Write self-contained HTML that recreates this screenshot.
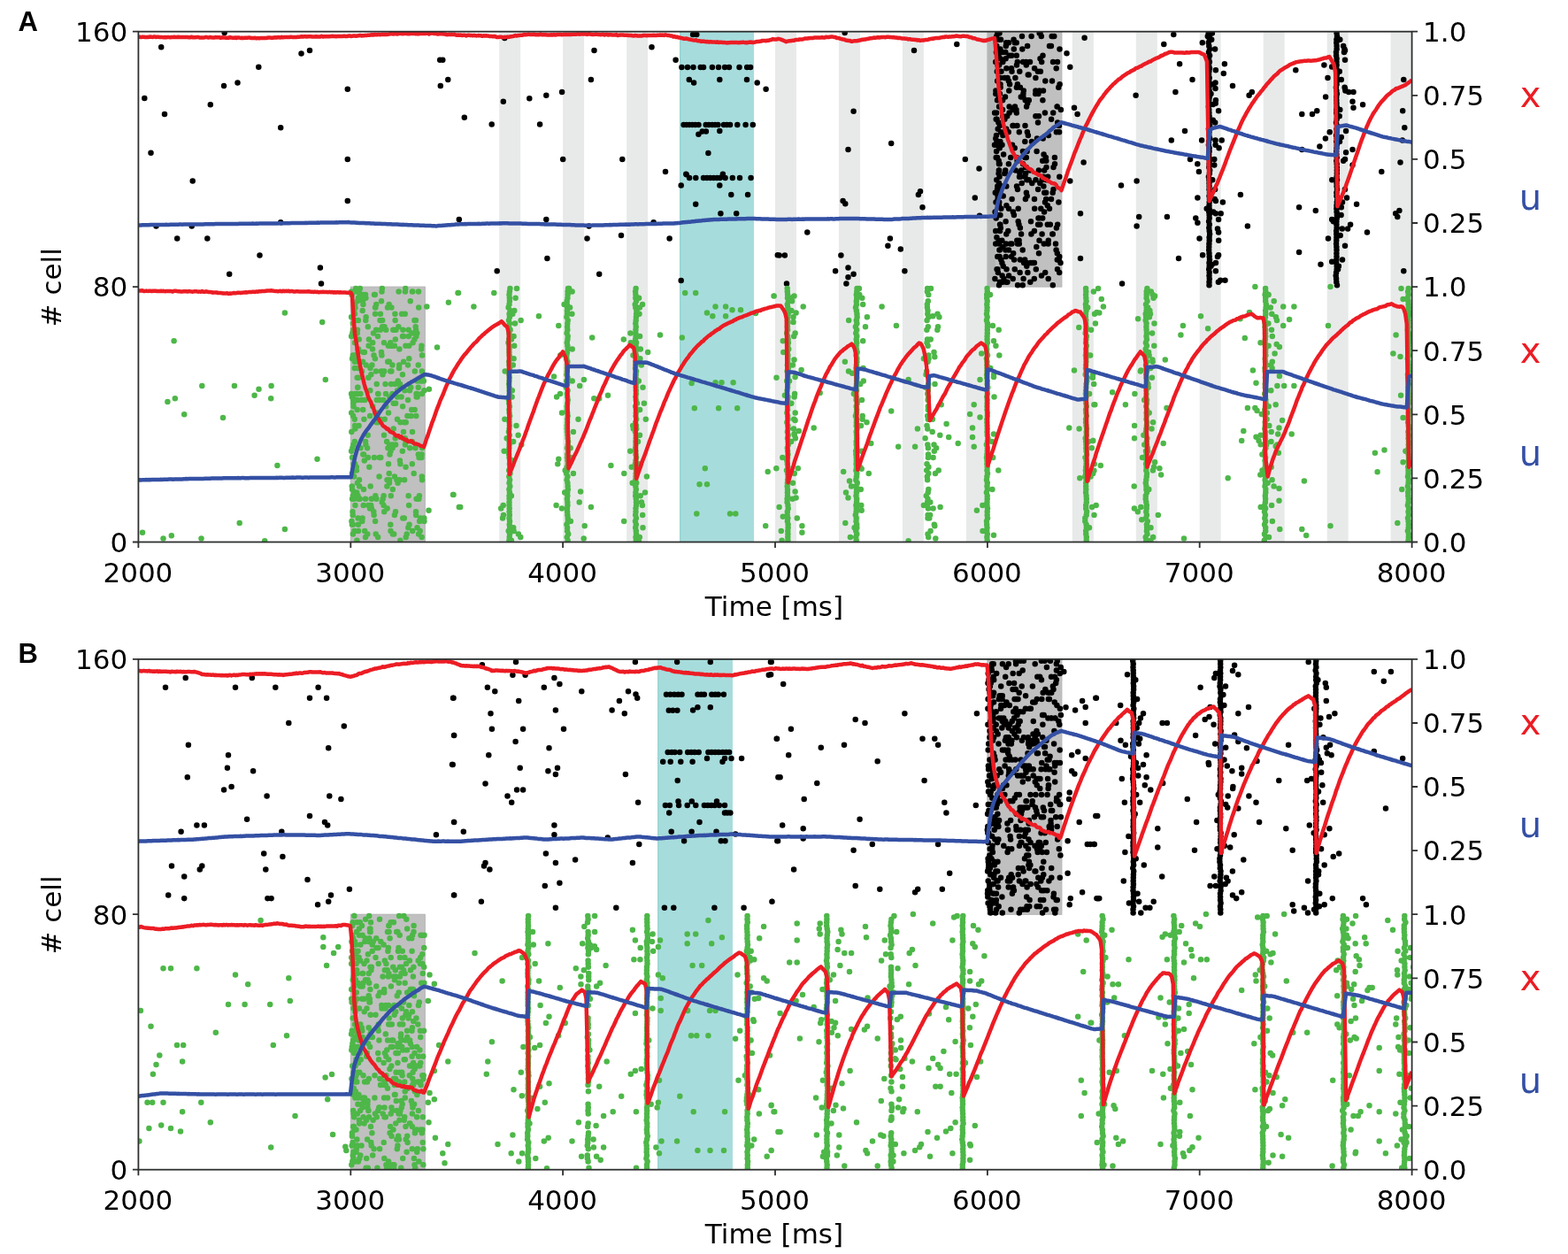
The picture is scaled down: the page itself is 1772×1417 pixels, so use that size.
<!DOCTYPE html>
<html><head><meta charset="utf-8"><title>Figure</title>
<style>html,body{margin:0;padding:0;background:#fff;}svg{display:block;}</style></head>
<body><svg width="1772" height="1417" viewBox="0 0 1772 1417"><defs><clipPath id="clipA"><rect x="156.4" y="35.7" width="1439.2" height="576.8"/></clipPath><clipPath id="clipB"><rect x="156.4" y="744.9" width="1439.2" height="576.8"/></clipPath></defs><rect x="0" y="0" width="1772" height="1417" fill="#ffffff"/><rect x="564.2" y="35.7" width="24" height="576.8" fill="#e8eaea"/><rect x="636.1" y="35.7" width="24" height="576.8" fill="#e8eaea"/><rect x="708.1" y="35.7" width="24" height="576.8" fill="#e8eaea"/><rect x="876" y="35.7" width="24" height="576.8" fill="#e8eaea"/><rect x="948" y="35.7" width="24" height="576.8" fill="#e8eaea"/><rect x="1019.9" y="35.7" width="24" height="576.8" fill="#e8eaea"/><rect x="1091.9" y="35.7" width="24" height="576.8" fill="#e8eaea"/><rect x="1211.8" y="35.7" width="24" height="576.8" fill="#e8eaea"/><rect x="1283.8" y="35.7" width="24" height="576.8" fill="#e8eaea"/><rect x="1355.7" y="35.7" width="24" height="576.8" fill="#e8eaea"/><rect x="1427.7" y="35.7" width="24" height="576.8" fill="#e8eaea"/><rect x="1499.7" y="35.7" width="24" height="576.8" fill="#e8eaea"/><rect x="1571.6" y="35.7" width="24" height="576.8" fill="#e8eaea"/><rect x="768.1" y="35.7" width="84" height="576.8" fill="#a7dcdc"/><rect x="768.1" y="35.7" width="1.2" height="576.8" fill="#94d3cf"/><rect x="1115.9" y="35.7" width="84" height="288.4" fill="#c0c0c0" stroke="#b4b4b4" stroke-width="1"/><rect x="396.3" y="324.1" width="84" height="288.4" fill="#c0c0c0" stroke="#b4b4b4" stroke-width="1"/><rect x="1116.4" y="35.7" width="8.4" height="288.4" fill="#b4b6b6"/><rect x="743.2" y="744.9" width="84.8" height="576.8" fill="#a7dcdc"/><rect x="743.2" y="744.9" width="1.2" height="576.8" fill="#94d3cf"/><rect x="1115.9" y="744.9" width="84" height="288.4" fill="#c0c0c0" stroke="#b4b4b4" stroke-width="1"/><rect x="396.3" y="1033.2" width="84" height="288.4" fill="#c0c0c0" stroke="#b4b4b4" stroke-width="1"/><g clip-path="url(#clipA)"><path d="M182.2 53.3h0M253.7 37h0M163.3 111.1h0M186 129.1h0M170.5 172.7h0M237.8 118.3h0M253.1 97.1h0M268.5 93.5h0M292.3 75.7h0M340.5 60.5h0M350 56.9h0M317.2 144.3h0M217.7 204.6h0M392.8 100.7h0M392.8 179.9h0M392.8 227.1h0M497.2 67.7h0M500.3 67.7h0M506.3 89.9h0M497.8 97.1h0M518.8 248h0M176.5 255.4h0M216.7 255.4h0M317.2 251.2h0M200.2 269.6h0M234.3 269.6h0M293.5 288.5h0M361.9 302.4h0M259.2 309.8h0M363 320.4h0M570.3 43.1h0M671.5 56.9h0M736.5 53.3h0M763.6 67.7h0M783.1 38.9h0M787.3 38.9h0M778.8 89.9h0M784.1 93.5h0M813.3 89.9h0M844 89.9h0M855.7 93.5h0M865.6 100.7h0M667.9 89.9h0M635.1 104.1h0M617.3 107.7h0M598.3 111.3h0M568.8 114.7h0M524.8 132.7h0M555.7 140.5h0M610.1 140.5h0M789.4 151.7h0M793.7 148.5h0M797.9 148.5h0M813.3 148.1h0M800.4 172.9h0M636.2 179.9h0M703.3 179.9h0M752 194.1h0M775.7 197.2h0M769.7 209.5h0M813.3 209.5h0M826.3 220.1h0M845.1 220.1h0M786.2 230.7h0M814.4 241.3h0M832.2 241.3h0M617.3 248h0M665.6 255.4h0M738.6 251.2h0M663.5 269.6h0M702 266h0M756.6 269.6h0M878.8 288.3h0M618.4 292.1h0M561.7 306.3h0M677.2 309.8h0M769.7 317h0M954.7 37h0M1033 56.9h0M1081.3 49.9h0M1225.6 42.7h0M1205.5 60.3h0M1209.3 75.7h0M964.6 125.7h0M1214 121.7h0M1217.6 128.9h0M1007.2 161.9h0M958.5 169.1h0M1090.8 179.9h0M1106.5 190.5h0M1224.6 183.5h0M1209.3 204.6h0M1040 216.3h0M1037.9 220.1h0M1101.8 223.5h0M952.6 226.9h0M955.3 230.3h0M1042.5 234.3h0M1221 241.3h0M1107 243.8h0M912.3 262.4h0M1005.9 269.6h0M1003.4 277.7h0M1017.8 281.5h0M880.6 288.5h0M886.9 288.5h0M950.4 288.5h0M1221 292.1h0M944.1 306.3h0M958.5 302.6h0M964.6 309.8h0M958.5 313.2h0M956.4 320.4h0M1022.4 306.3h0M889 320.4h0M1326.3 38.9h0M1315.3 49.9h0M1333.1 72.3h0M1347.5 89.9h0M1328.4 104.1h0M1283.6 107.7h0M1339 147.9h0M1323.8 158.5h0M1358.1 158.5h0M1345 179.9h0M1354.9 194.1h0M1267 209.5h0M1284.6 204.6h0M1353.4 223.5h0M1287.2 244.9h0M1284.6 255.4h0M1318.9 244.9h0M1353.4 251.8h0M1355.5 269.6h0M1359.1 288.3h0M1332 292.1h0M1268.1 320.4h0M1383.9 72.3h0M1373.9 79.3h0M1382.8 82.9h0M1393 97.1h0M1373.5 93.5h0M1373.5 99.9h0M1370.8 117.9h0M1377.1 125.3h0M1370.8 135.8h0M1373.5 158.5h0M1380.7 158.5h0M1372.3 179.9h0M1372.3 186.6h0M1373.9 226.9h0M1373.9 241.3h0M1379.7 241.3h0M1377.1 248h0M1376 258.6h0M1377.1 262.4h0M1377.1 288.3h0M1369.7 298.8h0M1373.9 306.3h0M1379.2 316.8h0M1384.5 316.8h0M1411.6 107.7h0M1414.8 104.1h0M1401.9 220.1h0M1409.9 255.4h0M1464.3 79.3h0M1471.3 128.9h0M1483 128.9h0M1488.3 125.3h0M1471.3 169.1h0M1491.4 165.5h0M1468.1 234.3h0M1486.8 237.9h0M1468.1 285.1h0M1492.5 298.8h0M1505.2 75.5h0M1520 56.9h0M1520 67.7h0M1515.8 89.9h0M1520 99.9h0M1524.2 104.1h0M1529.5 104.1h0M1528.5 114.7h0M1529.5 121.7h0M1540.1 118.3h0M1521.1 147.9h0M1515.8 154.9h0M1521.1 172.3h0M1528.5 169.1h0M1520 179.9h0M1528.5 186.6h0M1561.3 194.1h0M1522.1 223.5h0M1533.1 230.7h0M1515.8 234.3h0M1505.2 248h0M1516.8 258.6h0M1523.2 258.6h0M1545 262.4h0M1501 269.6h0M1514.7 266h0M1520 277.7h0M1505.2 295.7h0M1586.3 89.9h0M1585.2 125.3h0M1587.3 144.3h0M1582.5 183.5h0M1577.2 241.3h0M1581.4 237.9h0M1579.3 244.9h0M1586.3 306.3h0M1584.8 158.5h0M770.4 75.9h0M777 75.9h0M783.5 75.9h0M791.7 75.9h0M795 75.9h0M804.9 75.9h0M812 75.9h0M819.1 75.9h0M824 75.9h0M835.5 75.9h0M844.2 75.9h0M848.1 75.9h0M772.6 141h0M775.9 141h0M779.1 141h0M782.4 141h0M785.7 141h0M789.5 141h0M797.7 141h0M801 141h0M804.9 141h0M808.1 141h0M811.4 141h0M818 141h0M821.3 141h0M825.1 141h0M833.3 141h0M842.6 141h0M850.8 141h0M779.1 201.1h0M786.3 201.1h0M795 201.1h0M798.8 201.1h0M802.7 201.1h0M806.5 201.1h0M810.3 201.1h0M813.6 201.1h0M819.6 201.1h0M827.8 201.1h0M836 201.1h0M848.6 201.1h0M775.3 196.8h0M816.9 196.8h0M1141.1 95.2h0M1183.8 232.2h0M1174.7 37.5h0M1149 210.5h0M1168.9 261h0M1174.5 271.8h0M1194.6 120.4h0M1195.2 253.8h0M1174 286.2h0M1157.1 297.1h0M1190.5 188.9h0M1148.5 124h0M1179 102.4h0M1130.1 261h0M1136 109.6h0M1158.9 225h0M1144 163.7h0M1138.5 88h0M1133.7 300.7h0M1168.9 297.1h0M1188.1 134.8h0M1193.9 149.3h0M1178.4 113.2h0M1193.7 77.2h0M1165 250.2h0M1161.1 51.9h0M1144.5 142h0M1173.9 192.5h0M1148.8 127.6h0M1143.3 62.7h0M1149.5 142h0M1150.7 250.2h0M1124.4 315.1h0M1145.2 142h0M1129.1 167.3h0M1137.2 145.7h0M1146.8 48.3h0M1135.3 196.1h0M1140.3 102.4h0M1159.7 188.9h0M1143.1 289.9h0M1144.9 239.4h0M1143.5 80.8h0M1139.9 185.3h0M1161.2 116.8h0M1186.9 253.8h0M1137.5 304.3h0M1137.4 77.2h0M1180.3 217.8h0M1139.7 149.3h0M1181 228.6h0M1130.4 253.8h0M1170.4 102.4h0M1171.6 170.9h0M1137.1 48.3h0M1175.4 253.8h0M1130.1 80.8h0M1156.2 69.9h0M1170.4 131.2h0M1137.4 232.2h0M1124.7 239.4h0M1189.3 264.6h0M1197 142h0M1152.4 196.1h0M1144.7 124h0M1128.4 44.7h0M1154.7 206.9h0M1142 275.4h0M1182.5 188.9h0M1165.4 264.6h0M1151.5 253.8h0M1149 178.1h0M1145.2 286.2h0M1130.4 243h0M1160.1 297.1h0M1195 69.9h0M1126.1 44.7h0M1133.1 59.1h0M1180.1 239.4h0M1136.6 66.3h0M1148.9 98.8h0M1150 214.1h0M1162.7 203.3h0M1155.7 322.3h0M1189.8 322.3h0M1160.3 300.7h0M1160.1 120.4h0M1196.3 98.8h0M1177 311.5h0M1174.3 246.6h0M1150.1 322.3h0M1174.7 102.4h0M1197.3 199.7h0M1127.5 73.6h0M1145.8 55.5h0M1169.1 77.2h0M1149.8 69.9h0M1181.2 307.9h0M1124.1 127.6h0M1198.5 297.1h0M1182.2 225h0M1159.8 73.6h0M1136.7 289.9h0M1155.9 170.9h0M1136.2 196.1h0M1143.4 275.4h0M1194.7 120.4h0M1176.8 41.1h0M1178.2 181.7h0M1162.8 113.2h0M1137.3 264.6h0M1190 69.9h0M1177.2 69.9h0M1197.5 55.5h0M1161.8 84.4h0M1170.2 106h0M1132.6 311.5h0M1129.1 232.2h0M1190.5 214.1h0M1164.3 318.7h0M1137.3 210.5h0M1136.4 282.6h0M1189.8 264.6h0M1149.6 181.7h0M1198.9 124h0M1146.7 167.3h0M1151.8 149.3h0M1133 124h0M1180.9 127.6h0M1159.6 69.9h0M1156.8 102.4h0M1155.7 282.6h0M1181.3 91.6h0M1170.5 203.3h0M1127.3 210.5h0M1139.3 261h0M1197.6 95.2h0M1140.1 311.5h0M1126.4 134.8h0M1173 138.4h0M1149.9 95.2h0M1156.6 315.1h0M1136.8 51.9h0M1152 199.7h0M1140.6 120.4h0M1175.9 80.8h0M1159.3 188.9h0M1132.2 210.5h0M1169.2 235.8h0M1191.9 178.1h0M1196.7 293.5h0M1189 91.6h0M1161.2 113.2h0M1159.9 217.8h0M1163.8 192.5h0M1135.3 88h0M1169 225h0M1140.7 62.7h0M1145.6 44.7h0M1172.9 80.8h0M1196.4 142h0M1195.2 138.4h0M1186 51.9h0M1138.2 131.2h0M1140 282.6h0M1149 73.6h0M1175.5 37.5h0M1158.5 199.7h0M1124.8 217.8h0M1147.4 88h0M1149.3 271.8h0M1170.8 304.3h0M1182.4 203.3h0M1159.8 178.1h0M1181.9 178.1h0M1164.6 297.1h0M1180.2 192.5h0M1189.7 217.8h0M1158.3 178.1h0M1197.3 289.9h0M1158.2 293.5h0M1129.9 106h0M1184.7 315.1h0M1133.4 279h0M1144.7 315.1h0M1160.4 203.3h0M1156.1 185.3h0M1168.8 315.1h0M1179.6 174.5h0M1165.6 41.1h0M1193.9 257.4h0M1139.9 48.3h0M1129 55.5h0M1179.8 275.4h0M1143.6 225h0M1194.8 293.5h0M1175.3 206.9h0M1148.7 48.3h0M1138.4 318.7h0M1194.8 286.2h0M1136.3 59.1h0M1139.9 91.6h0M1188.7 41.1h0M1152.6 307.9h0M1154.1 264.6h0M1191.3 41.1h0M1152.8 293.5h0M1177.6 203.3h0M1172 156.5h0M1175.5 66.3h0M1162.6 84.4h0M1148.8 62.7h0M1151.6 271.8h0M1160.7 221.4h0M1126.6 134.8h0M1147.7 192.5h0M1142.2 178.1h0M1183.8 253.8h0M1152.9 257.4h0M1155 41.1h0M1176.3 235.8h0M1186 235.8h0M1140 235.8h0M1145.9 243h0M1133.7 221.4h0M1156.4 106h0M1133.4 152.9h0M1160.6 170.9h0M1161.9 152.9h0M1129 120.4h0M1160.9 149.3h0M1197.2 307.9h0M1173.5 246.6h0M1193 275.4h0M1137.1 318.7h0M1127.6 221.4h0M1151.8 275.4h0M1133.1 113.2h0M1182.3 181.7h0M1184.2 199.7h0M1137 275.4h0M1178.5 62.7h0M1127.6 225h0M1128.9 185.3h0M1178.2 246.6h0M1182.1 217.8h0M1190.2 127.6h0M1184.8 271.8h0M1152.9 98.8h0M1173.1 214.1h0M1197.1 149.3h0M1140.6 127.6h0M1124 163.7h0M1146.1 293.5h0M1129.2 228.6h0M1195 304.3h0M1135.4 134.8h0M1196.4 228.6h0M1164 69.9h0M1145.6 124h0M1174 131.2h0M1150 275.4h0M1192 185.3h0M1158.7 113.2h0M1158.3 160.1h0M1153.8 109.6h0M1156.4 109.6h0M1166 160.1h0M1158.5 142h0M1135.2 149.3h0M1179.4 210.5h0M1184.6 275.4h0M1167 297.1h0M1155.3 55.5h0M1173.4 106h0M1146.8 304.3h0M1136.2 192.5h0M1133.1 131.2h0M1161.4 307.9h0M1136.6 250.2h0M1185 152.9h0M1130 253.8h0M1153.4 199.7h0M1177.6 264.6h0M1170.4 88h0M1187.9 51.9h0M1147 120.4h0M1143 77.2h0M1188 225h0M1193.6 282.6h0M1166.3 206.9h0M1154.2 192.5h0M1152.3 80.8h0M1171.3 279h0M1150.7 235.8h0M1133.3 69.9h0M1159.1 196.1h0M1178.7 156.5h0M1173.1 253.8h0M1178.9 199.7h0M1129 322.3h0M1129.9 318.7h0M1133.1 318.7h0M1134.4 315.1h0M1127.9 307.9h0M1126.6 304.3h0M1127.4 304.3h0M1132.4 297.1h0M1131.3 293.5h0M1127.3 289.9h0M1129.6 289.9h0M1129.7 282.6h0M1129.4 282.6h0M1129.2 275.4h0M1125.2 275.4h0M1128.6 271.8h0M1132.3 271.8h0M1126.4 268.2h0M1125.2 261h0M1130.8 257.4h0M1130.4 253.8h0M1125.7 246.6h0M1127.7 243h0M1130.2 243h0M1124.6 239.4h0M1131.4 235.8h0M1128.6 232.2h0M1125.5 228.6h0M1129 221.4h0M1129.2 221.4h0M1130 217.8h0M1127 214.1h0M1128.7 214.1h0M1129.7 210.5h0M1128.9 206.9h0M1126.3 203.3h0M1129.5 199.7h0M1128.5 196.1h0M1128.8 192.5h0M1129.1 192.5h0M1129.7 185.3h0M1128.7 181.7h0M1125.7 178.1h0M1127.1 178.1h0M1134.1 174.5h0M1126.1 170.9h0M1129.7 167.3h0M1126.7 163.7h0M1132.5 163.7h0M1126.4 160.1h0M1130.4 160.1h0M1125.3 156.5h0M1126 152.9h0M1131 149.3h0M1127.7 145.7h0M1129.9 142h0M1128.4 138.4h0M1125.7 134.8h0M1126.1 127.6h0M1127 113.2h0M1128.9 109.6h0M1128.8 109.6h0M1125.3 106h0M1125.4 102.4h0M1130.6 98.8h0M1130.5 95.2h0M1130 95.2h0M1127.1 91.6h0M1129.8 88h0M1130.4 88h0M1131.5 80.8h0M1126.8 80.8h0M1129.1 73.6h0M1125.2 69.9h0M1130.4 66.3h0M1128.5 62.7h0M1125.9 59.1h0M1129.3 59.1h0M1130.4 55.5h0M1126.3 51.9h0M1131 44.7h0M1126.2 41.1h0M1127.3 37.5h0M1129.5 37.5h0M1366.5 322.3h0M1366.5 318.7h0M1376.9 318.7h0M1366.8 315.1h0M1366.5 311.5h0M1366.7 307.9h0M1366.2 304.3h0M1366.7 300.7h0M1368.5 300.7h0M1366.5 297.1h0M1374 297.1h0M1367 293.5h0M1366.7 289.9h0M1376 289.9h0M1366.5 286.2h0M1366.2 282.6h0M1366.3 279h0M1366.4 275.4h0M1366.7 271.8h0M1377.2 271.8h0M1366.6 268.2h0M1367.1 264.6h0M1366.7 261h0M1366.3 257.4h0M1366.8 253.8h0M1366.1 250.2h0M1366.7 246.6h0M1351.3 246.6h0M1366.6 243h0M1366.2 239.4h0M1371.2 239.4h0M1366.6 235.8h0M1363.7 235.8h0M1366.5 232.2h0M1366.7 228.6h0M1381.9 228.6h0M1366.9 225h0M1372.7 225h0M1366.5 221.4h0M1366.9 217.8h0M1366.5 214.1h0M1373.1 214.1h0M1366.6 210.5h0M1366.5 206.9h0M1366.4 203.3h0M1370.2 203.3h0M1365.9 199.7h0M1366.9 196.1h0M1367.2 192.5h0M1366.3 188.9h0M1366.6 185.3h0M1353.3 185.3h0M1366.8 181.7h0M1366.4 178.1h0M1366.2 174.5h0M1366.6 170.9h0M1366.6 167.3h0M1377.6 167.3h0M1365.9 163.7h0M1373.6 163.7h0M1366.1 160.1h0M1367.2 156.5h0M1366.4 152.9h0M1366.5 149.3h0M1365.9 145.7h0M1367.2 142h0M1366.7 138.4h0M1373.2 138.4h0M1366.3 134.8h0M1366.6 131.2h0M1366.4 127.6h0M1366.3 124h0M1365.9 120.4h0M1366.3 116.8h0M1373.7 116.8h0M1366.3 113.2h0M1373.9 113.2h0M1366.9 109.6h0M1366.8 106h0M1368.5 106h0M1366.7 102.4h0M1366.4 98.8h0M1366.2 95.2h0M1371.2 95.2h0M1366.3 91.6h0M1366.7 88h0M1366.1 84.4h0M1366.4 80.8h0M1367 77.2h0M1366.2 73.6h0M1366.9 69.9h0M1366.1 66.3h0M1367.1 62.7h0M1366 59.1h0M1367 55.5h0M1373.1 55.5h0M1366.3 51.9h0M1365.8 48.3h0M1358.8 48.3h0M1366.7 44.7h0M1369.2 44.7h0M1366.9 41.1h0M1364.8 41.1h0M1365.7 37.5h0M1369.9 37.5h0M1511 322.3h0M1510.3 318.7h0M1510.1 315.1h0M1509.7 311.5h0M1510.1 307.9h0M1510.7 304.3h0M1512.1 304.3h0M1510.7 300.7h0M1512.9 300.7h0M1510.2 297.1h0M1510.3 293.5h0M1517 293.5h0M1510.5 289.9h0M1510.4 286.2h0M1510.5 282.6h0M1510.4 279h0M1510.1 275.4h0M1510.3 271.8h0M1510.4 268.2h0M1510.3 264.6h0M1510.2 261h0M1510.6 257.4h0M1510.4 253.8h0M1526.1 253.8h0M1510.4 250.2h0M1506.9 250.2h0M1510.8 246.6h0M1510.9 243h0M1515.6 243h0M1510.6 239.4h0M1510.4 235.8h0M1510.5 232.2h0M1510.8 228.6h0M1517 228.6h0M1511.2 225h0M1510.5 221.4h0M1510.4 217.8h0M1511 214.1h0M1519.9 214.1h0M1510.6 210.5h0M1510.5 206.9h0M1511 203.3h0M1505.3 203.3h0M1510.6 199.7h0M1510.8 196.1h0M1510.8 192.5h0M1510.8 188.9h0M1510.7 185.3h0M1510.3 181.7h0M1518.2 181.7h0M1510.7 178.1h0M1510.4 174.5h0M1510.3 170.9h0M1510.5 167.3h0M1510.7 163.7h0M1510.3 160.1h0M1514 160.1h0M1510.6 156.5h0M1497.9 156.5h0M1510.1 152.9h0M1510.7 149.3h0M1502.7 149.3h0M1510.5 145.7h0M1510.9 142h0M1510 138.4h0M1510.7 134.8h0M1510.9 131.2h0M1513.7 131.2h0M1510.2 127.6h0M1510.3 124h0M1514.3 124h0M1510.7 120.4h0M1510.5 116.8h0M1510.4 113.2h0M1510.3 109.6h0M1498.1 109.6h0M1510.9 106h0M1510.4 102.4h0M1520.4 102.4h0M1509.9 98.8h0M1519.6 98.8h0M1510.6 95.2h0M1510.9 91.6h0M1510.5 88h0M1500.5 88h0M1510.8 84.4h0M1510.6 80.8h0M1513.8 80.8h0M1510.2 77.2h0M1510.6 73.6h0M1496.4 73.6h0M1510.5 69.9h0M1510.6 66.3h0M1510.1 62.7h0M1510 59.1h0M1519 59.1h0M1510.6 55.5h0M1519.4 55.5h0M1510.6 51.9h0M1518.2 51.9h0M1510.3 48.3h0M1510.4 44.7h0M1514.3 44.7h0M1511 41.1h0M1510.6 37.5h0" stroke="#000000" stroke-width="6.5" stroke-linecap="round" fill="none"/><path d="M321.9 353.6h0M364.2 364.1h0M196.6 385.3h0M228.3 436.1h0M264.9 436.1h0M292.5 439.7h0M306.6 436.1h0M287.6 446.7h0M306.2 450.3h0M197.8 450.3h0M189.4 453.9h0M208.2 468.3h0M252 471.9h0M367.8 429.1h0M358.5 518.7h0M313.4 526.1h0M270.7 591.1h0M321.9 598.1h0M161 601.7h0M184.5 608.6h0M193.8 605.3h0M227.5 608.6h0M299.2 611.2h0M517.5 331.1h0M506.9 341.7h0M482.3 346.6h0M494 392.5h0M484.9 439.7h0M512 558.9h0M518.8 573.1h0M484.5 576.7h0M518 331.1h0M558.3 331.1h0M535.4 346.6h0M608.9 357.2h0M631.3 368h0M669.2 381.5h0M746 378.5h0M770.8 381.5h0M774.2 331.1h0M786.2 331.1h0M808.5 346.6h0M820.1 346.6h0M799 353.6h0M805.3 357.2h0M820.1 357.2h0M827.5 350.2h0M837 350.2h0M854 354h0M874.5 334.5h0M781.6 433h0M808.5 432.3h0M815.5 432.3h0M828.6 432.3h0M784.8 461.3h0M812.1 461.3h0M833.2 461.3h0M796.8 529.3h0M790.5 547.3h0M799 547.3h0M787.3 580.5h0M825 580.5h0M831.3 580.5h0M867.7 532.9h0M877.3 529.3h0M865.2 594.2h0M631.3 518.7h0M690.4 526.1h0M687 446.7h0M677.2 450.3h0M671.3 450.3h0M512.5 558.9h0M520.2 573.1h0M667.9 573.1h0M656.1 555.5h0M660.7 594.2h0M659.7 608.4h0M626 425.5h0M655.2 435.9h0M659.9 429.1h0M874.7 334.5h0M907.7 346.6h0M899.6 353.6h0M896.5 364.1h0M897.5 334.5h0M884.8 385.3h0M897.5 406.5h0M905.6 417.9h0M898.6 426h0M886.9 446.7h0M898.6 475.1h0M902.8 486.9h0M897.5 490.5h0M919.7 483.5h0M926.7 444h0M877.4 529.3h0M901.8 529.3h0M898.6 555.5h0M899.6 562.5h0M880.6 573.1h0M884.8 583.7h0M906.4 594.2h0M906.4 601.7h0M996.6 346.6h0M975.2 385.3h0M1012.9 368h0M963.1 421.7h0M1026.6 429.1h0M1007.2 464.5h0M984.3 501.1h0M1015.2 504.7h0M1034.1 504.7h0M953.2 532.9h0M960 543.4h0M958.5 562.5h0M973.7 576.7h0M955.3 591.1h0M973.7 529.7h0M1054.2 357.2h0M1056.3 403.3h0M1063.7 457.3h0M1069.6 478.9h0M1072.2 494.1h0M1082.7 501.1h0M1100.7 457.3h0M1096.1 467.9h0M1107.5 471.5h0M1099 483.5h0M1099 494.1h0M1100.7 504.7h0M1107.5 429.1h0M1109.2 399.5h0M1121.9 368h0M1123 385.3h0M1123 426h0M1123 490.5h0M1103.9 576.7h0M1123 604.8h0M1062.6 573.1h0M1056.3 594.2h0M1057.3 608.4h0M1026.6 611.2h0M1214 418.6h0M1208.3 483.5h0M1220.3 540.3h0M1219.3 369.9h0M1239.4 352.9h0M1237.3 457.3h0M1235.2 497.9h0M1234.1 573.1h0M1244.8 338.1h0M1246.9 346.6h0M1242.3 353.6h0M1286.1 360.3h0M1305.1 334.5h0M1316.8 406.5h0M1302.4 406.5h0M1289.3 418.6h0M1257.1 443.3h0M1271.9 457.3h0M1236.4 457.3h0M1235.3 497.9h0M1243.8 526.1h0M1236.4 531.8h0M1314.7 501.1h0M1318.5 460.9h0M1310.4 529.3h0M1312.1 536.5h0M1305.1 522.3h0M1289.3 573.1h0M1290.3 587.3h0M1338 608.4h0M1336.9 368h0M1334.4 378.5h0M1357 357.2h0M1365.1 371.3h0M1401.5 360.3h0M1406.8 381.9h0M1412 352.9h0M1418.4 323.9h0M1415.9 418.6h0M1419.5 432.7h0M1409.9 460.9h0M1418.4 460.9h0M1420.5 464.1h0M1425.8 467.9h0M1405.3 486.9h0M1403.2 497.9h0M1419.5 493.7h0M1422.6 497.9h0M1424.7 502.2h0M1387.7 540.3h0M1424.3 536.5h0M1424.7 573.1h0M1450.2 346.6h0M1462.4 346.6h0M1457.1 361h0M1450.2 368h0M1442.7 388.9h0M1445.9 392.1h0M1440.6 399.5h0M1445.9 424.9h0M1443.4 436.1h0M1451.2 436.1h0M1462.4 436.1h0M1441.7 457.3h0M1449.1 475.1h0M1445.5 483.5h0M1444.2 490.5h0M1441.7 504.3h0M1444.9 511.7h0M1459.7 490.5h0M1473.9 543.4h0M1445.5 551.9h0M1445.5 565.7h0M1446.3 598.1h0M1471.3 598.1h0M1476.2 605h0M1503.5 323.9h0M1501 368h0M1503.5 594.2h0M1553.9 511.7h0M1564.5 508.5h0M1556.6 533.3h0M1577.6 378.5h0M1574.4 399.5h0M1582.5 403.1h0M1585.6 338.1h0M1583.1 446.7h0M1585.6 472.1h0M1585.6 522.3h0M1579.3 591.1h0M458.2 325.9h0M468.4 362h0M457.9 329.5h0M428.7 452.1h0M424.3 560.2h0M446.8 383.6h0M473.2 347.5h0M416.6 390.8h0M406.9 325.9h0M403.4 610.7h0M427.1 607.1h0M424 347.5h0M399.5 459.3h0M434.5 369.2h0M441.2 419.6h0M405.3 426.8h0M440.1 542.2h0M417.3 527.8h0M399.2 452.1h0M400.8 473.7h0M404.2 444.9h0M449.1 441.3h0M468.6 462.9h0M438 347.5h0M465.3 376.4h0M441.8 560.2h0M473.9 560.2h0M462.5 592.7h0M410.3 513.4h0M441.5 599.9h0M469.4 506.2h0M415.9 517h0M422.9 517h0M440 545.8h0M405.8 329.5h0M461.6 560.2h0M415.3 603.5h0M434.2 419.6h0M406.2 549.4h0M415.1 506.2h0M461 412.4h0M454.1 354.7h0M438.2 408.8h0M413 333.1h0M403.7 452.1h0M437.4 549.4h0M458.7 498.9h0M475.2 585.5h0M438.4 506.2h0M455 380h0M404.5 408.8h0M425.1 372.8h0M442.4 347.5h0M425.7 434.1h0M418.1 470.1h0M457.7 495.3h0M451.2 412.4h0M464.6 470.1h0M413 563.8h0M429.9 354.7h0M398.8 592.7h0M436.2 459.3h0M419.6 563.8h0M455.1 459.3h0M474.7 599.9h0M445.2 603.5h0M477 542.2h0M472.8 513.4h0M424.9 419.6h0M431 398h0M449.8 430.4h0M409 419.6h0M412.2 599.9h0M410.2 462.9h0M465.8 524.2h0M403.7 426.8h0M468.8 419.6h0M468.4 383.6h0M397.5 333.1h0M409.6 585.5h0M404.2 437.7h0M476.8 426.8h0M457.4 441.3h0M471.5 596.3h0M425.4 563.8h0M456.6 477.3h0M445.9 538.6h0M413.3 362h0M415.8 369.2h0M418 574.6h0M439.9 408.8h0M470 578.3h0M464.3 437.7h0M476.4 390.8h0M443.6 506.2h0M420.4 412.4h0M473.1 603.5h0M450.3 369.2h0M413 607.1h0M427.1 444.9h0M413.7 412.4h0M449 473.7h0M469.7 369.2h0M413.4 502.5h0M422.3 578.3h0M449.1 448.5h0M424.7 603.5h0M432.1 369.2h0M443.4 444.9h0M470.4 380h0M436.2 372.8h0M459.7 603.5h0M410.4 343.9h0M471.3 444.9h0M447.5 372.8h0M432.2 362h0M406.2 549.4h0M466 488.1h0M418.3 441.3h0M409.2 336.7h0M454.9 423.2h0M416.9 383.6h0M458.7 477.3h0M424.4 347.5h0M418.7 549.4h0M439 524.2h0M470.6 563.8h0M476.4 517h0M461.3 596.3h0M453.6 448.5h0M477.1 506.2h0M437.6 574.6h0M423.8 333.1h0M439.6 343.9h0M425.2 343.9h0M470.1 581.9h0M407.5 444.9h0M465.2 462.9h0M452.5 477.3h0M445.6 372.8h0M458.7 607.1h0M436 444.9h0M462.2 390.8h0M411.8 520.6h0M406.7 563.8h0M455.3 585.5h0M419.3 423.2h0M409.7 351.1h0M438.9 408.8h0M456 380h0M398.9 401.6h0M476.1 394.4h0M416.2 571h0M444.3 372.8h0M416.2 426.8h0M473 329.5h0M463.2 506.2h0M452.3 610.7h0M434 387.2h0M467.7 535h0M411.1 513.4h0M447 578.3h0M449.6 545.8h0M421.2 387.2h0M451.9 520.6h0M477.1 401.6h0M479.4 441.3h0M421 394.4h0M433.6 560.2h0M428.5 538.6h0M410 340.3h0M410 408.8h0M461.7 372.8h0M434 491.7h0M476.6 607.1h0M400.9 408.8h0M465.9 329.5h0M463 441.3h0M440 502.5h0M461 452.1h0M447.1 455.7h0M462.1 571h0M424 354.7h0M443.8 553h0M422 376.4h0M461.8 380h0M476.8 419.6h0M456.8 585.5h0M423.9 405.2h0M400.2 354.7h0M427.4 477.3h0M455.9 495.3h0M411 553h0M404.3 394.4h0M442 434.1h0M446.6 362h0M451.4 394.4h0M422.5 401.6h0M431.5 329.5h0M427.5 444.9h0M423 333.1h0M397.2 329.5h0M420 563.8h0M431.7 567.4h0M469.9 362h0M474.7 430.4h0M404.6 585.5h0M466.3 329.5h0M470.5 444.9h0M405.5 480.9h0M457.1 542.2h0M479.3 585.5h0M409.2 333.1h0M434.7 473.7h0M408.5 452.1h0M433.5 571h0M424.3 466.5h0M444.7 455.7h0M457.7 354.7h0M435.5 434.1h0M443.4 412.4h0M418.5 416h0M457.9 502.5h0M451.1 416h0M419.2 571h0M452.4 524.2h0M401.6 444.9h0M428.8 517h0M407.5 506.2h0M478.8 430.4h0M473.6 517h0M441.3 592.7h0M425.3 470.1h0M450.6 329.5h0M463.7 340.3h0M443.8 603.5h0M416.4 426.8h0M437.1 498.9h0M452.3 437.7h0M465.7 498.9h0M427 380h0M437.5 542.2h0M470.3 470.1h0M406.7 333.1h0M410.6 398h0M409.3 589.1h0M470.7 448.5h0M462.3 405.2h0M460.4 470.1h0M430.3 517h0M425.8 452.1h0M403.7 462.9h0M440.4 390.8h0M444.7 484.5h0M473.5 517h0M431 340.3h0M404.9 563.8h0M410.6 333.1h0M472.7 437.7h0M434.2 578.3h0M421.2 459.3h0M439.7 535h0M440.5 513.4h0M441.2 387.2h0M476.9 444.9h0M442.4 419.6h0M466.6 387.2h0M413.4 336.7h0M474.1 589.1h0M446.4 354.7h0M441.5 509.8h0M457.5 477.3h0M446.4 434.1h0M471.6 448.5h0M471.3 430.4h0M431.8 325.9h0M456 488.1h0M479.4 589.1h0M439 466.5h0M454.8 509.8h0M432.5 423.2h0M440.3 448.5h0M458.4 390.8h0M401.3 484.5h0M473.4 563.8h0M429.5 362h0M452 434.1h0M451 416h0M458.5 527.8h0M419.9 574.6h0M448.4 542.2h0M455.4 372.8h0M411.9 398h0M451.8 542.2h0M466.2 599.9h0M433.4 452.1h0M410.7 571h0M422.6 581.9h0M456.1 408.8h0M432.7 563.8h0M477 401.6h0M471.3 376.4h0M445.8 390.8h0M438.9 390.8h0M429.9 372.8h0M443.2 390.8h0M424.1 589.1h0M476.9 430.4h0M403.2 556.6h0M447.1 502.5h0M472.7 412.4h0M413.1 498.9h0M411.4 473.7h0M425.5 477.3h0M401.2 524.2h0M476.8 538.6h0M431.4 401.6h0M415.7 491.7h0M429.2 452.1h0M412.4 452.1h0M445.9 581.9h0M433.9 369.2h0M413.6 358.3h0M476.6 513.4h0M446.7 495.3h0M470 372.8h0M443.5 502.5h0M430.7 419.6h0M425.9 466.5h0M429.5 473.7h0M398.9 603.5h0M400.4 599.9h0M405 599.9h0M397.9 592.7h0M404.9 592.7h0M397.4 589.1h0M398.7 581.9h0M398.5 578.3h0M401.4 571h0M398.1 563.8h0M399.9 563.8h0M398.9 560.2h0M404.5 560.2h0M400.1 556.6h0M398.1 553h0M397.8 549.4h0M403.9 545.8h0M406 542.2h0M399.9 538.6h0M400.1 538.6h0M398 535h0M399.4 531.4h0M402.9 531.4h0M402 527.8h0M402.8 527.8h0M399.5 524.2h0M398.1 517h0M397.1 509.8h0M398.4 506.2h0M399.4 502.5h0M400.8 498.9h0M397.3 488.1h0M401.1 480.9h0M399 470.1h0M397.2 466.5h0M399.3 455.7h0M399.3 452.1h0M397.9 448.5h0M398.6 448.5h0M397.1 444.9h0M403.1 444.9h0M404.4 437.7h0M400.7 416h0M404.6 416h0M404.8 408.8h0M401.2 405.2h0M398.1 405.2h0M399.8 401.6h0M404.5 398h0M405.1 394.4h0M401 387.2h0M405.7 383.6h0M397.1 380h0M398.3 376.4h0M403.7 376.4h0M399 372.8h0M404 372.8h0M398.9 365.6h0M401.3 362h0M404.9 362h0M397.1 358.3h0M400.9 354.7h0M400.3 351.1h0M401.5 347.5h0M401.2 343.9h0M403.9 340.3h0M404.9 336.7h0M402.7 329.5h0M402.1 325.9h0M575.4 610.7h0M577.9 610.7h0M575.7 607.1h0M588.3 607.1h0M576 603.5h0M585.9 603.5h0M574.7 599.9h0M580.6 599.9h0M576.1 596.3h0M580.2 596.3h0M575.7 592.7h0M576 589.1h0M575.5 585.5h0M568.1 585.5h0M575.8 581.9h0M569 581.9h0M575.6 578.3h0M575.7 574.6h0M566.2 574.6h0M575.5 571h0M568.7 571h0M575.5 567.4h0M575.6 563.8h0M575.5 560.2h0M577.9 560.2h0M575.9 556.6h0M575.4 553h0M576.3 549.4h0M575.5 545.8h0M576.1 542.2h0M575.3 538.6h0M576.4 535h0M575.2 531.4h0M576.4 527.8h0M575.9 524.2h0M576.1 520.6h0M579.2 520.6h0M575.5 517h0M575.2 513.4h0M575.1 509.8h0M569.7 509.8h0M575.4 506.2h0M575.6 502.5h0M589.3 502.5h0M575.5 498.9h0M580.1 498.9h0M575 495.3h0M572.7 495.3h0M575.8 491.7h0M585.6 491.7h0M574.9 488.1h0M575.5 484.5h0M575.8 480.9h0M583.5 480.9h0M575.6 477.3h0M575.5 473.7h0M570.4 473.7h0M576.1 470.1h0M575.6 466.5h0M575.4 462.9h0M575.9 459.3h0M575.3 455.7h0M575 452.1h0M575.1 448.5h0M578.6 448.5h0M575.9 444.9h0M575.7 441.3h0M578.8 441.3h0M575.6 437.7h0M575.2 434.1h0M575.5 430.4h0M575.7 426.8h0M575.4 423.2h0M575.6 419.6h0M570.7 419.6h0M575.9 416h0M575.5 412.4h0M579.8 412.4h0M575.3 408.8h0M576.1 405.2h0M580.6 405.2h0M575.7 401.6h0M575.5 398h0M575.5 394.4h0M575.5 390.8h0M581.2 390.8h0M574.5 387.2h0M575.2 383.6h0M577.9 383.6h0M576 380h0M580.6 380h0M575.4 376.4h0M576.6 372.8h0M575.2 369.2h0M575.9 365.6h0M582 365.6h0M575 362h0M588.6 362h0M575.9 358.3h0M575.6 354.7h0M579.3 354.7h0M576.4 351.1h0M581.3 351.1h0M574.6 347.5h0M575.5 343.9h0M575.9 340.3h0M575.8 336.7h0M582.6 336.7h0M575.5 333.1h0M575.9 329.5h0M576.4 325.9h0M584 325.9h0M641.6 610.7h0M640.7 607.1h0M642.2 603.5h0M641.1 599.9h0M641.1 596.3h0M640.4 592.7h0M641.8 589.1h0M644.9 589.1h0M641.7 585.5h0M641.3 581.9h0M641.1 578.3h0M640.9 574.6h0M634.9 574.6h0M641.4 571h0M628.6 571h0M641.3 567.4h0M654.7 567.4h0M640.9 563.8h0M641.3 560.2h0M641.2 556.6h0M638.2 556.6h0M641.8 553h0M641.6 549.4h0M641.4 545.8h0M640.6 542.2h0M641.4 538.6h0M640.2 535h0M647.9 535h0M641 531.4h0M638.7 531.4h0M640.7 527.8h0M641.6 524.2h0M630.3 524.2h0M641.3 520.6h0M641 517h0M644.7 517h0M641.1 513.4h0M641.9 509.8h0M640.9 506.2h0M644.6 506.2h0M641.7 502.5h0M642 498.9h0M641.5 495.3h0M641.3 491.7h0M641 488.1h0M647.9 488.1h0M640.8 484.5h0M640.8 480.9h0M641.1 477.3h0M641.1 473.7h0M653.5 473.7h0M641.6 470.1h0M641.2 466.5h0M635 466.5h0M640.7 462.9h0M640.7 459.3h0M641.2 455.7h0M641.7 452.1h0M641.2 448.5h0M629.1 448.5h0M640.9 444.9h0M633 444.9h0M641.5 441.3h0M639.9 437.7h0M641.1 434.1h0M640.2 430.4h0M646.7 430.4h0M641.5 426.8h0M640.4 423.2h0M640.8 419.6h0M640.9 416h0M641 412.4h0M641.4 408.8h0M640.3 405.2h0M640.4 401.6h0M633.2 401.6h0M641 398h0M641.7 394.4h0M646.7 394.4h0M641.3 390.8h0M640.8 387.2h0M641.4 383.6h0M641.7 380h0M640.6 376.4h0M641.3 372.8h0M641.1 369.2h0M641.3 365.6h0M641.7 362h0M640.4 358.3h0M641 354.7h0M646.4 354.7h0M640.9 351.1h0M641.1 347.5h0M644.1 347.5h0M640.8 343.9h0M637.6 343.9h0M640.7 340.3h0M641.4 336.7h0M641.6 333.1h0M641.6 329.5h0M646.6 329.5h0M642 325.9h0M643.1 325.9h0M718.8 610.7h0M721.9 610.7h0M718.5 607.1h0M722.8 607.1h0M719 603.5h0M718.8 599.9h0M718.2 596.3h0M726.5 596.3h0M718.8 592.7h0M718 589.1h0M705.2 589.1h0M718.9 585.5h0M718.2 581.9h0M726.2 581.9h0M718.5 578.3h0M718.5 574.6h0M719 571h0M725.9 571h0M719 567.4h0M725 567.4h0M718.8 563.8h0M718.2 560.2h0M723.7 560.2h0M718.4 556.6h0M729 556.6h0M718.8 553h0M718.3 549.4h0M719.2 545.8h0M714.7 545.8h0M718.2 542.2h0M718.5 538.6h0M730.9 538.6h0M718.6 535h0M705.3 535h0M718.9 531.4h0M718.5 527.8h0M713.8 527.8h0M717.9 524.2h0M723.5 524.2h0M718.4 520.6h0M719 517h0M718.5 513.4h0M718.4 509.8h0M712.2 509.8h0M718.1 506.2h0M718.5 502.5h0M718.4 498.9h0M721 498.9h0M718.6 495.3h0M718.7 491.7h0M723 491.7h0M717.9 488.1h0M719.2 484.5h0M715.8 484.5h0M719 480.9h0M715.2 480.9h0M718.2 477.3h0M719.2 473.7h0M729.8 473.7h0M718.5 470.1h0M718.7 466.5h0M718.8 462.9h0M723.1 462.9h0M718.1 459.3h0M719.9 455.7h0M727.9 455.7h0M718.7 452.1h0M718.4 448.5h0M718.9 444.9h0M718.8 441.3h0M718.7 437.7h0M726.5 437.7h0M718.8 434.1h0M718.2 430.4h0M721.8 430.4h0M718.6 426.8h0M718.7 423.2h0M719.1 419.6h0M718 416h0M718.3 412.4h0M724.9 412.4h0M718.4 408.8h0M719 405.2h0M723.4 405.2h0M718.9 401.6h0M715.5 401.6h0M718.3 398h0M732.2 398h0M719.1 394.4h0M723.8 394.4h0M718.6 390.8h0M719.1 387.2h0M712.9 387.2h0M718.1 383.6h0M704.8 383.6h0M718.5 380h0M723.1 380h0M718.4 376.4h0M712.4 376.4h0M718.4 372.8h0M718.7 369.2h0M718.3 365.6h0M718.7 362h0M718.9 358.3h0M719.1 354.7h0M722.5 354.7h0M719.3 351.1h0M718.3 347.5h0M722.9 347.5h0M717.7 343.9h0M726.1 343.9h0M719 340.3h0M718.3 336.7h0M722.1 336.7h0M718.4 333.1h0M718.1 329.5h0M718.6 325.9h0M890.4 610.7h0M883.6 610.7h0M890.3 607.1h0M890.4 603.5h0M890.3 599.9h0M882.8 599.9h0M890.6 596.3h0M890.6 592.7h0M889.9 589.1h0M890.3 585.5h0M900.8 585.5h0M889.7 581.9h0M889.8 578.3h0M890.7 574.6h0M890.4 571h0M889.6 567.4h0M889.6 563.8h0M895.6 563.8h0M890 560.2h0M889.9 556.6h0M890 553h0M889.7 549.4h0M889.9 545.8h0M896 545.8h0M890.1 542.2h0M890.5 538.6h0M890.1 535h0M897.8 535h0M889 531.4h0M890.3 527.8h0M889.8 524.2h0M889.3 520.6h0M890 517h0M884.3 517h0M890.4 513.4h0M890.1 509.8h0M889.8 506.2h0M890.7 502.5h0M890.6 498.9h0M894.1 498.9h0M890 495.3h0M898.9 495.3h0M890.7 491.7h0M897.9 491.7h0M889.9 488.1h0M890.7 484.5h0M897 484.5h0M890.4 480.9h0M889.4 477.3h0M890.5 473.7h0M897.3 473.7h0M890.2 470.1h0M889.4 466.5h0M898.7 466.5h0M890.1 462.9h0M890.1 459.3h0M890.1 455.7h0M894.3 455.7h0M890.2 452.1h0M890.5 448.5h0M897.7 448.5h0M889.4 444.9h0M898.1 444.9h0M889.6 441.3h0M890.1 437.7h0M890.2 434.1h0M889.2 430.4h0M892 430.4h0M890.3 426.8h0M877.5 426.8h0M890.3 423.2h0M889.6 419.6h0M890.8 416h0M889.9 412.4h0M895.8 412.4h0M890.2 408.8h0M890.3 405.2h0M890.4 401.6h0M889.9 398h0M885.3 398h0M891.2 394.4h0M890.2 390.8h0M890.9 387.2h0M890.6 383.6h0M890.1 380h0M897.2 380h0M889.2 376.4h0M898.6 376.4h0M890.1 372.8h0M889.9 369.2h0M890.1 365.6h0M890 362h0M889.9 358.3h0M896.5 358.3h0M890.6 354.7h0M890.3 351.1h0M894.4 351.1h0M890.3 347.5h0M889.8 343.9h0M890.8 340.3h0M895.1 340.3h0M890 336.7h0M894.3 336.7h0M890.1 333.1h0M889.8 329.5h0M889.7 325.9h0M967.7 610.7h0M967.3 607.1h0M960.9 607.1h0M968.2 603.5h0M967.3 599.9h0M968.2 596.3h0M965.6 596.3h0M968.1 592.7h0M967.5 589.1h0M967.7 585.5h0M966.8 581.9h0M967.6 578.3h0M967.8 574.6h0M967.4 571h0M973.3 571h0M968 567.4h0M968.1 563.8h0M967.5 560.2h0M967.9 556.6h0M956 556.6h0M968 553h0M972.8 553h0M967.6 549.4h0M962.1 549.4h0M968.7 545.8h0M967.3 542.2h0M967.9 538.6h0M968.2 535h0M981.8 535h0M967.4 531.4h0M967.9 527.8h0M971.9 527.8h0M967.6 524.2h0M967.8 520.6h0M967.7 517h0M967.4 513.4h0M967.2 509.8h0M973.5 509.8h0M968.1 506.2h0M967.8 502.5h0M967.7 498.9h0M968.1 495.3h0M968 491.7h0M967.7 488.1h0M968.4 484.5h0M967.7 480.9h0M973 480.9h0M967.8 477.3h0M979.5 477.3h0M967.9 473.7h0M974.6 473.7h0M966.9 470.1h0M974.7 470.1h0M967.9 466.5h0M968.1 462.9h0M967.7 459.3h0M968.6 455.7h0M967.6 452.1h0M974 452.1h0M967.6 448.5h0M967.2 444.9h0M964.9 444.9h0M967.9 441.3h0M967.5 437.7h0M968 434.1h0M972.2 434.1h0M968.1 430.4h0M975.8 430.4h0M968.2 426.8h0M968 423.2h0M967.7 419.6h0M959 419.6h0M967.5 416h0M975.5 416h0M967.9 412.4h0M968.3 408.8h0M954.9 408.8h0M968.3 405.2h0M967.5 401.6h0M968.6 398h0M967.7 394.4h0M967.6 390.8h0M968.1 387.2h0M967.7 383.6h0M968.2 380h0M967.3 376.4h0M968.1 372.8h0M966.9 369.2h0M978 369.2h0M968.3 365.6h0M967.8 362h0M959.2 362h0M968.6 358.3h0M979.9 358.3h0M968.4 354.7h0M967.8 351.1h0M967 347.5h0M967.9 343.9h0M975.2 343.9h0M967.8 340.3h0M968.2 336.7h0M974.3 336.7h0M967.8 333.1h0M971.3 333.1h0M968.3 329.5h0M968.5 325.9h0M970.9 325.9h0M1049.2 607.1h0M1048.5 603.5h0M1051.6 599.9h0M1055.8 592.7h0M1048.5 585.5h0M1050.3 585.5h0M1048.6 581.9h0M1051.1 581.9h0M1048.9 574.6h0M1054.6 574.6h0M1047.9 571h0M1043.9 571h0M1048 567.4h0M1051.3 567.4h0M1048.5 563.8h0M1046.8 560.2h0M1048.7 556.6h0M1049.3 553h0M1048.1 542.2h0M1047.8 538.6h0M1049.3 535h0M1057 535h0M1047.2 531.4h0M1060.7 531.4h0M1049.4 527.8h0M1047.5 524.2h0M1048.9 517h0M1054.6 517h0M1049 513.4h0M1055.8 509.8h0M1048.9 506.2h0M1058.1 506.2h0M1048.3 502.5h0M1055.5 502.5h0M1045.6 495.3h0M1062.3 491.7h0M1053.7 488.1h0M1048.2 484.5h0M1036.9 484.5h0M1047.5 480.9h0M1048.8 473.7h0M1053.9 473.7h0M1048.2 470.1h0M1048.8 462.9h0M1048.8 459.3h0M1048.6 452.1h0M1049 448.5h0M1048.2 444.9h0M1048.8 441.3h0M1048.9 437.7h0M1046.1 437.7h0M1049.2 434.1h0M1056.5 434.1h0M1046.5 423.2h0M1047.2 419.6h0M1048.6 408.8h0M1049.5 405.2h0M1043.9 405.2h0M1049.3 401.6h0M1055.5 398h0M1048.6 390.8h0M1047.5 387.2h0M1048 383.6h0M1051.7 383.6h0M1047.4 372.8h0M1059.3 372.8h0M1048.8 369.2h0M1060 369.2h0M1047.6 362h0M1049.4 358.3h0M1061.4 358.3h0M1048.3 354.7h0M1059.5 354.7h0M1048.5 351.1h0M1047.9 347.5h0M1047.8 343.9h0M1048.8 340.3h0M1049.3 333.1h0M1047.9 329.5h0M1048.1 325.9h0M1052 325.9h0M1115.7 610.7h0M1115.4 607.1h0M1115.8 603.5h0M1115.2 599.9h0M1110.5 599.9h0M1115.5 596.3h0M1115.2 592.7h0M1115 589.1h0M1116 585.5h0M1115.7 581.9h0M1115.7 578.3h0M1116 574.6h0M1115.5 571h0M1110.4 571h0M1115.5 567.4h0M1115.7 563.8h0M1115.7 560.2h0M1114.9 556.6h0M1115.9 553h0M1121.4 553h0M1115.5 549.4h0M1115.8 545.8h0M1115 542.2h0M1115.4 538.6h0M1116 535h0M1115.5 531.4h0M1128.3 531.4h0M1115.7 527.8h0M1115.4 524.2h0M1115.4 520.6h0M1115 517h0M1122.2 517h0M1115.4 513.4h0M1115.7 509.8h0M1115.8 506.2h0M1114.9 502.5h0M1115.9 498.9h0M1121.1 498.9h0M1116.4 495.3h0M1115.7 491.7h0M1115.5 488.1h0M1115.7 484.5h0M1115.6 480.9h0M1115.4 477.3h0M1115.4 473.7h0M1115.8 470.1h0M1115.9 466.5h0M1115.5 462.9h0M1115.5 459.3h0M1115.6 455.7h0M1115.7 452.1h0M1115.3 448.5h0M1123.5 448.5h0M1115.9 444.9h0M1115.6 441.3h0M1116.3 437.7h0M1115.7 434.1h0M1115.8 430.4h0M1115.3 426.8h0M1115.1 423.2h0M1123.1 423.2h0M1115.4 419.6h0M1115.5 416h0M1119.3 416h0M1115.4 412.4h0M1115.4 408.8h0M1114.9 405.2h0M1116 401.6h0M1129.3 401.6h0M1115.1 398h0M1115.2 394.4h0M1115 390.8h0M1125.4 390.8h0M1115.8 387.2h0M1115.6 383.6h0M1115.6 380h0M1115.8 376.4h0M1115.8 372.8h0M1128.7 372.8h0M1115.9 369.2h0M1115.9 365.6h0M1115 362h0M1115.7 358.3h0M1115 354.7h0M1115.4 351.1h0M1115.6 347.5h0M1115.3 343.9h0M1115.7 340.3h0M1115.2 336.7h0M1115.2 333.1h0M1119 333.1h0M1115.8 329.5h0M1115.6 325.9h0M1227.7 610.7h0M1227.8 607.1h0M1227.3 603.5h0M1227.2 599.9h0M1227.8 596.3h0M1231 596.3h0M1227.6 592.7h0M1226.3 589.1h0M1226.3 585.5h0M1227.7 581.9h0M1236.5 581.9h0M1228.1 578.3h0M1227.2 574.6h0M1227.2 571h0M1238.7 571h0M1227.8 567.4h0M1227.8 563.8h0M1227.6 560.2h0M1227.1 556.6h0M1227.3 553h0M1227.2 549.4h0M1227.2 545.8h0M1227.5 542.2h0M1229 542.2h0M1226.3 538.6h0M1232.6 538.6h0M1227.1 535h0M1235.2 535h0M1226.9 531.4h0M1227.2 527.8h0M1227.6 524.2h0M1236.7 524.2h0M1227.5 520.6h0M1226.5 517h0M1228.1 513.4h0M1227.6 509.8h0M1227.3 506.2h0M1233.8 506.2h0M1227.4 502.5h0M1227.1 498.9h0M1229.9 498.9h0M1226.7 495.3h0M1227.8 491.7h0M1227.7 488.1h0M1228 484.5h0M1219.6 484.5h0M1227.5 480.9h0M1227.1 477.3h0M1227.1 473.7h0M1227.8 470.1h0M1227.3 466.5h0M1227.1 462.9h0M1227.8 459.3h0M1227.3 455.7h0M1227.1 452.1h0M1227.5 448.5h0M1226.9 444.9h0M1231.1 444.9h0M1227.1 441.3h0M1227.4 437.7h0M1227.6 434.1h0M1236.2 434.1h0M1228.2 430.4h0M1228.5 426.8h0M1234.9 426.8h0M1226.7 423.2h0M1235.1 423.2h0M1227.5 419.6h0M1227 416h0M1227.1 412.4h0M1227.4 408.8h0M1227.3 405.2h0M1226.9 401.6h0M1232.2 401.6h0M1227.3 398h0M1227.2 394.4h0M1227.8 390.8h0M1227.1 387.2h0M1227.4 383.6h0M1227.9 380h0M1226.7 376.4h0M1227.2 372.8h0M1233.1 372.8h0M1227.5 369.2h0M1227.2 365.6h0M1237.9 365.6h0M1227.3 362h0M1226.9 358.3h0M1227 354.7h0M1237 354.7h0M1227.5 351.1h0M1227.2 347.5h0M1229.2 347.5h0M1226.9 343.9h0M1227.6 340.3h0M1227.3 336.7h0M1227.1 333.1h0M1227.3 329.5h0M1235.9 329.5h0M1227.1 325.9h0M1241.1 325.9h0M1295.3 610.7h0M1300.4 610.7h0M1294.7 607.1h0M1303.1 607.1h0M1296.5 603.5h0M1295.9 599.9h0M1296.1 596.3h0M1300.5 596.3h0M1295.9 592.7h0M1296.8 589.1h0M1295.1 585.5h0M1295.9 581.9h0M1308.8 581.9h0M1295.3 578.3h0M1285.8 578.3h0M1295.7 574.6h0M1281.9 574.6h0M1295.8 571h0M1295.3 567.4h0M1294.7 563.8h0M1294.8 560.2h0M1296 556.6h0M1295.4 553h0M1298.3 553h0M1295.4 549.4h0M1281.7 549.4h0M1294.8 545.8h0M1295.3 542.2h0M1295.8 538.6h0M1296 535h0M1295.3 531.4h0M1302.9 531.4h0M1295.6 527.8h0M1304 527.8h0M1295.1 524.2h0M1295.7 520.6h0M1295.4 517h0M1291 517h0M1295.5 513.4h0M1295 509.8h0M1297.3 509.8h0M1296.8 506.2h0M1296 502.5h0M1293.3 502.5h0M1295.8 498.9h0M1296.3 495.3h0M1282 495.3h0M1295.2 491.7h0M1292.4 491.7h0M1295 488.1h0M1295.4 484.5h0M1301.5 484.5h0M1295.9 480.9h0M1282.1 480.9h0M1296.2 477.3h0M1303.1 477.3h0M1295.5 473.7h0M1295.8 470.1h0M1295.6 466.5h0M1298.7 466.5h0M1296 462.9h0M1295.3 459.3h0M1295.9 455.7h0M1296.1 452.1h0M1293.2 452.1h0M1295.2 448.5h0M1295.5 444.9h0M1282.4 444.9h0M1295.4 441.3h0M1295.2 437.7h0M1297.7 437.7h0M1296 434.1h0M1297.4 434.1h0M1295.9 430.4h0M1295.5 426.8h0M1301.9 426.8h0M1295.4 423.2h0M1296 419.6h0M1288.8 419.6h0M1295.8 416h0M1300.2 416h0M1295 412.4h0M1296 408.8h0M1302.6 408.8h0M1295.1 405.2h0M1295.3 401.6h0M1298.6 401.6h0M1295.1 398h0M1298.1 398h0M1294.7 394.4h0M1295.9 390.8h0M1304.3 390.8h0M1294.9 387.2h0M1295.9 383.6h0M1295.5 380h0M1295.9 376.4h0M1302.1 376.4h0M1295.6 372.8h0M1295.4 369.2h0M1295.6 365.6h0M1304.5 365.6h0M1294.7 362h0M1295.1 358.3h0M1298.9 358.3h0M1294.7 354.7h0M1300 354.7h0M1295.6 351.1h0M1299.4 351.1h0M1295.7 347.5h0M1297.2 347.5h0M1295 343.9h0M1296.5 340.3h0M1295.6 336.7h0M1303.5 336.7h0M1295.7 333.1h0M1302.6 333.1h0M1295.7 329.5h0M1300.8 329.5h0M1296.4 325.9h0M1428.8 610.7h0M1430.5 607.1h0M1434 607.1h0M1429 603.5h0M1430.2 599.9h0M1430.2 596.3h0M1429.1 592.7h0M1430.1 589.1h0M1437.9 589.1h0M1429.3 585.5h0M1429.9 581.9h0M1429 578.3h0M1430.1 574.6h0M1429.2 571h0M1437.1 571h0M1429.9 567.4h0M1430.1 563.8h0M1429.8 560.2h0M1430.3 556.6h0M1430.3 553h0M1429.5 549.4h0M1439.6 549.4h0M1430.1 545.8h0M1432.6 545.8h0M1429.6 542.2h0M1437.6 542.2h0M1430.1 538.6h0M1430.4 535h0M1429.7 531.4h0M1426.5 531.4h0M1429.8 527.8h0M1436.7 527.8h0M1430 524.2h0M1429.5 520.6h0M1430.1 517h0M1429.6 513.4h0M1426.4 513.4h0M1429.3 509.8h0M1430.4 506.2h0M1431.2 502.5h0M1443.4 502.5h0M1430.4 498.9h0M1436.5 498.9h0M1430 495.3h0M1429.9 491.7h0M1424.7 491.7h0M1429.9 488.1h0M1436.7 488.1h0M1429.3 484.5h0M1429.8 480.9h0M1434.3 480.9h0M1429.7 477.3h0M1430.3 473.7h0M1431.6 473.7h0M1429.9 470.1h0M1429.5 466.5h0M1431.9 466.5h0M1429.3 462.9h0M1430 459.3h0M1433.7 459.3h0M1430.6 455.7h0M1430.4 452.1h0M1430 448.5h0M1429.2 444.9h0M1430.8 441.3h0M1436.3 441.3h0M1429.8 437.7h0M1429.7 434.1h0M1430.1 430.4h0M1429.9 426.8h0M1430.1 423.2h0M1429.7 419.6h0M1429.5 416h0M1437.6 416h0M1431.1 412.4h0M1436.3 412.4h0M1430 408.8h0M1437.8 408.8h0M1429.7 405.2h0M1430.4 401.6h0M1430.1 398h0M1430.3 394.4h0M1429.9 390.8h0M1433.6 390.8h0M1429.6 387.2h0M1424.5 387.2h0M1429.9 383.6h0M1430.2 380h0M1437.8 380h0M1430 376.4h0M1430 372.8h0M1437 372.8h0M1429.6 369.2h0M1429.6 365.6h0M1433.4 365.6h0M1429.4 362h0M1443 362h0M1429.9 358.3h0M1441.9 358.3h0M1430.3 354.7h0M1437.3 354.7h0M1430.2 351.1h0M1430.6 347.5h0M1435.8 347.5h0M1430.8 343.9h0M1430.2 340.3h0M1439.7 340.3h0M1430.2 336.7h0M1429.6 333.1h0M1433.6 333.1h0M1430.3 329.5h0M1430.1 325.9h0M1591.5 610.7h0M1591.8 607.1h0M1598.8 607.1h0M1591.9 603.5h0M1598.3 603.5h0M1590.9 599.9h0M1591.7 596.3h0M1591.8 592.7h0M1591.6 589.1h0M1591 585.5h0M1592 581.9h0M1591.5 578.3h0M1592.1 574.6h0M1590.9 571h0M1591.6 567.4h0M1591.7 563.8h0M1591.3 560.2h0M1591.2 556.6h0M1591.6 553h0M1584.3 553h0M1590.9 549.4h0M1591.6 545.8h0M1591.8 542.2h0M1591 538.6h0M1591.5 535h0M1603.1 535h0M1591.5 531.4h0M1591.2 527.8h0M1592.1 524.2h0M1591.7 520.6h0M1592 517h0M1591.7 513.4h0M1591.5 509.8h0M1588.4 509.8h0M1591.7 506.2h0M1591.8 502.5h0M1591.9 498.9h0M1591.6 495.3h0M1601.8 495.3h0M1591.7 491.7h0M1597.2 491.7h0M1591.4 488.1h0M1598.4 488.1h0M1592 484.5h0M1591.7 480.9h0M1591.1 477.3h0M1591.3 473.7h0M1591.5 470.1h0M1604.8 470.1h0M1591.6 466.5h0M1591.7 462.9h0M1590.8 459.3h0M1591.6 455.7h0M1591.6 452.1h0M1591.5 448.5h0M1601.7 448.5h0M1591.5 444.9h0M1591.3 441.3h0M1591.3 437.7h0M1591.5 434.1h0M1597.6 434.1h0M1591.4 430.4h0M1591.1 426.8h0M1604.1 426.8h0M1590.9 423.2h0M1591.9 419.6h0M1591.6 416h0M1591.6 412.4h0M1591.3 408.8h0M1590.8 405.2h0M1592 401.6h0M1604.8 401.6h0M1591.3 398h0M1591.5 394.4h0M1591.5 390.8h0M1591.7 387.2h0M1591.8 383.6h0M1591.9 380h0M1592.1 376.4h0M1590.9 372.8h0M1591.4 369.2h0M1591.3 365.6h0M1591.2 362h0M1597.9 362h0M1591.5 358.3h0M1591.2 354.7h0M1594.9 354.7h0M1591.7 351.1h0M1591.7 347.5h0M1591.6 343.9h0M1603.3 343.9h0M1591.4 340.3h0M1590.7 336.7h0M1591.7 333.1h0M1591.1 329.5h0M1591.7 325.9h0M1583.5 325.9h0" stroke="#4db748" stroke-width="6.5" stroke-linecap="round" fill="none"/></g><g clip-path="url(#clipB)"><path d="M209.7 765.9h0M187 776.7h0M266 776.7h0M284.8 765.9h0M311.3 776.7h0M359.6 776.7h0M350 788.7h0M369.1 788.7h0M512 788.7h0M326.3 816.9h0M388.8 820.5h0M513 831.1h0M212.9 841.7h0M371.2 845.3h0M258 853.3h0M256.9 867.7h0M286.1 871.3h0M510.9 863.9h0M211.8 878.3h0M261.6 888.9h0M253.1 892.5h0M301.6 899.5h0M372.3 899.5h0M385.4 903.1h0M279.1 925.7h0M350 922.1h0M367 929.1h0M370.2 932.5h0M222.4 932.5h0M230.9 932.5h0M204.6 939.7h0M318.3 939.7h0M492.9 943.3h0M513 929.1h0M298.2 964.4h0M319.4 968h0M194 978.6h0M228.3 978.6h0M225.8 982.4h0M300.3 982.4h0M208.2 990.5h0M347.5 994.1h0M394.9 1004.7h0M190.2 1011.6h0M208.2 1015.2h0M302.4 1015.2h0M306.6 1015.2h0M374 1011.6h0M371.2 1018.8h0M359.1 1022.2h0M513 1011.6h0M544.9 751.3h0M583 747.9h0M717.9 747.9h0M765.1 747.9h0M802.8 747.9h0M870.9 747.9h0M579.4 762.7h0M593.6 762.7h0M626.4 765.9h0M632.4 772.9h0M614.8 776.7h0M550.9 776.7h0M559.3 781.3h0M657.3 781.3h0M710 781.3h0M718.5 784.5h0M720.2 788.7h0M512.5 788.7h0M586.2 791.9h0M699.9 791.9h0M554.5 806.3h0M627.9 802.5h0M691.6 802.5h0M705.8 806.3h0M868.8 762.7h0M555.9 823.7h0M591.1 823.7h0M637 823.7h0M513.2 831.1h0M582.6 838.1h0M620.5 845.3h0M877.7 834.7h0M552.3 853.3h0M511.7 863.9h0M587.7 867.7h0M619.4 871.3h0M630 867.7h0M627.9 874.9h0M706.9 874.9h0M879.4 878.3h0M765.7 881.9h0M548.5 885.5h0M584.1 892.5h0M591.1 892.5h0M573.5 899.5h0M578.2 906.7h0M721.1 906.7h0M756.2 918.5h0M819 918.5h0M822 918.5h0M825.4 918.5h0M790.5 929.1h0M513.2 929.1h0M523.8 939.7h0M626.4 932.5h0M626.4 943.3h0M758.7 939.7h0M781.6 939.7h0M809.5 939.7h0M686.8 946.5h0M831.1 942.6h0M773.1 950.3h0M814.8 950.3h0M819.5 950.3h0M722.3 953.9h0M878.3 950.3h0M616.9 964.4h0M627.9 975h0M650.1 971.4h0M714.9 975h0M548.5 975h0M547 978.6h0M553.4 982.4h0M615.8 1001.1h0M632.4 997.7h0M513.2 1011.6h0M543.9 1018.8h0M627.9 1025.8h0M696.3 1025.8h0M750.9 1025.8h0M761.3 1025.8h0M807.4 1025.8h0M840.6 1025.8h0M872.4 1018.8h0M749.2 860.7h0M757.7 860.7h0M769.3 860.7h0M782.6 860.7h0M799 857h0M819 857h0M826.5 857h0M838.1 857h0M816.5 860.7h0M783.1 802.5h0M788.4 799.3h0M802.8 799.3h0M871.7 747.9h0M871.1 762.3h0M885.2 772.9h0M893.9 823.7h0M878 834.7h0M891.2 853.3h0M927.8 844.8h0M954 841.7h0M966.7 813.1h0M977.5 816.9h0M1022.4 806.3h0M1103.9 806.3h0M991.7 860.3h0M1042.5 834.7h0M1056.3 834.7h0M1060.1 841.7h0M881.6 878.3h0M923.3 885.1h0M1044.6 881.9h0M908.7 903.1h0M1067.3 906.7h0M1069.4 918.5h0M1102.8 910h0M971.6 925.7h0M884.2 932.5h0M907.7 936.3h0M879.1 950.3h0M907.7 947.5h0M985.8 953.9h0M1060.1 953.9h0M964.6 960.8h0M897.1 982.4h0M1073.2 986.7h0M966.7 1001.1h0M994.3 1004.7h0M1037.2 1004.7h0M1034.1 1008.3h0M1064.8 1004.7h0M872.5 1018.8h0M1202.3 759.1h0M1223.1 791.9h0M1226.7 798.9h0M1215.1 802.5h0M1204.5 799.3h0M1238.3 788.7h0M1226.7 816.9h0M1211.2 853.3h0M1218.2 849.5h0M1226.7 856.9h0M1211.2 871.3h0M1214.4 874.5h0M1208.7 895.6h0M1208.1 903.1h0M1238.3 922.1h0M1219.7 929.1h0M1206.6 950.3h0M1228.8 953.9h0M1236.2 953.9h0M1206.6 986.7h0M1223.1 1008.3h0M1209.8 1015.2h0M1208.7 1022.2h0M1239.4 1015.2h0M1238.9 788.7h0M1274 762.3h0M1292 806.3h0M1261.3 816.9h0M1287.2 816.9h0M1313.6 816.9h0M1318.9 816.9h0M1271.9 841.7h0M1288.2 834.7h0M1295.6 853.3h0M1292 863.9h0M1286.1 867.7h0M1295.6 878.3h0M1314.2 885.1h0M1300.3 892.5h0M1270.9 906.7h0M1288.2 906.7h0M1240.2 922.1h0M1308.3 936.3h0M1232.1 953.9h0M1236.8 953.9h0M1308.3 957.5h0M1313.2 990.5h0M1242.3 1015.2h0M1287.2 1018.8h0M1303.7 1018.8h0M1294.6 1025.8h0M1299.4 1025.8h0M1356.6 776.7h0M1372.3 765.9h0M1367.6 798.9h0M1361.7 813.1h0M1366.5 809.9h0M1351.1 831.1h0M1341.8 903.1h0M1366.1 863.9h0M1352.1 929.1h0M1350 960.8h0M1372.3 990.5h0M1367.6 1001.1h0M1373.9 1001.1h0M1395.1 751.7h0M1393 758.1h0M1399.3 762.3h0M1382.4 785.1h0M1411 798.9h0M1399.3 806.3h0M1395.1 830.4h0M1399.3 837.9h0M1408.9 845.3h0M1385.2 844.8h0M1420.5 860.1h0M1403.2 867.7h0M1403.2 874.5h0M1392.4 871.3h0M1393.4 888.9h0M1387.7 899.5h0M1411.4 899.5h0M1419.5 906.7h0M1399.3 913.6h0M1423.1 929.1h0M1394.7 943.3h0M1390.2 957.5h0M1405.3 971.4h0M1393 1011.6h0M1397.2 1015.2h0M1403.2 1008.3h0M1445.3 881.9h0M1456.1 841.7h0M1453.3 936.3h0M1460.7 960.8h0M1460.7 1022.2h0M1462.2 1029.4h0M1473.9 1025.8h0M1477.2 881.9h0M1479.8 932.5h0M1478.7 747.9h0M1498.8 776.7h0M1498.8 791.9h0M1502 809.9h0M1508.4 806.3h0M1498.8 844.8h0M1503.1 841.7h0M1504.6 853.3h0M1495.2 906.7h0M1502.4 936.3h0M1496.7 943.3h0M1506.7 968h0M1513.2 964.4h0M1505.8 1015.2h0M1496.7 1022.2h0M1552.8 759.1h0M1571.9 759.1h0M1563.8 769.7h0M1552.8 849.1h0M1585.2 856.9h0M1566 913.6h0M1540.1 1015.2h0M1543.9 1022.2h0M753 784.7h0M757.5 784.7h0M762 784.7h0M766.5 784.7h0M770.5 784.7h0M788.5 784.7h0M792.5 784.7h0M795.9 784.7h0M804.3 784.7h0M808.3 784.7h0M811.7 784.7h0M817.9 784.7h0M755.8 802.7h0M760.3 802.7h0M765.4 802.7h0M754.7 850.1h0M759.2 850.1h0M762.6 850.1h0M768.2 850.1h0M777.2 850.1h0M781.2 850.1h0M785.1 850.1h0M789.7 850.1h0M800.4 850.1h0M804.3 850.1h0M808.3 850.1h0M812.2 850.1h0M816.7 850.1h0M820.7 850.1h0M824.1 850.1h0M751.9 910h0M756.9 910h0M767.1 910h0M776.7 910h0M786.3 910h0M795.9 910h0M799.8 910h0M803.8 910h0M807.7 910h0M812.8 910h0M819 910h0M766.5 905.4h0M781.8 905.4h0M810 905.4h0M1182.5 836.8h0M1119.8 804.3h0M1187.2 908.9h0M1125.6 1020.6h0M1177.9 991.8h0M1179.3 973.8h0M1138.9 995.4h0M1179.7 807.9h0M1169.7 793.5h0M1147.5 858.4h0M1173.7 952.1h0M1172.6 955.7h0M1177 1006.2h0M1139.5 840.4h0M1182.1 1027.8h0M1148.7 919.7h0M1190.9 1009.8h0M1123.4 988.2h0M1134.1 887.2h0M1194.1 901.7h0M1188.1 937.7h0M1178.7 782.7h0M1158.8 937.7h0M1131.9 811.5h0M1169.8 883.6h0M1151.9 898.1h0M1167.5 829.6h0M1119.5 916.1h0M1192.3 1031.4h0M1170 912.5h0M1122.5 1009.8h0M1150.7 988.2h0M1142.7 988.2h0M1183.6 898.1h0M1169.7 750.3h0M1125.1 1031.4h0M1178.1 807.9h0M1135.3 797.1h0M1171.9 851.2h0M1164.9 836.8h0M1191.6 872.8h0M1130.3 905.3h0M1149.3 822.4h0M1180.1 844h0M1147.7 779.1h0M1157.8 944.9h0M1119.1 1024.2h0M1194.7 862h0M1140.4 771.9h0M1184.4 811.5h0M1148.9 898.1h0M1198.8 753.9h0M1118.2 999h0M1127.2 995.4h0M1185.1 887.2h0M1157.9 912.5h0M1177.7 963h0M1152.7 912.5h0M1119.4 757.5h0M1159.1 869.2h0M1149 833.2h0M1179.2 1017h0M1164.5 898.1h0M1118 876.4h0M1139.1 937.7h0M1198.9 807.9h0M1116 1009.8h0M1119.6 797.1h0M1198.4 966.6h0M1148.3 869.2h0M1132.4 1013.4h0M1182.9 963h0M1162.9 865.6h0M1129.3 869.2h0M1188 934.1h0M1148.3 934.1h0M1167.7 876.4h0M1138.6 963h0M1144.7 761.1h0M1153.2 1027.8h0M1155.7 757.5h0M1132.8 786.3h0M1186.1 937.7h0M1136.9 833.2h0M1172.9 829.6h0M1122.3 815.1h0M1143.8 815.1h0M1159.3 995.4h0M1116.1 919.7h0M1176.5 941.3h0M1181.1 851.2h0M1119.2 800.7h0M1156.2 804.3h0M1146.1 771.9h0M1160.6 1002.6h0M1126 1009.8h0M1168.7 836.8h0M1163.6 800.7h0M1122.6 764.7h0M1118.4 833.2h0M1180.7 941.3h0M1142.5 1027.8h0M1167.4 840.4h0M1151.7 761.1h0M1155.6 981h0M1171.8 789.9h0M1193.2 771.9h0M1166.9 775.5h0M1186.4 869.2h0M1116.3 934.1h0M1158.5 995.4h0M1139.7 750.3h0M1159.5 872.8h0M1185.9 789.9h0M1187.6 930.5h0M1164.9 800.7h0M1118.7 782.7h0M1164.7 999h0M1141 836.8h0M1161.9 880h0M1169.7 833.2h0M1188 764.7h0M1121 804.3h0M1159.6 912.5h0M1193.1 1027.8h0M1127.6 926.9h0M1146.6 789.9h0M1162 959.3h0M1158 970.2h0M1140.8 797.1h0M1176.6 869.2h0M1137.4 793.5h0M1160.2 1013.4h0M1172 919.7h0M1158.9 800.7h0M1193.9 750.3h0M1145.2 872.8h0M1148.3 934.1h0M1178.1 1031.4h0M1162.1 840.4h0M1132.3 822.4h0M1160.3 966.6h0M1172.7 963h0M1137.1 753.9h0M1131 800.7h0M1188.3 782.7h0M1156.3 865.6h0M1191.8 793.5h0M1183.7 858.4h0M1154.7 876.4h0M1189.2 916.1h0M1181 844h0M1141.6 944.9h0M1154.9 916.1h0M1198.2 908.9h0M1162.5 948.5h0M1189.9 775.5h0M1172.3 764.7h0M1171.8 887.2h0M1159.5 905.3h0M1177 898.1h0M1188.3 811.5h0M1116.5 771.9h0M1143.2 959.3h0M1154.9 836.8h0M1167.2 869.2h0M1125.6 804.3h0M1169.5 984.6h0M1171.6 836.8h0M1139.7 1002.6h0M1197.7 847.6h0M1190.5 779.1h0M1140.8 858.4h0M1161.3 912.5h0M1191.9 862h0M1134.3 955.7h0M1181.3 779.1h0M1128.4 934.1h0M1141.2 905.3h0M1191.1 1027.8h0M1152.6 916.1h0M1184.5 782.7h0M1140.2 869.2h0M1125.2 887.2h0M1162.4 977.4h0M1187.9 916.1h0M1188.2 782.7h0M1151.7 782.7h0M1167.8 815.1h0M1185.4 995.4h0M1120.6 768.3h0M1194.7 934.1h0M1184.9 789.9h0M1131.2 775.5h0M1117.1 869.2h0M1170.3 984.6h0M1177.6 981h0M1139.2 851.2h0M1171.2 916.1h0M1192.2 883.6h0M1188.3 991.8h0M1181.6 869.2h0M1166.5 908.9h0M1162.6 930.5h0M1117.4 768.3h0M1159.4 865.6h0M1163.4 930.5h0M1155.8 883.6h0M1171.7 1024.2h0M1169.5 955.7h0M1135.4 898.1h0M1135.9 836.8h0M1156.8 876.4h0M1131 872.8h0M1140.7 836.8h0M1139.9 833.2h0M1192.1 764.7h0M1185.6 858.4h0M1116.2 1006.2h0M1184.9 887.2h0M1171.7 880h0M1175.9 1017h0M1131 991.8h0M1176.3 995.4h0M1182.5 865.6h0M1119.4 977.4h0M1142.9 840.4h0M1151.3 826h0M1149.5 804.3h0M1147.9 800.7h0M1173 851.2h0M1180 916.1h0M1146.4 829.6h0M1164.6 952.1h0M1171.9 959.3h0M1143.4 836.8h0M1193.2 923.3h0M1129.6 786.3h0M1126.1 1027.8h0M1168.9 923.3h0M1149.5 807.9h0M1156.9 746.7h0M1172.8 840.4h0M1163.1 981h0M1152 955.7h0M1147.1 822.4h0M1151.8 1031.4h0M1176.7 923.3h0M1173.1 1002.6h0M1175 952.1h0M1155.5 999h0M1135.6 865.6h0M1134.8 818.8h0M1126.6 995.4h0M1197.8 991.8h0M1192.5 811.5h0M1173.7 880h0M1132.7 815.1h0M1132.5 789.9h0M1163 973.8h0M1163.2 844h0M1144.1 991.8h0M1181.8 952.1h0M1150.1 876.4h0M1193.9 768.3h0M1191.1 840.4h0M1116.8 973.8h0M1151.5 815.1h0M1154.7 775.5h0M1160.5 1024.2h0M1187 746.7h0M1161.8 833.2h0M1136.2 764.7h0M1184.6 890.9h0M1144.8 872.8h0M1138.4 930.5h0M1162.2 836.8h0M1179.3 988.2h0M1186.7 782.7h0M1123.6 887.2h0M1197.1 898.1h0M1133 890.9h0M1175.3 890.9h0M1179.8 1006.2h0M1144.4 905.3h0M1127.3 984.6h0M1150.8 818.8h0M1154.1 919.7h0M1192.4 811.5h0M1182.9 753.9h0M1147.9 779.1h0M1156.9 833.2h0M1153.4 746.7h0M1140.2 991.8h0M1198.9 923.3h0M1127.4 919.7h0M1163.4 869.2h0M1140.7 854.8h0M1191.4 826h0M1155.9 1027.8h0M1197.5 908.9h0M1161.5 851.2h0M1196.8 959.3h0M1179.1 923.3h0M1132.9 750.3h0M1153.3 937.7h0M1117.6 984.6h0M1139.6 959.3h0M1160.6 1027.8h0M1153.3 876.4h0M1153.7 858.4h0M1178.3 833.2h0M1195.2 948.5h0M1126.7 908.9h0M1132.9 847.6h0M1118.7 959.3h0M1129.1 926.9h0M1197.9 862h0M1129 898.1h0M1143.7 858.4h0M1176.9 746.7h0M1143.9 1009.8h0M1176.9 955.7h0M1167.7 869.2h0M1134.3 811.5h0M1163.3 1024.2h0M1175.3 1024.2h0M1135.3 847.6h0M1187.5 926.9h0M1132.8 1031.4h0M1148.7 789.9h0M1127.6 995.4h0M1177.3 862h0M1162.3 966.6h0M1152.7 815.1h0M1175.2 764.7h0M1144.5 779.1h0M1125.4 984.6h0M1122.4 854.8h0M1185.7 934.1h0M1119.1 898.1h0M1145.9 1006.2h0M1154.4 952.1h0M1197.9 800.7h0M1166.7 905.3h0M1164.4 977.4h0M1160.9 1027.8h0M1159.9 905.3h0M1153.6 952.1h0M1164 977.4h0M1146.1 811.5h0M1186.6 854.8h0M1187 934.1h0M1170.4 898.1h0M1136.3 815.1h0M1154.8 912.5h0M1196.3 815.1h0M1194.8 746.7h0M1138.8 937.7h0M1172.6 851.2h0M1184.1 880h0M1148.1 750.3h0M1156.6 984.6h0M1184.9 869.2h0M1178.4 818.8h0M1153.5 926.9h0M1159 941.3h0M1140.3 872.8h0M1197.9 761.1h0M1194.4 797.1h0M1167.2 793.5h0M1123.9 977.4h0M1142.1 948.5h0M1171.4 999h0M1173.3 991.8h0M1159.1 786.3h0M1192.2 865.6h0M1175.5 880h0M1151.9 944.9h0M1147.9 746.7h0M1175.3 959.3h0M1193.9 757.5h0M1144.9 1006.2h0M1183.4 1006.2h0M1139.1 847.6h0M1193.7 1017h0M1159.3 955.7h0M1142.1 926.9h0M1141.4 995.4h0M1141.2 818.8h0M1151.9 995.4h0M1137.5 887.2h0M1193.9 905.3h0M1161.8 937.7h0M1118.9 876.4h0M1150.5 789.9h0M1146.8 901.7h0M1145.1 1002.6h0M1152.7 804.3h0M1136.6 858.4h0M1140.2 818.8h0M1145.3 804.3h0M1177.3 789.9h0M1181.2 851.2h0M1117.2 977.4h0M1162.8 926.9h0M1188.2 981h0M1190.5 1013.4h0M1171.5 826h0M1116.4 818.8h0M1187.8 811.5h0M1139.8 876.4h0M1139.8 822.4h0M1121.1 782.7h0M1150.9 981h0M1122.1 822.4h0M1131.3 797.1h0M1195.6 905.3h0M1180.6 746.7h0M1127.5 973.8h0M1177 768.3h0M1197.3 818.8h0M1194.8 1017h0M1125.8 887.2h0M1148.6 937.7h0M1163.6 1017h0M1178.8 912.5h0M1126 934.1h0M1128.1 1002.6h0M1143.9 826h0M1119.4 1031.4h0M1119.1 1027.8h0M1118.5 1024.2h0M1128.7 1024.2h0M1122 1020.6h0M1116.6 1020.6h0M1120.5 1017h0M1125.8 1017h0M1116.3 1013.4h0M1117.3 1009.8h0M1123.3 1009.8h0M1118.4 1006.2h0M1117 1006.2h0M1118.1 1002.6h0M1122.6 999h0M1118.1 999h0M1116.7 995.4h0M1123.2 991.8h0M1121.8 988.2h0M1119.3 988.2h0M1116.1 984.6h0M1117 981h0M1118.8 981h0M1117.6 977.4h0M1123.7 973.8h0M1120.4 970.2h0M1116.6 970.2h0M1118.4 966.6h0M1121.9 963h0M1121.2 959.3h0M1121.5 955.7h0M1116.7 952.1h0M1127.1 952.1h0M1124.4 948.5h0M1128.4 948.5h0M1121.1 944.9h0M1116.3 941.3h0M1117.3 941.3h0M1115.8 937.7h0M1123.7 937.7h0M1117.3 934.1h0M1121.9 930.5h0M1127.6 930.5h0M1123.7 926.9h0M1127.3 926.9h0M1124.1 923.3h0M1116.6 919.7h0M1116.3 919.7h0M1117.4 916.1h0M1123.7 912.5h0M1125.8 912.5h0M1120.9 908.9h0M1116.8 908.9h0M1124 905.3h0M1121.3 901.7h0M1126.8 901.7h0M1119.2 898.1h0M1127.4 898.1h0M1119.8 894.5h0M1117 894.5h0M1122.4 890.9h0M1117.2 887.2h0M1116.3 883.6h0M1120.9 880h0M1120.2 876.4h0M1126.6 876.4h0M1122.2 872.8h0M1121.4 869.2h0M1121.4 865.6h0M1116.9 865.6h0M1121.3 862h0M1118.4 858.4h0M1124.6 858.4h0M1123.9 854.8h0M1122.8 851.2h0M1116.7 847.6h0M1117.2 840.4h0M1128.5 840.4h0M1121.6 836.8h0M1122 836.8h0M1120.5 833.2h0M1123.1 833.2h0M1119.8 829.6h0M1127.7 829.6h0M1118.6 826h0M1125.8 826h0M1122.8 822.4h0M1116.7 818.8h0M1125.7 818.8h0M1119.9 815.1h0M1119.4 815.1h0M1122.8 811.5h0M1129 811.5h0M1122.2 807.9h0M1121 807.9h0M1120.1 804.3h0M1116.4 800.7h0M1118.9 797.1h0M1123 793.5h0M1116.6 789.9h0M1128.8 789.9h0M1122.1 786.3h0M1120.6 786.3h0M1123.1 782.7h0M1117.5 779.1h0M1118.9 775.5h0M1118.4 775.5h0M1119.7 771.9h0M1122.4 768.3h0M1123.2 768.3h0M1116.7 761.1h0M1126.2 761.1h0M1120.9 757.5h0M1120.4 753.9h0M1122.7 750.3h0M1121.2 750.3h0M1280.6 1031.4h0M1289.3 1031.4h0M1280.5 1027.8h0M1281 1024.2h0M1280.4 1020.6h0M1275.9 1020.6h0M1281 1017h0M1281 1013.4h0M1281 1009.8h0M1285.5 1009.8h0M1280.5 1006.2h0M1280.6 1002.6h0M1280.9 999h0M1280.7 995.4h0M1269.8 995.4h0M1280.8 991.8h0M1280.9 988.2h0M1281.2 984.6h0M1280.3 981h0M1281.1 977.4h0M1292.8 977.4h0M1280.8 973.8h0M1281.2 970.2h0M1283.7 970.2h0M1281 966.6h0M1280.5 963h0M1271.4 963h0M1280.7 959.3h0M1280.5 955.7h0M1280.5 952.1h0M1280.9 948.5h0M1280.7 944.9h0M1275.4 944.9h0M1281.2 941.3h0M1280.9 937.7h0M1280.6 934.1h0M1280.8 930.5h0M1280.7 926.9h0M1281.3 923.3h0M1281 919.7h0M1282.7 919.7h0M1280.5 916.1h0M1281 912.5h0M1280.6 908.9h0M1280.4 905.3h0M1280.5 901.7h0M1281 898.1h0M1284.2 898.1h0M1280.7 894.5h0M1281.3 890.9h0M1281 887.2h0M1293.8 887.2h0M1280.7 883.6h0M1280.1 880h0M1267.8 880h0M1280.4 876.4h0M1286.3 876.4h0M1280.7 872.8h0M1280.2 869.2h0M1280.9 865.6h0M1281 862h0M1283.9 862h0M1281.1 858.4h0M1280.8 854.8h0M1278 854.8h0M1280.5 851.2h0M1280.8 847.6h0M1280.4 844h0M1280.2 840.4h0M1286.9 840.4h0M1281.3 836.8h0M1266.5 836.8h0M1280.6 833.2h0M1285.5 833.2h0M1280.7 829.6h0M1281 826h0M1280.8 822.4h0M1284.7 822.4h0M1280.8 818.8h0M1280.6 815.1h0M1281.1 811.5h0M1288.9 811.5h0M1281 807.9h0M1280.7 804.3h0M1281.3 800.7h0M1280.6 797.1h0M1266.2 797.1h0M1281.1 793.5h0M1280.9 789.9h0M1285.1 789.9h0M1280.8 786.3h0M1280.7 782.7h0M1281.1 779.1h0M1281.1 775.5h0M1280.8 771.9h0M1281 768.3h0M1283.3 768.3h0M1280.9 764.7h0M1280.8 761.1h0M1280.7 757.5h0M1280.5 753.9h0M1280.7 750.3h0M1280.2 746.7h0M1379.3 1031.4h0M1379.3 1027.8h0M1379 1024.2h0M1379.6 1020.6h0M1379.1 1017h0M1379.1 1013.4h0M1379 1009.8h0M1379.6 1006.2h0M1379.5 1002.6h0M1379.5 999h0M1384.7 999h0M1378.7 995.4h0M1387.6 995.4h0M1379.1 991.8h0M1385.9 991.8h0M1379.4 988.2h0M1379.5 984.6h0M1392.9 984.6h0M1378.8 981h0M1379 977.4h0M1378.4 973.8h0M1378.4 970.2h0M1379 966.6h0M1379.5 963h0M1378.5 959.3h0M1375.5 959.3h0M1379.6 955.7h0M1383.9 955.7h0M1379.2 952.1h0M1379.3 948.5h0M1379.5 944.9h0M1379.6 941.3h0M1378.9 937.7h0M1378.8 934.1h0M1379 930.5h0M1378.9 926.9h0M1375.4 926.9h0M1379.2 923.3h0M1379.2 919.7h0M1378.9 916.1h0M1378.9 912.5h0M1387.2 912.5h0M1379.5 908.9h0M1385.2 908.9h0M1379.8 905.3h0M1378.8 901.7h0M1379.3 898.1h0M1376.8 898.1h0M1378.6 894.5h0M1379.1 890.9h0M1393.2 890.9h0M1379.1 887.2h0M1379.4 883.6h0M1379.5 880h0M1378.9 876.4h0M1379.3 872.8h0M1378.9 869.2h0M1379.5 865.6h0M1386.8 865.6h0M1379.5 862h0M1365.7 862h0M1379.3 858.4h0M1383.5 858.4h0M1378.8 854.8h0M1379.5 851.2h0M1379.5 847.6h0M1379.1 844h0M1379.1 840.4h0M1373.2 840.4h0M1379.6 836.8h0M1379.7 833.2h0M1379.4 829.6h0M1379.7 826h0M1379.1 822.4h0M1379.3 818.8h0M1371.6 818.8h0M1379.4 815.1h0M1379.4 811.5h0M1378.7 807.9h0M1379.5 804.3h0M1379.4 800.7h0M1379.5 797.1h0M1383.4 797.1h0M1378.9 793.5h0M1379 789.9h0M1379.9 786.3h0M1379.3 782.7h0M1379.4 779.1h0M1378.5 775.5h0M1385 775.5h0M1378.8 771.9h0M1379.1 768.3h0M1379.1 764.7h0M1379.3 761.1h0M1373.9 761.1h0M1379 757.5h0M1379.3 753.9h0M1379.2 750.3h0M1379.2 746.7h0M1487.2 1031.4h0M1478 1031.4h0M1487 1027.8h0M1485.1 1027.8h0M1487.4 1024.2h0M1490.9 1024.2h0M1486.8 1020.6h0M1487.1 1017h0M1486.8 1013.4h0M1487.3 1009.8h0M1491.3 1009.8h0M1487.1 1006.2h0M1486.8 1002.6h0M1486.9 999h0M1487.4 995.4h0M1478.1 995.4h0M1487.1 991.8h0M1487.2 988.2h0M1490 988.2h0M1487.1 984.6h0M1490.2 984.6h0M1487.3 981h0M1487.1 977.4h0M1496.7 977.4h0M1487.9 973.8h0M1487.7 970.2h0M1487.7 966.6h0M1487.1 963h0M1487.1 959.3h0M1493.1 959.3h0M1487.3 955.7h0M1487.3 952.1h0M1489.8 952.1h0M1487.1 948.5h0M1487.1 944.9h0M1486.9 941.3h0M1484.7 941.3h0M1487.6 937.7h0M1487.2 934.1h0M1487.2 930.5h0M1487.5 926.9h0M1487.5 923.3h0M1487.1 919.7h0M1487.4 916.1h0M1487.1 912.5h0M1487.7 908.9h0M1486.8 905.3h0M1487.4 901.7h0M1487.3 898.1h0M1487.6 894.5h0M1490 894.5h0M1487.3 890.9h0M1487.2 887.2h0M1494.4 887.2h0M1487 883.6h0M1487.1 880h0M1482 880h0M1487.4 876.4h0M1487.4 872.8h0M1493.2 872.8h0M1486.7 869.2h0M1487.6 865.6h0M1486.9 862h0M1492.9 862h0M1486.6 858.4h0M1490.9 858.4h0M1487.1 854.8h0M1489.3 854.8h0M1487.3 851.2h0M1499.9 851.2h0M1488.2 847.6h0M1487.4 844h0M1487.2 840.4h0M1487.1 836.8h0M1487.4 833.2h0M1495.4 833.2h0M1487.2 829.6h0M1487.1 826h0M1487 822.4h0M1487.1 818.8h0M1491.4 818.8h0M1486.8 815.1h0M1487.3 811.5h0M1492.4 811.5h0M1487.1 807.9h0M1487.2 804.3h0M1487.4 800.7h0M1485.3 800.7h0M1487.4 797.1h0M1487.2 793.5h0M1487 789.9h0M1486.9 786.3h0M1487 782.7h0M1487 779.1h0M1486.8 775.5h0M1487.8 771.9h0M1497.8 771.9h0M1487.2 768.3h0M1489.4 768.3h0M1487.2 764.7h0M1487.5 761.1h0M1486.7 757.5h0M1487.4 753.9h0M1487 750.3h0M1487.3 746.7h0" stroke="#000000" stroke-width="6.5" stroke-linecap="round" fill="none"/><path d="M294.6 1040.1h0M365.3 1059.2h0M365.3 1070h0M382.2 1070h0M377.1 1077h0M369.1 1090.9h0M184.5 1094.3h0M193 1094.3h0M222.4 1094.3h0M266 1101.5h0M280.2 1112.3h0M326.3 1105.3h0M258 1135h0M276.6 1135h0M305.2 1135h0M327.8 1131.1h0M158.9 1141.9h0M170.5 1159.7h0M243.8 1166.7h0M324 1170.3h0M200 1180.9h0M207.2 1180.9h0M308.8 1180.9h0M180.3 1192.5h0M176.5 1203.1h0M206.1 1199.5h0M172.9 1213.7h0M367.6 1217.5h0M375 1213.9h0M166.5 1245.7h0M172.2 1245.7h0M184.5 1245.7h0M227.3 1245.7h0M370.2 1242.3h0M206.1 1256.3h0M237.8 1268.3h0M333.5 1260.9h0M168.4 1275.1h0M182.2 1271.5h0M193 1275.1h0M204 1278.5h0M376.1 1282.1h0M157.4 1289.5h0M306.2 1296.5h0M390.3 1295.8h0M391.3 1300.1h0M485.5 1101.5h0M490.8 1111.7h0M483.8 1131.1h0M496.1 1180.9h0M506.3 1199.5h0M490.8 1210.1h0M485.5 1234.9h0M490.8 1242.3h0M483.8 1245.7h0M484.5 1268.3h0M491.9 1285.7h0M506.3 1293.1h0M500.3 1303.2h0M502.5 1314.3h0M536.5 1077h0M567.6 1108.5h0M609.1 1108.5h0M619.4 1066.2h0M632.8 1115.9h0M620.5 1148.7h0M616.9 1156.1h0M638.7 1156.1h0M631.1 1170.3h0M555.9 1177.3h0M604.2 1184.1h0M610.1 1180.9h0M551.3 1199.5h0M549.8 1213.7h0M620.5 1224.3h0M610.1 1227.7h0M580.5 1231.3h0M589.8 1238.3h0M615.8 1245.7h0M607.4 1253.1h0M579.4 1282.5h0M619.7 1285.7h0M614.8 1289.5h0M562.5 1292.9h0M577.7 1303.2h0M590 1303.2h0M618 1320.2h0M650.8 1094.3h0M658.2 1066.2h0M660.3 1047.1h0M671.9 1069.3h0M674.1 1073.1h0M684.6 1090.9h0M656.5 1112.3h0M685.7 1199.5h0M677.2 1227.7h0M653.9 1268.3h0M673.6 1271.9h0M682.1 1260.9h0M692.7 1256.3h0M646.5 1289.5h0M670.9 1296.5h0M682.1 1296.5h0M657.1 1306.8h0M674.1 1306.8h0M678.7 1310.7h0M714.9 1050.7h0M717.9 1062.6h0M716.4 1084.2h0M723.4 1084.2h0M717.9 1145.1h0M712.8 1213.7h0M717.9 1210.1h0M702.2 1238.7h0M718.9 1256.3h0M737.6 1055.6h0M746 1062.6h0M743.9 1070h0M743.9 1101.5h0M748.8 1105.3h0M746.7 1128h0M746.7 1142h0M745 1220.7h0M743.9 1245.7h0M747.5 1289.5h0M741.4 1296.5h0M745 1303.2h0M800.4 1040.1h0M776.7 1055.6h0M786.2 1055.6h0M815.9 1059.2h0M776.7 1066.2h0M804.2 1066.2h0M782.6 1090.9h0M793.2 1090.9h0M777.2 1142h0M802.1 1142h0M808.5 1142h0M781 1170.3h0M787.3 1170.3h0M800.4 1170.3h0M768.3 1238.7h0M783.7 1256.3h0M819.1 1256.3h0M765.1 1289.5h0M788.4 1300.1h0M802.5 1300.1h0M818 1300.1h0M833.5 1101.5h0M831.1 1173.7h0M834.5 1220.7h0M852.3 1084.2h0M863.1 1047.1h0M863.1 1105.3h0M866.7 1108.5h0M857.2 1128h0M851.2 1152.3h0M869.9 1192.5h0M857.2 1231.3h0M871.6 1249.3h0M874.5 1256.3h0M879.4 1278.9h0M871.6 1300.1h0M866.7 1306.8h0M900.7 1043.5h0M900.7 1062.6h0M926.7 1043.5h0M926.7 1055.6h0M892.2 1087.5h0M900.7 1087.5h0M950.4 1050.7h0M951.5 1055.6h0M946.6 1073.1h0M954.3 1077h0M962.1 1077h0M949.4 1090.9h0M960 1097.9h0M942 1101.5h0M978 1047.1h0M979 1059.2h0M999.8 1062.6h0M1031.9 1032.9h0M1054.2 1043.5h0M1030.9 1073.1h0M1027.7 1077h0M1034.5 1090.9h0M1014.6 1094.3h0M1027.1 1112.3h0M1078.1 1036.5h0M1076.4 1062.6h0M1105.4 1050.7h0M1099.3 1066.2h0M1101.8 1070h0M1112.4 1080.3h0M1096.1 1097.9h0M1096.1 1108.5h0M1106 1112.3h0M1109.2 1108.5h0M1102.8 1135h0M1099.3 1148.7h0M1072.2 1152.3h0M1069 1138.1h0M1049.9 1145.5h0M907 1124h0M899.6 1131.1h0M919.7 1138.1h0M881.6 1145.1h0M928.2 1152.3h0M927.2 1156.1h0M944.1 1131.1h0M944.1 1155.7h0M939.9 1166.7h0M946.8 1170.3h0M962.1 1162.9h0M980.1 1159.7h0M976.9 1163.5h0M991.7 1173.5h0M980.5 1127.6h0M903.9 1173.5h0M925.5 1177.3h0M870 1192.5h0M960.6 1210.1h0M951.5 1224.3h0M929.9 1220.7h0M1017.8 1148.7h0M1013.9 1151.9h0M1018.2 1184.1h0M1011.4 1196.3h0M1022.4 1195.9h0M1030.9 1199.5h0M1019.9 1217.1h0M1019.9 1227.7h0M1016.1 1242.3h0M1021.4 1253.1h0M1020.3 1256.3h0M1036.8 1256.3h0M1054.2 1195.9h0M1060.1 1203.1h0M1062.6 1206.9h0M1049.5 1206.9h0M1066.4 1187.9h0M1073.2 1213.7h0M1080.6 1213.7h0M1057.3 1227.7h0M1062.6 1227.7h0M1075.3 1235.1h0M1096.9 1180.9h0M1108.1 1199.5h0M1103.9 1217.1h0M1079.6 1176.9h0M871.7 1248.8h0M875.3 1256.3h0M944.5 1248.8h0M953 1252.4h0M968 1268.3h0M881.6 1278.9h0M922.9 1282.5h0M948.3 1282.5h0M948.3 1296.5h0M871.7 1300.1h0M929.9 1306.8h0M954.3 1317.4h0M995.3 1282.5h0M986 1289.5h0M978.4 1300.1h0M980.1 1303.2h0M991.7 1317.4h0M1007.6 1264.5h0M1011.8 1293.1h0M1021.4 1303.2h0M1048.5 1278.9h0M1059 1285.7h0M1041 1293.1h0M1039.3 1296.3h0M1034.1 1300.1h0M1051 1306.8h0M1069 1278.5h0M1074.3 1275.1h0M1079.6 1268.3h0M1076.4 1303.2h0M1101.8 1271.9h0M1096.1 1293.1h0M1096.1 1310.7h0M1218.2 1055.6h0M1227.7 1062.6h0M1224.2 1097.9h0M1218.2 1148.7h0M1232.6 1155.7h0M1221.8 1220.7h0M1225.6 1235.1h0M1221.8 1260.9h0M1256.5 1050.7h0M1275.5 1084.2h0M1257.5 1112.3h0M1263.9 1112.3h0M1259.2 1127.6h0M1233.2 1155.7h0M1270.9 1170.3h0M1261.8 1210.1h0M1258.6 1249.3h0M1260.3 1253.1h0M1261.3 1285.7h0M1263.9 1293.1h0M1269.2 1289.5h0M1257.5 1317.4h0M1302 1210.1h0M1314.3 1213.7h0M1311.5 1293.1h0M1311.5 1127.6h0M1309.4 1149.4h0M1316.8 1149.4h0M1313.6 1058.8h0M1316.8 1055.6h0M1318.9 1084.2h0M1340.1 1066.2h0M1346 1073.1h0M1347.1 1080.3h0M1338 1087.5h0M1357 1084.2h0M1363.8 1084.2h0M1351.1 1043.5h0M1356 1047.1h0M1362.9 1032.9h0M1349 1105.3h0M1338 1162.9h0M1343.7 1135h0M1343.7 1145.1h0M1342.2 1187.9h0M1346 1203.1h0M1347.5 1231.3h0M1333.3 1245.7h0M1344.9 1260.9h0M1333.3 1278.9h0M1354.5 1285.7h0M1347.5 1296.3h0M1344.3 1300.1h0M1336.9 1303.2h0M1338 1306.8h0M1403.2 1119.1h0M1418.8 1101.5h0M1419.5 1108.5h0M1421.2 1036.5h0M1418.4 1231.3h0M1441.1 1055.6h0M1438.5 1077h0M1436.4 1087.5h0M1451.2 1032.9h0M1453.8 1108.5h0M1461.2 1166.7h0M1477.2 1166.7h0M1438.1 1192.5h0M1442.7 1217.1h0M1438.5 1235.1h0M1452.3 1242.3h0M1449.1 1249.3h0M1434.9 1253.1h0M1447.6 1282.1h0M1456.1 1285.7h0M1449.1 1306.8h0M1433.6 1313.8h0M1506.2 1220.7h0M1505.6 1317.4h0M1528.5 1043.5h0M1542.2 1059.2h0M1543.7 1066.2h0M1531.7 1066.2h0M1532.7 1080.3h0M1535.9 1084.2h0M1536.5 1090.9h0M1531.7 1097.9h0M1530.2 1112.3h0M1547.5 1115.9h0M1550.7 1115.9h0M1545.4 1119.1h0M1539.1 1131.1h0M1532.7 1173.5h0M1558.7 1184.1h0M1558.7 1210.1h0M1547.5 1249.3h0M1537.6 1256.3h0M1529.5 1260.9h0M1534.8 1260.9h0M1558.7 1256.3h0M1558.7 1289.5h0M1531.7 1303.2h0M1565.9 1303.2h0M1568.3 1040.1h0M1574 1050.7h0M1579.3 1101.5h0M1581.4 1184.1h0M1581.4 1213.7h0M1582.5 1245.7h0M477.8 1262.2h0M462.1 1146.8h0M475.3 1200.9h0M400.3 1035.1h0M437.2 1186.5h0M449.8 1190.1h0M466.3 1218.9h0M403.2 1096.3h0M409 1045.9h0M418.6 1146.8h0M416.8 1218.9h0M416.2 1179.3h0M399.7 1273h0M467.1 1226.1h0M472.7 1085.5h0M471.1 1182.9h0M467.4 1222.5h0M453.4 1226.1h0M437.1 1319.8h0M465.8 1298.2h0M407 1190.1h0M435.9 1136h0M441.1 1319.8h0M400.6 1074.7h0M475.5 1276.6h0M466.3 1226.1h0M411.6 1128.8h0M450.5 1071.1h0M465.3 1060.3h0M434.2 1118h0M477.3 1276.6h0M401.1 1074.7h0M400 1273h0M450.8 1222.5h0M399.1 1060.3h0M444.9 1218.9h0M419.8 1092.7h0M398.8 1107.2h0M421.2 1305.4h0M457.6 1099.9h0M410.4 1240.5h0M453.8 1251.4h0M406.3 1309h0M447.1 1218.9h0M451.9 1258.6h0M453.5 1175.6h0M450.9 1136h0M447.6 1190.1h0M454.7 1247.7h0M438.9 1103.5h0M420.7 1074.7h0M418.9 1146.8h0M414.5 1085.5h0M443.6 1182.9h0M457.8 1240.5h0M422.6 1298.2h0M465.6 1074.7h0M401.1 1150.4h0M450.9 1287.4h0M469.2 1319.8h0M449.4 1053.1h0M475.2 1172h0M435.8 1168.4h0M455.2 1309h0M468.1 1247.7h0M419 1042.3h0M438.1 1175.6h0M471.3 1236.9h0M438 1229.7h0M413 1107.2h0M471.1 1262.2h0M444.2 1175.6h0M457.7 1233.3h0M457.2 1262.2h0M466 1143.2h0M459.6 1301.8h0M427.7 1164.8h0M477.1 1056.7h0M458.4 1175.6h0M437.7 1096.3h0M448.2 1053.1h0M463 1204.5h0M464 1096.3h0M463.1 1175.6h0M472.9 1136h0M451.8 1157.6h0M454.2 1211.7h0M397.5 1128.8h0M479.2 1071.1h0M401.6 1204.5h0M411.7 1143.2h0M449.6 1179.3h0M466.5 1251.4h0M445.6 1218.9h0M454.8 1074.7h0M479.2 1092.7h0M406.6 1161.2h0M409 1247.7h0M445.9 1107.2h0M427.7 1157.6h0M418.1 1053.1h0M461.6 1150.4h0M445.4 1136h0M416.8 1099.9h0M460.2 1172h0M408.8 1161.2h0M434.8 1096.3h0M407.3 1157.6h0M458.4 1146.8h0M432.6 1103.5h0M464.6 1118h0M447.2 1143.2h0M403.9 1258.6h0M460.2 1283.8h0M411.6 1269.4h0M456.1 1132.4h0M457.2 1222.5h0M415.4 1247.7h0M438 1053.1h0M473.4 1312.6h0M401 1063.9h0M451.9 1103.5h0M451.1 1035.1h0M417.8 1128.8h0M441.7 1258.6h0M441.8 1182.9h0M467.1 1204.5h0M398.7 1182.9h0M467.2 1154h0M477.3 1215.3h0M419.7 1294.6h0M466.9 1118h0M432.7 1258.6h0M453.5 1099.9h0M446 1226.1h0M399.4 1139.6h0M407.4 1067.5h0M463.6 1204.5h0M398.7 1150.4h0M399.4 1309h0M468.5 1316.2h0M398.1 1056.7h0M434.9 1190.1h0M452.9 1172h0M434.5 1262.2h0M439.1 1312.6h0M433.6 1067.5h0M465.9 1273h0M446.8 1096.3h0M418 1132.4h0M398.5 1085.5h0M475.6 1226.1h0M468.9 1280.2h0M416.3 1255h0M465.7 1182.9h0M397.2 1081.9h0M450.8 1110.8h0M468.5 1190.1h0M455.2 1157.6h0M460.6 1291h0M405.5 1085.5h0M401.9 1200.9h0M407.7 1197.3h0M436.4 1215.3h0M447.3 1103.5h0M431.3 1136h0M427.5 1125.2h0M401.3 1164.8h0M443.1 1255h0M429 1038.7h0M405.8 1056.7h0M419.4 1096.3h0M445.9 1236.9h0M397.4 1063.9h0M398.6 1291h0M405.7 1175.6h0M438.4 1074.7h0M431.5 1139.6h0M401.4 1143.2h0M400.9 1172h0M454.3 1182.9h0M435.8 1226.1h0M427.2 1190.1h0M462.9 1085.5h0M445.7 1146.8h0M427.2 1255h0M409.4 1175.6h0M478.5 1218.9h0M450.2 1283.8h0M472.3 1157.6h0M453.9 1092.7h0M414.8 1190.1h0M419.3 1164.8h0M453.5 1244.1h0M449.9 1074.7h0M397.3 1316.2h0M401.2 1132.4h0M436.3 1193.7h0M450.7 1121.6h0M429.1 1298.2h0M400.5 1276.6h0M400.9 1172h0M425.2 1060.3h0M418.6 1053.1h0M430.5 1218.9h0M471.1 1276.6h0M415.9 1078.3h0M460.2 1121.6h0M403.4 1182.9h0M438.9 1071.1h0M399.7 1182.9h0M474.9 1089.1h0M474.5 1204.5h0M447.6 1211.7h0M462.7 1215.3h0M475.2 1081.9h0M401.5 1218.9h0M441.6 1042.3h0M477 1089.1h0M409.3 1164.8h0M479.4 1110.8h0M420.4 1280.2h0M405.4 1236.9h0M466 1247.7h0M441.1 1273h0M457.4 1081.9h0M412.9 1060.3h0M412.1 1222.5h0M478.3 1316.2h0M418.4 1168.4h0M397.9 1283.8h0M413.6 1319.8h0M434.8 1226.1h0M476.2 1110.8h0M419 1273h0M397.8 1182.9h0M442.4 1251.4h0M463.8 1179.3h0M441.7 1081.9h0M417.4 1132.4h0M403.2 1128.8h0M439.3 1045.9h0M407.1 1255h0M415.8 1319.8h0M430 1226.1h0M400.4 1114.4h0M463.4 1269.4h0M416.7 1161.2h0M417.2 1035.1h0M440.6 1060.3h0M436.4 1316.2h0M477.4 1089.1h0M458.7 1287.4h0M421.7 1063.9h0M449.5 1182.9h0M414.2 1309h0M428.3 1251.4h0M409.5 1099.9h0M402.4 1197.3h0M445.4 1316.2h0M424.5 1081.9h0M442.3 1204.5h0M479 1164.8h0M408.4 1175.6h0M466.3 1118h0M448.4 1287.4h0M405.5 1164.8h0M435.6 1139.6h0M418.5 1092.7h0M401.4 1312.6h0M429.3 1218.9h0M439.2 1157.6h0M434.1 1240.5h0M466.6 1211.7h0M411.5 1089.1h0M428.9 1251.4h0M406.8 1042.3h0M434.3 1309h0M439.3 1197.3h0M412 1240.5h0M434.5 1222.5h0M468.6 1208.1h0M412.3 1063.9h0M442.5 1283.8h0M439.6 1053.1h0M397.1 1168.4h0M475.5 1056.7h0M460 1186.5h0M440.4 1208.1h0M423.5 1215.3h0M470.4 1150.4h0M468.9 1233.3h0M438 1240.5h0M477.3 1078.3h0M405.7 1081.9h0M462.3 1060.3h0M403.3 1222.5h0M413.1 1038.7h0M466.4 1251.4h0M415.6 1107.2h0M444.9 1042.3h0M415.1 1287.4h0M439.1 1136h0M449.4 1200.9h0M439.6 1045.9h0M442.8 1157.6h0M448.8 1125.2h0M402.5 1276.6h0M459 1089.1h0M467.6 1045.9h0M459.1 1143.2h0M450.5 1258.6h0M403.6 1294.6h0M454 1139.6h0M423.9 1258.6h0M475.3 1222.5h0M406.3 1211.7h0M420.8 1172h0M415.6 1244.1h0M434.8 1085.5h0M456.7 1197.3h0M477.8 1099.9h0M398.2 1045.9h0M399.7 1103.5h0M461 1229.7h0M473.1 1193.7h0M453.2 1319.8h0M414.1 1265.8h0M466.1 1056.7h0M408.5 1294.6h0M401.8 1215.3h0M451.5 1179.3h0M440.4 1208.1h0M451.9 1092.7h0M403 1236.9h0M398.7 1089.1h0M451.7 1211.7h0M478.4 1298.2h0M409.6 1172h0M425.5 1071.1h0M397.8 1164.8h0M471.2 1204.5h0M417.9 1049.5h0M407.1 1114.4h0M426.4 1319.8h0M443.8 1139.6h0M418.4 1118h0M419.3 1291h0M407.7 1240.5h0M454.6 1215.3h0M433.7 1291h0M458.4 1273h0M442.8 1175.6h0M401.3 1074.7h0M434.5 1251.4h0M457.8 1197.3h0M474.4 1186.5h0M478.2 1193.7h0M449.4 1294.6h0M410.5 1215.3h0M417.3 1060.3h0M436.4 1089.1h0M403.4 1287.4h0M457.6 1110.8h0M472.9 1255h0M427.6 1071.1h0M416.6 1172h0M423.4 1240.5h0M471.8 1298.2h0M430.3 1063.9h0M411.4 1244.1h0M467.1 1200.9h0M410.5 1110.8h0M464.8 1244.1h0M455.3 1186.5h0M453.1 1168.4h0M448.4 1255h0M435.9 1168.4h0M444.4 1276.6h0M460.1 1049.5h0M451.7 1056.7h0M466.9 1103.5h0M456 1096.3h0M468 1125.2h0M428.1 1197.3h0M404.4 1247.7h0M456.7 1265.8h0M446.6 1236.9h0M439.7 1150.4h0M465.9 1258.6h0M407.3 1305.4h0M440.6 1280.2h0M426.9 1161.2h0M399.4 1309h0M414.2 1193.7h0M465.5 1164.8h0M414.5 1139.6h0M441.3 1157.6h0M467.4 1092.7h0M407.2 1085.5h0M473.8 1132.4h0M477.7 1291h0M467.7 1204.5h0M452 1081.9h0M433.6 1200.9h0M463.8 1118h0M398.6 1042.3h0M421.6 1265.8h0M404.6 1074.7h0M416.9 1063.9h0M446.9 1143.2h0M454.8 1150.4h0M409.2 1128.8h0M417.2 1110.8h0M428.4 1175.6h0M445.1 1103.5h0M445.1 1319.8h0M404.5 1240.5h0M471.2 1301.8h0M435.8 1262.2h0M443.4 1175.6h0M420.7 1067.5h0M467.9 1309h0M416.7 1125.2h0M416.4 1255h0M425.3 1114.4h0M456.4 1035.1h0M424.5 1146.8h0M434.2 1121.6h0M415 1222.5h0M429.3 1121.6h0M415.4 1251.4h0M459.3 1038.7h0M404.1 1168.4h0M401.9 1107.2h0M444.2 1092.7h0M464.1 1204.5h0M452.4 1255h0M447.8 1244.1h0M448.8 1298.2h0M467.5 1053.1h0M447.4 1190.1h0M427.7 1089.1h0M462.3 1136h0M442 1316.2h0M441.9 1114.4h0M465.6 1193.7h0M447.2 1269.4h0M476.8 1280.2h0M409.5 1251.4h0M401.7 1233.3h0M451.4 1265.8h0M462.9 1269.4h0M409.6 1056.7h0M460 1164.8h0M479.5 1056.7h0M472.2 1222.5h0M409.7 1114.4h0M417 1262.2h0M439.4 1099.9h0M478.7 1215.3h0M425.7 1262.2h0M474.9 1164.8h0M469.1 1276.6h0M465.9 1161.2h0M410.1 1099.9h0M406.1 1269.4h0M418.1 1182.9h0M418.5 1049.5h0M410.6 1262.2h0M398.3 1312.6h0M404.9 1312.6h0M398.8 1305.4h0M402.5 1301.8h0M399.4 1301.8h0M402.8 1298.2h0M397.7 1294.6h0M403.8 1294.6h0M397.9 1280.2h0M399.1 1273h0M405.9 1265.8h0M400.1 1262.2h0M399.6 1258.6h0M400.8 1258.6h0M399.1 1255h0M401.3 1240.5h0M399.3 1236.9h0M400 1233.3h0M399.1 1229.7h0M399.7 1229.7h0M400.6 1222.5h0M397.4 1218.9h0M402.5 1215.3h0M399.6 1211.7h0M404.1 1211.7h0M398.2 1204.5h0M402.7 1200.9h0M405 1200.9h0M400.1 1190.1h0M400.9 1186.5h0M397.3 1186.5h0M405.3 1182.9h0M398.4 1179.3h0M399.5 1175.6h0M399.1 1175.6h0M403.5 1172h0M398.3 1164.8h0M403.2 1161.2h0M401 1157.6h0M406 1139.6h0M400.8 1136h0M397.6 1132.4h0M397.2 1128.8h0M402.8 1121.6h0M397.2 1118h0M400.9 1110.8h0M404.3 1110.8h0M403.6 1099.9h0M402.6 1089.1h0M397.2 1089.1h0M403.3 1081.9h0M402.1 1078.3h0M398 1074.7h0M402 1067.5h0M403.1 1053.1h0M405.9 1049.5h0M398 1045.9h0M403.2 1042.3h0M400.4 1035.1h0M596.9 1319.8h0M597 1316.2h0M597 1312.6h0M586.3 1312.6h0M596.8 1309h0M605.3 1309h0M596.3 1305.4h0M596.8 1301.8h0M597.2 1298.2h0M596.7 1294.6h0M597.3 1291h0M596.1 1287.4h0M596.3 1283.8h0M596.2 1280.2h0M596.9 1276.6h0M596.5 1273h0M596.5 1269.4h0M598.5 1269.4h0M596.8 1265.8h0M597 1262.2h0M597.3 1258.6h0M596.2 1255h0M597.3 1251.4h0M597.4 1247.7h0M597 1244.1h0M596.7 1240.5h0M599.3 1240.5h0M596.5 1236.9h0M597.1 1233.3h0M596.8 1229.7h0M596.8 1226.1h0M597 1222.5h0M596.7 1218.9h0M597.4 1215.3h0M597.1 1211.7h0M588.8 1211.7h0M596.6 1208.1h0M596.8 1204.5h0M596.9 1200.9h0M596.8 1197.3h0M597.2 1193.7h0M596.7 1190.1h0M597.3 1186.5h0M596.7 1182.9h0M591.4 1182.9h0M597 1179.3h0M596.9 1175.6h0M596.9 1172h0M598.9 1172h0M597.1 1168.4h0M596.8 1164.8h0M597.2 1161.2h0M596.6 1157.6h0M596.4 1154h0M596.2 1150.4h0M596.3 1146.8h0M596.7 1143.2h0M596.9 1139.6h0M596.5 1136h0M610.6 1136h0M596.6 1132.4h0M596.5 1128.8h0M596.6 1125.2h0M596.5 1121.6h0M596.8 1118h0M596.3 1114.4h0M597.2 1110.8h0M597.4 1107.2h0M596.5 1103.5h0M596.4 1099.9h0M596.5 1096.3h0M597.5 1092.7h0M596.5 1089.1h0M604.7 1089.1h0M597 1085.5h0M595.9 1081.9h0M590.1 1081.9h0M597.3 1078.3h0M596.5 1074.7h0M597.2 1071.1h0M596.4 1067.5h0M602.8 1067.5h0M596.9 1063.9h0M596.9 1060.3h0M596.9 1056.7h0M596.5 1053.1h0M602 1053.1h0M596.8 1049.5h0M597 1045.9h0M596.8 1042.3h0M596.8 1038.7h0M597.1 1035.1h0M665.5 1319.8h0M664.6 1312.6h0M663.9 1309h0M663.8 1305.4h0M664.8 1298.2h0M663.8 1294.6h0M664.3 1291h0M664.2 1287.4h0M670.6 1287.4h0M664.7 1283.8h0M665 1280.2h0M664.2 1273h0M664.7 1269.4h0M664.8 1258.6h0M664.5 1255h0M664.8 1251.4h0M664.6 1247.7h0M664.9 1233.3h0M664.5 1226.1h0M665 1222.5h0M664.8 1218.9h0M665 1215.3h0M664.7 1211.7h0M664.6 1208.1h0M664.2 1204.5h0M664.7 1200.9h0M664.4 1197.3h0M664.4 1193.7h0M664.3 1186.5h0M666.4 1186.5h0M664.9 1182.9h0M664.9 1179.3h0M665.1 1175.6h0M663.8 1172h0M664.9 1168.4h0M664.7 1161.2h0M664.8 1157.6h0M664.4 1154h0M664.6 1150.4h0M664.7 1136h0M664.1 1128.8h0M666.9 1128.8h0M664.8 1125.2h0M665.3 1121.6h0M664.5 1118h0M664.3 1114.4h0M674.2 1114.4h0M678.1 1110.8h0M665.3 1107.2h0M665.2 1103.5h0M656.4 1103.5h0M665.3 1099.9h0M659.8 1096.3h0M664.8 1092.7h0M664.7 1089.1h0M664.6 1085.5h0M664.8 1078.3h0M665.1 1074.7h0M664.4 1071.1h0M668 1071.1h0M664.6 1067.5h0M666.7 1067.5h0M664.9 1063.9h0M664.2 1060.3h0M664.7 1056.7h0M664.6 1053.1h0M672.1 1053.1h0M664 1042.3h0M664.6 1038.7h0M664.3 1035.1h0M672.1 1035.1h0M731.1 1319.8h0M719 1319.8h0M731 1316.2h0M731.6 1312.6h0M730.4 1309h0M731 1305.4h0M730.7 1301.8h0M730.8 1298.2h0M730.7 1294.6h0M730.3 1291h0M731.1 1287.4h0M731.8 1283.8h0M731.2 1280.2h0M730.9 1276.6h0M731.3 1273h0M731.3 1269.4h0M730.7 1265.8h0M731.1 1262.2h0M731 1258.6h0M731.2 1255h0M731 1251.4h0M742.7 1251.4h0M731.5 1247.7h0M735.7 1247.7h0M731.6 1244.1h0M731.1 1240.5h0M730.6 1236.9h0M730.8 1233.3h0M731.5 1229.7h0M730.4 1226.1h0M731.4 1222.5h0M731.9 1218.9h0M732 1215.3h0M731.5 1211.7h0M731.1 1208.1h0M724.7 1208.1h0M731 1204.5h0M730.8 1200.9h0M730.9 1197.3h0M731.4 1193.7h0M731.3 1190.1h0M731.1 1186.5h0M731.6 1182.9h0M730.5 1179.3h0M730.8 1175.6h0M733.2 1175.6h0M731 1172h0M731.2 1168.4h0M731.1 1164.8h0M731 1161.2h0M731.3 1157.6h0M731.4 1154h0M731.5 1150.4h0M730.9 1146.8h0M731.2 1143.2h0M731.3 1139.6h0M737.5 1139.6h0M731.2 1136h0M731.1 1132.4h0M731.1 1128.8h0M731.4 1125.2h0M731.7 1121.6h0M731.3 1118h0M731.4 1114.4h0M731.5 1110.8h0M730.8 1107.2h0M731.4 1103.5h0M730.8 1099.9h0M730.9 1096.3h0M731 1092.7h0M731.5 1089.1h0M731.4 1085.5h0M731.1 1081.9h0M731.6 1078.3h0M731.4 1074.7h0M738.2 1074.7h0M731.4 1071.1h0M723.7 1071.1h0M731 1067.5h0M730.8 1063.9h0M736.9 1063.9h0M731.8 1060.3h0M731.8 1056.7h0M731.1 1053.1h0M731.6 1049.5h0M731.3 1045.9h0M731.3 1042.3h0M731.2 1038.7h0M731.3 1035.1h0M844.8 1319.8h0M844.8 1316.2h0M845.1 1312.6h0M844.6 1309h0M844.8 1305.4h0M844.5 1301.8h0M845.1 1298.2h0M844.3 1294.6h0M849.3 1294.6h0M844.7 1291h0M844.9 1287.4h0M852.2 1287.4h0M844.4 1283.8h0M844.5 1280.2h0M844.2 1276.6h0M844.6 1273h0M844.9 1269.4h0M844.4 1265.8h0M844.3 1262.2h0M844.7 1258.6h0M857.9 1258.6h0M844.6 1255h0M845.3 1251.4h0M844.3 1247.7h0M843.7 1244.1h0M843.9 1240.5h0M844.4 1236.9h0M846.6 1236.9h0M844.9 1233.3h0M845.1 1229.7h0M844.4 1226.1h0M844.8 1222.5h0M844.3 1218.9h0M844.1 1215.3h0M841.9 1215.3h0M844 1211.7h0M844.2 1208.1h0M844.2 1204.5h0M844.9 1200.9h0M844.3 1197.3h0M843.7 1193.7h0M845.4 1190.1h0M849.9 1190.1h0M844.9 1186.5h0M844.3 1182.9h0M844.9 1179.3h0M844.7 1175.6h0M848.6 1175.6h0M844.6 1172h0M844.6 1168.4h0M844.8 1164.8h0M836.2 1164.8h0M844.8 1161.2h0M844.2 1157.6h0M844.3 1154h0M851.8 1154h0M844.1 1150.4h0M844.2 1146.8h0M844.6 1143.2h0M844.3 1139.6h0M844.6 1136h0M844.3 1132.4h0M844.3 1128.8h0M852.8 1128.8h0M844.6 1125.2h0M844.3 1121.6h0M849.3 1121.6h0M844.7 1118h0M844.8 1114.4h0M847.7 1114.4h0M843.7 1110.8h0M844.8 1107.2h0M844.9 1103.5h0M844.4 1099.9h0M844.4 1096.3h0M844 1092.7h0M844.6 1089.1h0M844.4 1085.5h0M847.9 1085.5h0M844.7 1081.9h0M847.5 1081.9h0M844.7 1078.3h0M843.8 1074.7h0M848.7 1074.7h0M844.6 1071.1h0M845 1067.5h0M844.7 1063.9h0M844.4 1060.3h0M858.2 1060.3h0M844.6 1056.7h0M844.4 1053.1h0M844.2 1049.5h0M844.1 1045.9h0M844.8 1042.3h0M844.5 1038.7h0M844.6 1035.1h0M934.5 1319.8h0M934.7 1316.2h0M934.3 1312.6h0M933.8 1309h0M935 1305.4h0M945.9 1305.4h0M935.1 1301.8h0M931.2 1301.8h0M934.3 1298.2h0M934.8 1294.6h0M934.4 1291h0M934.4 1287.4h0M934.4 1283.8h0M935 1280.2h0M933.9 1276.6h0M934.4 1273h0M934.4 1269.4h0M939.5 1269.4h0M934.1 1265.8h0M934.6 1262.2h0M934.7 1258.6h0M934.9 1255h0M941.9 1255h0M934.8 1251.4h0M928.8 1251.4h0M934.2 1247.7h0M934.5 1244.1h0M934.8 1240.5h0M922.1 1240.5h0M934.8 1236.9h0M935.1 1233.3h0M935.3 1229.7h0M939.9 1229.7h0M934.7 1226.1h0M934.9 1222.5h0M935.2 1218.9h0M934.5 1215.3h0M933.8 1211.7h0M934.6 1208.1h0M935.4 1204.5h0M934.2 1200.9h0M934.7 1197.3h0M934.9 1193.7h0M934.3 1190.1h0M935 1186.5h0M934.5 1182.9h0M935.2 1179.3h0M935 1175.6h0M934.5 1172h0M934.6 1168.4h0M934.2 1164.8h0M935.3 1161.2h0M942.5 1161.2h0M934.7 1157.6h0M934.9 1154h0M939.6 1154h0M934.4 1150.4h0M934.8 1146.8h0M934.2 1143.2h0M934 1139.6h0M934.3 1136h0M934.9 1132.4h0M934.7 1128.8h0M934.5 1125.2h0M934.5 1121.6h0M935 1118h0M929.5 1118h0M934.5 1114.4h0M934.1 1110.8h0M934.4 1107.2h0M937.8 1107.2h0M935.1 1103.5h0M934.7 1099.9h0M934.1 1096.3h0M934.9 1092.7h0M934.6 1089.1h0M934 1085.5h0M934.6 1081.9h0M934.4 1078.3h0M934.7 1074.7h0M934.7 1071.1h0M935.1 1067.5h0M934.6 1063.9h0M947.6 1063.9h0M934.5 1060.3h0M934.8 1056.7h0M935.3 1053.1h0M934.7 1049.5h0M925.8 1049.5h0M934.2 1045.9h0M934.2 1042.3h0M934.4 1038.7h0M934.3 1035.1h0M1007.6 1319.8h0M1007 1316.2h0M1006.7 1312.6h0M1009.4 1312.6h0M1007.2 1309h0M1006.7 1305.4h0M1009.5 1305.4h0M1007.6 1301.8h0M1007.5 1298.2h0M1006.7 1294.6h0M1007.2 1291h0M1007.3 1287.4h0M1006.7 1283.8h0M998.4 1283.8h0M1007.2 1280.2h0M1006.7 1265.8h0M1007.5 1262.2h0M1007.5 1255h0M1008 1251.4h0M1015 1251.4h0M1007.4 1247.7h0M995.8 1244.1h0M1007.5 1233.3h0M1006.5 1229.7h0M1007.4 1222.5h0M999.3 1218.9h0M1007.2 1215.3h0M1017.2 1208.1h0M1006.8 1204.5h0M1006.7 1197.3h0M1012.5 1197.3h0M1006.9 1190.1h0M1011.8 1186.5h0M1007.2 1182.9h0M1008.3 1179.3h0M1018 1175.6h0M1007.2 1172h0M1007 1168.4h0M1007.3 1161.2h0M1006.2 1150.4h0M1006.9 1143.2h0M1007.2 1136h0M1007.5 1132.4h0M1007.4 1128.8h0M1008.1 1125.2h0M1007.2 1121.6h0M1009.9 1121.6h0M1006.3 1118h0M1007.9 1114.4h0M1005.5 1114.4h0M1007.6 1110.8h0M1007.4 1107.2h0M1006.9 1103.5h0M1007 1099.9h0M1007.1 1096.3h0M1007 1092.7h0M996.1 1085.5h0M1007.3 1081.9h0M1006.7 1078.3h0M1001 1078.3h0M1006.6 1071.1h0M1007.6 1067.5h0M1007.1 1063.9h0M1006.9 1060.3h0M1006.1 1056.7h0M1007.2 1053.1h0M1013.2 1053.1h0M1007.1 1049.5h0M1006.5 1045.9h0M1006.9 1042.3h0M1007.4 1038.7h0M1010.4 1035.1h0M1087.8 1319.8h0M1087.8 1316.2h0M1088.4 1312.6h0M1088.4 1309h0M1088.5 1305.4h0M1088.3 1301.8h0M1088.2 1298.2h0M1088.3 1294.6h0M1096.8 1294.6h0M1087.8 1291h0M1087.3 1287.4h0M1087.7 1283.8h0M1088 1280.2h0M1087.8 1276.6h0M1087.8 1273h0M1088.6 1269.4h0M1088.2 1265.8h0M1088.2 1262.2h0M1088.1 1258.6h0M1087.9 1255h0M1087.7 1251.4h0M1088 1247.7h0M1087.9 1244.1h0M1087.7 1240.5h0M1088.2 1236.9h0M1088.4 1233.3h0M1088.5 1229.7h0M1088.2 1226.1h0M1088.3 1222.5h0M1088.2 1218.9h0M1088.4 1215.3h0M1088.4 1211.7h0M1087.7 1208.1h0M1088.7 1204.5h0M1088 1200.9h0M1090.9 1200.9h0M1088.6 1197.3h0M1088.1 1193.7h0M1088.2 1190.1h0M1088 1186.5h0M1087.7 1182.9h0M1088.3 1179.3h0M1088.8 1175.6h0M1088.2 1172h0M1087.9 1168.4h0M1088.3 1164.8h0M1087.9 1161.2h0M1095.9 1161.2h0M1088 1157.6h0M1087.8 1154h0M1088 1150.4h0M1088.1 1146.8h0M1087.9 1143.2h0M1087.7 1139.6h0M1094.2 1139.6h0M1088.2 1136h0M1088.2 1132.4h0M1088.2 1128.8h0M1087.8 1125.2h0M1088.5 1121.6h0M1087.9 1118h0M1087.7 1114.4h0M1088 1110.8h0M1088.1 1107.2h0M1087.6 1103.5h0M1088.4 1099.9h0M1088.4 1096.3h0M1087.6 1092.7h0M1088.1 1089.1h0M1088.3 1085.5h0M1087.9 1081.9h0M1087.6 1078.3h0M1088 1074.7h0M1087.9 1071.1h0M1087.8 1067.5h0M1088.4 1063.9h0M1088.1 1060.3h0M1088 1056.7h0M1087.7 1053.1h0M1088 1049.5h0M1087.7 1045.9h0M1100 1045.9h0M1088 1042.3h0M1087.9 1038.7h0M1088.3 1035.1h0M1081.6 1035.1h0M1246 1319.8h0M1245.5 1316.2h0M1247.5 1316.2h0M1245.8 1312.6h0M1246 1309h0M1245.6 1305.4h0M1246.4 1301.8h0M1245.6 1298.2h0M1246 1294.6h0M1246.2 1291h0M1239.8 1291h0M1245.5 1287.4h0M1246.6 1283.8h0M1246 1280.2h0M1245.8 1276.6h0M1245.2 1273h0M1245.7 1269.4h0M1245.7 1265.8h0M1246.4 1262.2h0M1246.1 1258.6h0M1241.7 1258.6h0M1245.9 1255h0M1246.2 1251.4h0M1245.5 1247.7h0M1248.1 1247.7h0M1246.3 1244.1h0M1245.6 1240.5h0M1246.2 1236.9h0M1245.7 1233.3h0M1246.6 1229.7h0M1246.2 1226.1h0M1245.6 1222.5h0M1246.3 1218.9h0M1245.8 1215.3h0M1246 1211.7h0M1253.7 1211.7h0M1245.6 1208.1h0M1246.1 1204.5h0M1245.9 1200.9h0M1245.8 1197.3h0M1245.5 1193.7h0M1245.8 1190.1h0M1245.6 1186.5h0M1245.9 1182.9h0M1246 1179.3h0M1246.1 1175.6h0M1242.4 1175.6h0M1245.8 1172h0M1245.7 1168.4h0M1245.8 1164.8h0M1245.5 1161.2h0M1245.7 1157.6h0M1246 1154h0M1245.8 1150.4h0M1245.1 1146.8h0M1246.1 1143.2h0M1246.2 1139.6h0M1245.5 1136h0M1245.9 1132.4h0M1251.3 1132.4h0M1246.2 1128.8h0M1245.6 1125.2h0M1245.9 1121.6h0M1245.3 1118h0M1245.6 1114.4h0M1246.6 1110.8h0M1245.3 1107.2h0M1245.9 1103.5h0M1251.6 1103.5h0M1246.2 1099.9h0M1245.7 1096.3h0M1245.9 1092.7h0M1245.8 1089.1h0M1246.5 1085.5h0M1245.9 1081.9h0M1249.4 1081.9h0M1245.8 1078.3h0M1246.5 1074.7h0M1245.9 1071.1h0M1246 1067.5h0M1246.6 1063.9h0M1245.6 1060.3h0M1245.9 1056.7h0M1248.3 1056.7h0M1245.1 1053.1h0M1245.5 1049.5h0M1245.6 1045.9h0M1245.7 1042.3h0M1246.5 1038.7h0M1245.7 1035.1h0M1326.8 1319.8h0M1327.5 1316.2h0M1327.5 1312.6h0M1327.9 1309h0M1327.3 1305.4h0M1327.1 1301.8h0M1327.4 1298.2h0M1327.1 1294.6h0M1325.4 1294.6h0M1326.8 1291h0M1326.6 1287.4h0M1327.1 1283.8h0M1332.9 1283.8h0M1326.6 1280.2h0M1327.4 1276.6h0M1327.3 1273h0M1326.9 1269.4h0M1326.9 1265.8h0M1327.1 1262.2h0M1327.5 1258.6h0M1326.4 1255h0M1327.2 1251.4h0M1327.2 1247.7h0M1326.8 1244.1h0M1326.7 1240.5h0M1314.9 1240.5h0M1326.8 1236.9h0M1327.5 1233.3h0M1327.1 1229.7h0M1322.9 1229.7h0M1326.1 1226.1h0M1327.1 1222.5h0M1326.8 1218.9h0M1326.7 1215.3h0M1327.1 1211.7h0M1326.6 1208.1h0M1322.5 1208.1h0M1327.3 1204.5h0M1330.9 1204.5h0M1327.5 1200.9h0M1327.2 1197.3h0M1327.1 1193.7h0M1326.7 1190.1h0M1334.4 1190.1h0M1326.7 1186.5h0M1327.1 1182.9h0M1327.7 1179.3h0M1319.5 1179.3h0M1327.7 1175.6h0M1326.8 1172h0M1327.4 1168.4h0M1326.9 1164.8h0M1331.8 1164.8h0M1327 1161.2h0M1326.7 1157.6h0M1316.8 1157.6h0M1327 1154h0M1327.6 1150.4h0M1331.4 1150.4h0M1326.7 1146.8h0M1326.6 1143.2h0M1327.2 1139.6h0M1332 1139.6h0M1327.5 1136h0M1327.2 1132.4h0M1321.7 1132.4h0M1327.1 1128.8h0M1326.8 1125.2h0M1327.8 1121.6h0M1327.3 1118h0M1327.1 1114.4h0M1327.1 1110.8h0M1327.4 1107.2h0M1327.4 1103.5h0M1326.9 1099.9h0M1327.1 1096.3h0M1327 1092.7h0M1327.2 1089.1h0M1326.8 1085.5h0M1326.5 1081.9h0M1327.1 1078.3h0M1327 1074.7h0M1327.5 1071.1h0M1327 1067.5h0M1327.1 1063.9h0M1328 1060.3h0M1327.4 1056.7h0M1322.7 1056.7h0M1326.4 1053.1h0M1332.7 1053.1h0M1327.1 1049.5h0M1327.1 1045.9h0M1335.2 1045.9h0M1326.7 1042.3h0M1327.1 1038.7h0M1326.4 1035.1h0M1427.3 1319.8h0M1427.4 1316.2h0M1427.7 1312.6h0M1427.3 1309h0M1426.9 1305.4h0M1438.5 1305.4h0M1427.3 1301.8h0M1427.3 1298.2h0M1427.4 1294.6h0M1427.3 1291h0M1427.2 1287.4h0M1427.1 1283.8h0M1426.8 1280.2h0M1427.8 1276.6h0M1426.9 1273h0M1431 1273h0M1427.8 1269.4h0M1427.2 1265.8h0M1427.1 1262.2h0M1427.4 1258.6h0M1427 1255h0M1433 1255h0M1426.8 1251.4h0M1428 1247.7h0M1426.9 1244.1h0M1429.7 1244.1h0M1427.6 1240.5h0M1427 1236.9h0M1427.1 1233.3h0M1426.6 1229.7h0M1427.9 1226.1h0M1427.6 1222.5h0M1431.4 1222.5h0M1427.7 1218.9h0M1427.3 1215.3h0M1434.4 1215.3h0M1427.2 1211.7h0M1430 1211.7h0M1427.2 1208.1h0M1427.5 1204.5h0M1426.9 1200.9h0M1427 1197.3h0M1427.5 1193.7h0M1427.1 1190.1h0M1435.7 1190.1h0M1427.1 1186.5h0M1427.7 1182.9h0M1427.4 1179.3h0M1417.3 1179.3h0M1427.2 1175.6h0M1427.3 1172h0M1424.4 1172h0M1427.3 1168.4h0M1427.9 1164.8h0M1432 1164.8h0M1427.1 1161.2h0M1427.6 1157.6h0M1427.3 1154h0M1427.2 1150.4h0M1434.7 1150.4h0M1427.5 1146.8h0M1427.4 1143.2h0M1427.5 1139.6h0M1432.3 1139.6h0M1427.3 1136h0M1428.1 1132.4h0M1427.2 1128.8h0M1427.3 1125.2h0M1427.6 1121.6h0M1427.3 1118h0M1427.1 1114.4h0M1429.2 1114.4h0M1427.5 1110.8h0M1427.3 1107.2h0M1428 1103.5h0M1427.3 1099.9h0M1426.7 1096.3h0M1423.7 1096.3h0M1426.4 1092.7h0M1426.9 1089.1h0M1427.8 1085.5h0M1428.2 1081.9h0M1427 1078.3h0M1435.7 1078.3h0M1427.4 1074.7h0M1431 1074.7h0M1427.3 1071.1h0M1426.7 1067.5h0M1427.3 1063.9h0M1427.1 1060.3h0M1427.2 1056.7h0M1427.9 1053.1h0M1427.6 1049.5h0M1427.5 1045.9h0M1427.6 1042.3h0M1427 1038.7h0M1427.4 1035.1h0M1431.7 1035.1h0M1518.3 1319.8h0M1519 1316.2h0M1518 1312.6h0M1517.9 1309h0M1518.8 1305.4h0M1518.5 1301.8h0M1532.1 1301.8h0M1518.3 1298.2h0M1517.8 1294.6h0M1518.1 1291h0M1518.7 1287.4h0M1518.9 1283.8h0M1518.3 1280.2h0M1518.8 1276.6h0M1526.6 1276.6h0M1518.3 1273h0M1517.9 1269.4h0M1518.2 1265.8h0M1517.9 1262.2h0M1518.7 1258.6h0M1517.2 1255h0M1518.6 1251.4h0M1518.3 1247.7h0M1522.3 1247.7h0M1518.1 1244.1h0M1518 1240.5h0M1521.8 1240.5h0M1518.6 1236.9h0M1518.6 1233.3h0M1518.2 1229.7h0M1518.3 1226.1h0M1518.6 1222.5h0M1518.4 1218.9h0M1518.6 1215.3h0M1524.9 1215.3h0M1518.1 1211.7h0M1518.5 1208.1h0M1518.8 1204.5h0M1518.2 1200.9h0M1519 1197.3h0M1518.8 1193.7h0M1517.8 1190.1h0M1518.6 1186.5h0M1519 1182.9h0M1518.1 1179.3h0M1518.4 1175.6h0M1525.8 1175.6h0M1518.1 1172h0M1530.6 1172h0M1518.6 1168.4h0M1521.3 1168.4h0M1519 1164.8h0M1518.4 1161.2h0M1513.6 1161.2h0M1518.2 1157.6h0M1511.3 1157.6h0M1518.8 1154h0M1526.6 1154h0M1518.1 1150.4h0M1532 1150.4h0M1518.2 1146.8h0M1518.8 1143.2h0M1518.4 1139.6h0M1518.3 1136h0M1530.5 1136h0M1518.2 1132.4h0M1518.8 1128.8h0M1529.1 1128.8h0M1519 1125.2h0M1511.2 1125.2h0M1518.6 1121.6h0M1518.7 1118h0M1527.2 1118h0M1518.4 1114.4h0M1522.5 1114.4h0M1518.7 1110.8h0M1521.9 1110.8h0M1518 1107.2h0M1518.7 1103.5h0M1517.5 1099.9h0M1517.8 1096.3h0M1510.2 1096.3h0M1518.4 1092.7h0M1514 1092.7h0M1518 1089.1h0M1518.3 1085.5h0M1511.7 1085.5h0M1518.1 1081.9h0M1518.7 1078.3h0M1518 1074.7h0M1517.9 1071.1h0M1522.9 1071.1h0M1518.8 1067.5h0M1517.4 1063.9h0M1518.4 1060.3h0M1523.6 1060.3h0M1518.5 1056.7h0M1521.8 1056.7h0M1517.9 1053.1h0M1517.2 1049.5h0M1521.4 1049.5h0M1518.2 1045.9h0M1518.5 1042.3h0M1517.5 1038.7h0M1522 1038.7h0M1517.9 1035.1h0M1532.1 1035.1h0M1587.3 1319.8h0M1584.2 1319.8h0M1586.9 1316.2h0M1587.2 1312.6h0M1587.3 1309h0M1592.9 1309h0M1586.9 1305.4h0M1587.1 1301.8h0M1587.4 1298.2h0M1598.1 1298.2h0M1588.1 1294.6h0M1578.9 1294.6h0M1586.6 1291h0M1589.5 1291h0M1588.4 1287.4h0M1583.6 1287.4h0M1588.4 1283.8h0M1589.7 1283.8h0M1587.7 1280.2h0M1586.9 1276.6h0M1584.9 1276.6h0M1587.8 1273h0M1592.3 1273h0M1587.8 1269.4h0M1587.6 1265.8h0M1586.4 1262.2h0M1586.4 1258.6h0M1577.3 1258.6h0M1587.4 1255h0M1586.5 1251.4h0M1586.9 1247.7h0M1587.3 1244.1h0M1587.5 1240.5h0M1593.9 1240.5h0M1587.3 1236.9h0M1587 1233.3h0M1586.8 1229.7h0M1594.9 1229.7h0M1587.1 1226.1h0M1587.8 1222.5h0M1587.3 1218.9h0M1590.3 1218.9h0M1586.7 1215.3h0M1591.9 1215.3h0M1587.4 1211.7h0M1587 1208.1h0M1587.3 1204.5h0M1586.9 1200.9h0M1586.8 1197.3h0M1586.9 1193.7h0M1586.7 1190.1h0M1592.1 1190.1h0M1587.6 1186.5h0M1582.1 1186.5h0M1586.6 1182.9h0M1580.1 1182.9h0M1587.4 1179.3h0M1586.9 1175.6h0M1591.6 1175.6h0M1587.3 1172h0M1580.5 1172h0M1586.5 1168.4h0M1599.8 1168.4h0M1587.6 1164.8h0M1587.6 1161.2h0M1593.7 1161.2h0M1587.5 1157.6h0M1577.3 1157.6h0M1587.2 1154h0M1588.2 1150.4h0M1578.2 1150.4h0M1587.3 1146.8h0M1587.1 1143.2h0M1599.3 1143.2h0M1587.8 1139.6h0M1587.2 1136h0M1589.2 1136h0M1586.6 1132.4h0M1587.7 1128.8h0M1594.9 1128.8h0M1587.8 1125.2h0M1595.6 1125.2h0M1586.8 1121.6h0M1596.6 1121.6h0M1586.9 1118h0M1592.3 1118h0M1588.1 1114.4h0M1597.1 1114.4h0M1586.8 1110.8h0M1594.7 1110.8h0M1586.8 1107.2h0M1587.3 1103.5h0M1593 1103.5h0M1587 1099.9h0M1587.7 1096.3h0M1579 1096.3h0M1587.4 1092.7h0M1597.1 1092.7h0M1587.4 1089.1h0M1586.7 1085.5h0M1583.7 1085.5h0M1587.8 1081.9h0M1593.7 1081.9h0M1586.5 1078.3h0M1588.3 1074.7h0M1579.6 1074.7h0M1587 1071.1h0M1594.1 1071.1h0M1588.1 1067.5h0M1588 1063.9h0M1587 1060.3h0M1587.3 1056.7h0M1586.9 1053.1h0M1586.8 1049.5h0M1586.8 1045.9h0M1588.4 1042.3h0M1587.2 1038.7h0M1587.3 1035.1h0" stroke="#4db748" stroke-width="6.5" stroke-linecap="round" fill="none"/></g><path clip-path="url(#clipA)" d="M156.4 41.7 L157.9 41.7 L159.4 41.9 L160.9 41.8 L162.4 41.7 L163.9 41.9 L165.4 42.1 L166.9 42 L168.4 41.7 L169.9 41.6 L171.4 41.8 L172.9 41.9 L174.4 41.4 L175.9 41.9 L177.4 41.7 L178.9 41.8 L180.4 41.9 L181.9 41.9 L183.4 42.1 L184.9 42.2 L186.4 42 L187.9 42.3 L189.4 41.9 L190.9 42.1 L192.4 42.2 L193.9 42 L195.4 41.9 L196.9 41.8 L198.4 41.9 L199.9 42 L201.4 41.8 L202.9 42 L204.4 42 L205.9 42.1 L207.4 42 L208.9 42.1 L210.4 41.9 L211.9 42 L213.4 42.2 L214.9 42.3 L216.4 41.7 L217.9 42.3 L219.4 42.3 L220.9 42.2 L222.4 42.1 L223.9 42 L225.4 42.4 L226.9 42.5 L228.4 42.5 L229.9 42.4 L231.4 42.2 L232.9 41.9 L234.4 42.2 L235.9 42.4 L237.4 42 L238.9 42.3 L240.4 42.4 L241.9 42.5 L243.4 42.1 L244.9 42.2 L246.4 42.3 L247.9 42.2 L249.4 42.8 L250.9 42.3 L252.4 42.5 L253.9 42.4 L255.4 42.8 L256.9 42.8 L258.4 42.7 L259.9 42.1 L261.4 42.6 L262.9 42.7 L264.4 42.8 L265.9 42.5 L267.4 43 L268.9 42.4 L270.4 42.6 L271.9 42.9 L273.4 42.7 L274.9 43.1 L276.4 42.8 L277.9 42.7 L279.4 42.7 L280.9 42.6 L282.4 42.6 L283.9 43 L285.4 43 L286.9 43.1 L288.4 42.8 L289.9 43.3 L291.4 42.9 L292.9 43.3 L294.4 42.9 L295.9 42.9 L297.4 43 L298.9 43.1 L300.4 42.9 L301.9 42.7 L303.4 42.5 L304.9 42.4 L306.4 42.7 L307.9 42.8 L309.4 42.5 L310.9 42.3 L312.4 42.6 L313.9 42.1 L315.4 42.2 L316.9 42.4 L318.4 41.8 L319.9 42.3 L321.4 42 L322.9 42.1 L324.4 42 L325.9 42 L327.4 42.1 L328.9 41.7 L330.4 42.1 L331.9 41.9 L333.4 41.9 L334.9 41.9 L336.4 41.8 L337.9 41.7 L339.4 41.5 L340.9 41.2 L342.4 41.5 L343.9 41.3 L345.4 41.2 L346.9 41.5 L348.4 41.3 L349.9 41.2 L351.4 41.2 L352.9 41.4 L354.4 41.4 L355.9 41.6 L357.4 41.3 L358.9 41.5 L360.4 41.6 L361.9 41.5 L363.4 40.8 L364.9 41.5 L366.4 41.3 L367.9 41.3 L369.4 41.3 L370.9 41.3 L372.4 41.3 L373.9 41.1 L375.4 40.8 L376.9 41.1 L378.4 41 L379.9 41.3 L381.4 41.1 L382.9 41.1 L384.4 40.9 L385.9 41 L387.4 41.1 L388.9 40.7 L390.4 41.1 L391.9 41 L393.4 40.7 L394.9 40.4 L396.4 40.9 L397.9 40.7 L399.4 40.5 L400.9 40.5 L402.4 40.8 L403.9 40.4 L405.4 40.3 L406.9 39.9 L408.4 40.5 L409.9 40.2 L411.4 40.2 L412.9 39.9 L414.4 40 L415.9 39.8 L417.4 39.8 L418.9 39.5 L420.4 39.2 L421.9 39.6 L423.4 39 L424.9 39.2 L426.4 39.2 L427.9 38.9 L429.4 39.2 L430.9 39 L432.4 38.8 L433.9 39 L435.4 38.7 L436.9 39 L438.4 38.7 L439.9 38.5 L441.4 38.1 L442.9 38.2 L444.4 38.6 L445.9 38.3 L447.4 38.2 L448.9 38.6 L450.4 38 L451.9 38.1 L453.4 38.1 L454.9 38.3 L456.4 38 L457.9 38 L459.4 37.8 L460.9 38.3 L462.4 38.3 L463.9 38 L465.4 38.1 L466.9 37.8 L468.4 37.9 L469.9 38.3 L471.4 38 L472.9 38.4 L474.4 37.8 L475.9 38.1 L477.4 37.9 L478.9 38 L480.4 37.9 L481.9 37.8 L483.4 37.7 L484.9 38.5 L486.4 37.8 L487.9 37.4 L489.4 37.7 L490.9 38.1 L492.4 37.9 L493.9 38.4 L495.4 38.4 L496.9 38.3 L498.4 38.3 L499.9 38.3 L501.4 38.5 L502.9 38.4 L504.4 39.1 L505.9 39.2 L507.4 38.8 L508.9 38.9 L510.4 38.8 L511.9 39.1 L513.4 38.8 L514.9 39.3 L516.4 39.8 L517.9 39.5 L519.4 39.8 L520.9 39.6 L522.4 40.1 L523.9 39.8 L525.4 39.7 L526.9 40.4 L528.4 39.8 L529.9 39.7 L531.4 40 L532.9 40 L534.4 40.3 L535.9 39.9 L537.4 40.3 L538.9 40.4 L540.4 40.1 L541.9 40.3 L543.4 40.2 L544.9 40.8 L546.4 40.3 L547.9 40.4 L549.4 40.3 L550.9 40.6 L552.4 40.8 L553.9 41.1 L555.4 40.9 L556.9 41.2 L558.4 41 L559.9 41.3 L561.4 42.1 L562.9 41.9 L564.4 41.7 L565.9 41.7 L567.4 41.9 L568.9 42.2 L570.4 42.2 L571.9 41.9 L573.4 41.6 L574.9 41.9 L576.4 41.5 L577.9 41.2 L579.4 41 L580.9 40.7 L582.4 40.1 L583.9 40.5 L585.4 40.1 L586.9 39.9 L588.4 39.8 L589.9 39.8 L591.4 39.3 L592.9 39 L594.4 39.2 L595.9 39.1 L597.4 38.6 L598.9 39 L600.4 38.9 L601.9 39 L603.4 38.7 L604.9 39.2 L606.4 39.3 L607.9 39.3 L609.4 39.3 L610.9 38.5 L612.4 39.3 L613.9 39.3 L615.4 39.3 L616.9 39.3 L618.4 39.5 L619.9 39.6 L621.4 39.4 L622.9 39.3 L624.4 39.6 L625.9 39.1 L627.4 39.5 L628.9 39.3 L630.4 39.1 L631.9 39.1 L633.4 39 L634.9 39.2 L636.4 39.1 L637.9 38.9 L639.4 38.8 L641 39 L642.5 39.1 L644 38.8 L645.5 38.9 L647 38.7 L648.5 38.8 L650 38.7 L651.5 38.7 L653 38.3 L654.5 38.7 L656 38.5 L657.5 38.6 L659 38.5 L660.5 38.6 L662 38.4 L663.5 38.9 L665 38.3 L666.5 38.5 L668 38.8 L669.5 39.1 L671 38.9 L672.5 38.8 L674 38.6 L675.5 38.9 L677 38.9 L678.5 39.3 L680 39.1 L681.5 38.8 L683 39.5 L684.5 39.1 L686 39 L687.5 39.5 L689 39.2 L690.5 39.2 L692 39.4 L693.5 39.5 L695 39.6 L696.5 39.1 L698 39.9 L699.5 39.7 L701 39.5 L702.5 39.4 L704 39.5 L705.5 39.8 L707 39.7 L708.5 39.7 L710 40.1 L711.5 40.1 L713 40 L714.5 40.3 L716 40.5 L717.5 40.1 L719 40.2 L720.5 40.6 L722 40.6 L723.5 40.5 L725 40.6 L726.5 40.1 L728 40 L729.5 40.1 L731 40.2 L732.5 40 L734 40 L735.5 39.9 L737 39.9 L738.5 39.8 L740 40 L741.5 40 L743 39.7 L744.5 39.7 L746 39.6 L747.5 39.8 L749 39.6 L750.5 39.9 L752 39.3 L753.5 39.7 L755 40 L756.5 40.1 L758 40.6 L759.5 40.5 L761 41.6 L762.5 41.2 L764 41.9 L765.5 41.8 L767 42.6 L768.5 42.6 L770 43 L771.5 43.3 L773 43.8 L774.5 43.8 L776 43.5 L777.5 44.2 L779 44.6 L780.5 44.7 L782 45.1 L783.5 45.4 L785 45.4 L786.5 45.3 L788 46.1 L789.5 46.3 L791 46.2 L792.5 46.9 L794 46.6 L795.5 46.7 L797 47 L798.5 47.3 L800 47 L801.5 47.6 L803 47.1 L804.5 47.5 L806 47.5 L807.5 47.4 L809 47.8 L810.5 47.3 L812 47.9 L813.5 47.7 L815 47.7 L816.5 48 L818 48.1 L819.5 48.1 L821 48.4 L822.5 48.2 L824 48.3 L825.5 47.9 L827 48 L828.5 48.1 L830 48 L831.5 48.1 L833 48.1 L834.5 48.2 L836 48 L837.5 47.9 L839 47.8 L840.5 47.8 L842 48.2 L843.5 48 L845 48.2 L846.5 47.7 L848 47.6 L849.5 47.7 L851 48 L852.5 47.8 L854 47.4 L855.5 47 L857 47 L858.5 46.8 L860 46.6 L861.5 45.9 L863 46.1 L864.5 46 L866 46.2 L867.5 45.7 L869 45.7 L870.5 45.1 L872 44.9 L873.5 44 L875 44.6 L876.5 44.4 L878 44.4 L879.5 43.8 L881 44.2 L882.5 44.6 L884 45.2 L885.5 45.8 L887 46.5 L888.5 47.2 L890 46.7 L891.5 46.3 L893 46.3 L894.5 46.1 L896 45.7 L897.5 45.8 L899 45 L900.5 45.1 L902 45.1 L903.5 44.4 L905 44.6 L906.5 44.5 L908 44.1 L909.5 43.5 L911 43.5 L912.5 43.6 L914 43.2 L915.5 43 L917 43 L918.5 43 L920 42.6 L921.5 42.6 L923 42.6 L924.5 42.4 L926 42.4 L927.5 42.6 L929 42.1 L930.5 42.6 L932 42.5 L933.5 41.7 L935 41.9 L936.5 42 L938 41.7 L939.5 41.6 L941 41.6 L942.5 41.9 L944 42 L945.5 42.9 L947 42.9 L948.5 43.2 L950 43.9 L951.5 44.2 L953 44.5 L954.5 44.7 L956 45.6 L957.5 45.7 L959 45.9 L960.5 46 L962 46.8 L963.5 46.7 L965 46.3 L966.5 46.3 L968 46.2 L969.5 46.1 L971 45.6 L972.5 45.4 L974 44.8 L975.5 44.7 L977 44.5 L978.5 44.4 L980 43.9 L981.5 43.8 L983 43.3 L984.5 43.2 L986 43 L987.5 42.6 L989 42.8 L990.5 42.6 L992 42.1 L993.5 42.6 L995 42.2 L996.5 42 L998 42 L999.5 42 L1001 42.2 L1002.5 41.7 L1004 41.8 L1005.5 41.9 L1007 41.9 L1008.5 42.2 L1010 42.1 L1011.5 42.5 L1013 42.5 L1014.5 42.9 L1016 42.7 L1017.5 42.9 L1019 43.5 L1020.5 43.4 L1022 43.5 L1023.5 43.8 L1025 43.8 L1026.5 44.4 L1028 44.1 L1029.5 44.5 L1031 44.7 L1032.5 44.8 L1034 44.9 L1035.5 45 L1037 45.5 L1038.5 45.3 L1040 45.9 L1041.5 45.6 L1043 45.5 L1044.5 45.4 L1046 44.9 L1047.5 45 L1049 44.7 L1050.5 44.2 L1052 43.9 L1053.5 43.6 L1055 43.7 L1056.5 43.2 L1058 42.9 L1059.5 42.9 L1061 43.1 L1062.5 42.5 L1064 42.3 L1065.5 42 L1067 42 L1068.5 41.5 L1070 41.6 L1071.5 41.7 L1073 41.5 L1074.5 41.4 L1076 41.3 L1077.5 41.2 L1079 41.1 L1080.5 40.6 L1082 40.8 L1083.5 41.1 L1085 41.2 L1086.5 41.2 L1088 40.7 L1089.5 40.8 L1091 41 L1092.5 41.1 L1094 41.3 L1095.5 42 L1097 42.1 L1098.5 42.7 L1100 43.3 L1101.5 43.3 L1103 44 L1104.5 44.6 L1106 44.8 L1107.5 45.1 L1109 45.4 L1110.5 45.9 L1112 45.8 L1113.5 46.1 L1115 45.4 L1116.5 44.9 L1118 44.7 L1119.5 44.1 L1121 43.7 L1122.5 43.3 L1124 43 L1125.5 57.8 L1127 78.4 L1128.5 98.7 L1130 110.2 L1131.5 121.8 L1133.1 136.1 L1134.6 142.7 L1136.1 148.1 L1137.6 152.3 L1139.1 158 L1140.6 161.7 L1142.1 165.9 L1143.6 170.5 L1145.1 172.8 L1146.7 175.8 L1148.2 178.6 L1149.7 177.7 L1151.2 179.7 L1152.7 182.4 L1154.2 183.1 L1155.7 185.3 L1157.2 185.3 L1158.7 187.4 L1160.2 188.4 L1161.8 189.7 L1163.3 191 L1164.8 191.2 L1166.3 192.3 L1167.8 194.8 L1169.3 195.1 L1170.8 196 L1172.3 196.8 L1173.8 198 L1175.3 197.9 L1176.8 198.9 L1178.4 201.2 L1179.9 201.4 L1181.4 202.7 L1182.9 202.7 L1184.4 204.8 L1185.9 205.1 L1187.4 206.1 L1188.9 207.1 L1190.4 207.2 L1192 207.5 L1193.5 208.9 L1195 211.6 L1196.5 212.6 L1198 213 L1199.5 215.1 L1201 210.7 L1202.5 206.1 L1204 202.3 L1205.5 197.8 L1207 192.9 L1208.5 189.1 L1210 185 L1211.5 180.9 L1213 176.8 L1214.5 172.6 L1216.1 168.8 L1217.6 165 L1219.1 161.1 L1220.6 157.4 L1222.1 154.1 L1223.6 150.1 L1225.1 146.8 L1226.6 143.1 L1228.1 140.4 L1229.6 137.3 L1231.1 134.2 L1232.6 131.3 L1234.1 128.4 L1235.6 125.6 L1237.1 123 L1238.6 120.3 L1240.1 118.1 L1241.6 115.5 L1243.1 113 L1244.6 111.3 L1246.2 109.4 L1247.7 106.9 L1249.2 105.2 L1250.7 103.2 L1252.2 101.5 L1253.7 100 L1255.2 98.1 L1256.7 96.8 L1258.2 95.1 L1259.7 93.9 L1261.2 92.4 L1262.7 91.1 L1264.2 89.7 L1265.7 89.1 L1267.2 87.8 L1268.7 86.2 L1270.2 85.4 L1271.7 84.4 L1273.2 83.4 L1274.7 82.3 L1276.3 81.8 L1277.8 80.6 L1279.3 79.9 L1280.8 79.1 L1282.3 78.4 L1283.8 76.9 L1285.3 76.8 L1286.8 76 L1288.3 75 L1289.8 74.7 L1291.3 73.5 L1292.8 72.8 L1294.3 71.8 L1295.8 71.4 L1297.3 70.5 L1298.8 69.6 L1300.3 69.4 L1301.8 68.2 L1303.3 67.5 L1304.8 66.7 L1306.4 65.9 L1307.9 65.4 L1309.4 64.8 L1310.9 64 L1312.4 62.7 L1313.9 62.7 L1315.4 61.7 L1316.9 60.8 L1318.4 60.5 L1319.9 59.8 L1321.4 59 L1322.9 58.8 L1324.4 58.8 L1326 59 L1327.5 59.6 L1329 59.4 L1330.5 59.5 L1332.1 59.6 L1333.6 59.6 L1335.1 59.5 L1336.6 59.5 L1338.1 59.7 L1339.7 59.7 L1341.2 59.2 L1342.7 59.4 L1344.2 59.5 L1345.7 59.1 L1347.3 59.1 L1348.8 59 L1350.3 58.9 L1351.8 59.1 L1353.3 58.9 L1354.9 59.1 L1356.4 59.7 L1357.9 60.6 L1359.4 61.2 L1361 61.9 L1362.5 65.7 L1364 69.6 L1366.5 227.2 L1368 224 L1369.5 220.8 L1371 217.4 L1372.5 214.4 L1374 210.5 L1375.6 207.2 L1377.1 203.4 L1378.6 199.8 L1380.1 195.9 L1381.6 192.4 L1383.1 188.3 L1384.6 184.6 L1386.1 180.1 L1387.6 176.3 L1389.1 172.2 L1390.6 168.3 L1392.2 164.4 L1393.7 160.6 L1395.2 156.8 L1396.7 153.1 L1398.2 149.4 L1399.7 146 L1401.2 142.7 L1402.7 139.1 L1404.2 136.1 L1405.7 133.1 L1407.2 130.4 L1408.7 127.5 L1410.3 124.9 L1411.8 122.2 L1413.3 119.9 L1414.8 117.4 L1416.3 115.4 L1417.8 113.1 L1419.3 111 L1420.8 108.8 L1422.3 107.1 L1423.8 105.1 L1425.3 103.1 L1426.9 101.5 L1428.4 99.2 L1429.9 97.6 L1431.4 95.5 L1432.9 93.9 L1434.4 92.2 L1435.9 90.5 L1437.4 88.9 L1438.9 87.2 L1440.4 85.7 L1441.9 84.4 L1443.5 83.3 L1445 81.5 L1446.5 80 L1448 79.1 L1449.5 78.2 L1451 77.1 L1452.5 76.2 L1454 75.5 L1455.5 74.6 L1457 73.6 L1458.5 72.8 L1460.1 72.1 L1461.6 71.5 L1463.1 71 L1464.6 70.2 L1466.1 70 L1467.6 69.7 L1469.1 69.4 L1470.6 69.2 L1472.1 69.2 L1473.6 68.8 L1475.1 68.7 L1476.6 68.8 L1478.2 68.6 L1479.7 68.6 L1481.2 68.7 L1482.7 68.6 L1484.2 68.4 L1485.7 68.2 L1487.2 68.2 L1488.7 67.9 L1490.2 67.5 L1491.7 67.2 L1493.2 66.6 L1494.8 66.3 L1496.3 65.7 L1497.8 65.4 L1499.3 65.4 L1500.8 64.5 L1502.3 64.1 L1504 66.7 L1505.7 69.8 L1507.4 72.3 L1509.1 81.6 L1511.4 233.3 L1512.9 229.6 L1514.4 226.3 L1515.9 222.9 L1517.4 219.1 L1518.9 215.6 L1520.4 211.7 L1521.9 207.2 L1523.4 203.2 L1524.9 199 L1526.4 194.5 L1527.9 190.1 L1529.4 185.8 L1530.9 181.2 L1532.5 176.5 L1534 172.2 L1535.5 167.7 L1537 163.2 L1538.5 158.9 L1540 155.1 L1541.5 151.1 L1543 147.2 L1544.5 143.4 L1546 140.1 L1547.5 136.7 L1549 133.7 L1550.5 131 L1552 128.1 L1553.5 126 L1555 124 L1556.5 121.4 L1558 119.1 L1559.5 117.2 L1561 115.1 L1562.5 113.6 L1564 112 L1565.5 110.4 L1567 108.5 L1568.5 107.3 L1570 106.1 L1571.5 105 L1573 103.4 L1574.5 102.3 L1576.1 101.6 L1577.6 100.1 L1579.1 99.9 L1580.6 99.3 L1582.1 98.7 L1583.6 97.9 L1585.1 97.5 L1586.6 96.7 L1588.1 96.2 L1589.6 94.9 L1591.1 94 L1592.6 92.8 L1594.1 91.7 L1595.6 90.3" stroke="#ec1c24" stroke-width="4.5" fill="none" stroke-linejoin="round" stroke-linecap="butt"/><path clip-path="url(#clipA)" d="M156.4 254.4 L157.9 254.4 L159.4 254.4 L160.9 254.2 L162.4 254.3 L163.9 254.3 L165.4 254.2 L166.9 254.2 L168.4 254.2 L169.9 254.1 L171.4 254.1 L172.9 254.1 L174.4 254 L175.9 254 L177.4 254 L178.9 254 L180.4 254 L181.9 253.9 L183.4 253.9 L184.9 253.9 L186.4 253.9 L187.9 253.8 L189.4 253.9 L190.9 253.9 L192.4 253.7 L193.9 253.7 L195.4 253.8 L196.9 253.7 L198.4 253.7 L199.9 253.7 L201.4 253.8 L202.9 253.6 L204.4 253.6 L205.9 253.7 L207.4 253.6 L208.9 253.6 L210.5 253.6 L212 253.5 L213.5 253.5 L215 253.5 L216.5 253.4 L218 253.5 L219.5 253.5 L221 253.4 L222.5 253.4 L224 253.4 L225.5 253.4 L227 253.4 L228.5 253.4 L230 253.4 L231.5 253.3 L233 253.3 L234.5 253.3 L236 253.2 L237.5 253.3 L239 253.2 L240.5 253.3 L242 253.2 L243.5 253.1 L245 253.1 L246.5 253.1 L248 253.1 L249.5 253.1 L251 253 L252.5 253.1 L254 253 L255.5 253 L257 253.1 L258.5 252.9 L260 253 L261.5 253 L263 252.9 L264.5 252.9 L266 252.9 L267.5 252.9 L269 252.9 L270.5 252.8 L272 252.8 L273.5 252.8 L275 252.8 L276.5 252.8 L278 252.8 L279.5 252.7 L281 252.7 L282.5 252.8 L284 252.7 L285.5 252.6 L287 252.7 L288.5 252.7 L290 252.6 L291.5 252.7 L293 252.6 L294.5 252.6 L296 252.5 L297.5 252.6 L299 252.4 L300.5 252.5 L302 252.5 L303.5 252.4 L305 252.5 L306.5 252.4 L308 252.5 L309.5 252.4 L311 252.4 L312.5 252.4 L314 252.4 L315.5 252.3 L317 252.2 L318.6 252.4 L320.1 252.3 L321.6 252.2 L323.1 252.2 L324.6 252.2 L326.1 252.2 L327.6 252.2 L329.1 252.1 L330.6 252.1 L332.1 252.1 L333.6 252 L335.1 252.1 L336.6 252.1 L338.1 251.9 L339.6 251.9 L341.1 252 L342.6 252.1 L344.1 251.9 L345.6 251.8 L347.1 251.9 L348.6 251.8 L350.1 251.8 L351.6 251.8 L353.1 251.8 L354.6 251.7 L356.1 251.7 L357.6 251.7 L359.1 251.6 L360.6 251.7 L362.1 251.6 L363.6 251.6 L365.1 251.5 L366.6 251.5 L368.1 251.6 L369.6 251.5 L371.1 251.5 L372.6 251.5 L374.1 251.5 L375.6 251.4 L377.1 251.5 L378.6 251.4 L380.1 251.3 L381.6 251.4 L383.1 251.3 L384.6 251.3 L386.1 251.3 L387.6 251.3 L389.1 251.3 L390.6 251.2 L392.1 251.2 L393.6 251.1 L395.1 251.3 L396.6 251.4 L398.1 251.4 L399.6 251.5 L401.1 251.6 L402.6 251.7 L404.1 251.8 L405.6 251.9 L407.1 251.9 L408.6 251.9 L410.1 252 L411.6 252.1 L413.1 252.2 L414.6 252.2 L416.1 252.3 L417.6 252.3 L419.1 252.5 L420.6 252.5 L422.1 252.5 L423.6 252.7 L425.1 252.8 L426.7 252.8 L428.2 252.8 L429.7 252.8 L431.2 253.1 L432.7 253 L434.2 253 L435.7 253.1 L437.2 253.2 L438.7 253.2 L440.2 253.3 L441.7 253.3 L443.2 253.5 L444.7 253.5 L446.2 253.4 L447.7 253.6 L449.2 253.6 L450.7 253.8 L452.2 253.8 L453.7 253.9 L455.2 253.8 L456.7 254 L458.2 254.1 L459.7 254 L461.2 254.2 L462.7 254.2 L464.2 254.3 L465.7 254.3 L467.2 254.5 L468.7 254.4 L470.2 254.5 L471.7 254.6 L473.2 254.6 L474.7 254.7 L476.2 254.7 L477.7 254.8 L479.2 254.8 L480.7 254.9 L482.2 255 L483.7 255 L485.2 255.1 L486.7 255.1 L488.2 255.2 L489.7 255.3 L491.2 255.3 L492.7 255.4 L494.2 255.3 L495.7 255.1 L497.2 255.1 L498.7 254.9 L500.2 254.8 L501.7 254.7 L503.2 254.6 L504.7 254.5 L506.2 254.3 L507.7 254.3 L509.2 254.2 L510.7 254 L512.2 253.9 L513.7 253.8 L515.2 253.6 L516.7 253.6 L518.2 253.4 L519.7 253.3 L521.2 253.2 L522.7 253.3 L524.2 253.2 L525.7 253.1 L527.2 253.2 L528.7 253.1 L530.2 253.1 L531.7 253.1 L533.3 253 L534.8 253 L536.3 252.9 L537.8 253 L539.3 252.9 L540.8 252.8 L542.3 252.9 L543.8 252.9 L545.3 252.8 L546.8 252.7 L548.3 252.8 L549.8 252.6 L551.3 252.6 L552.8 252.7 L554.3 252.6 L555.8 252.6 L557.3 252.6 L558.8 252.6 L560.3 252.5 L561.8 252.4 L563.3 252.5 L564.8 252.3 L566.3 252.5 L567.8 252.3 L569.3 252.3 L570.8 252.3 L572.3 252.3 L573.8 252.3 L575.3 252.4 L576.8 252.5 L578.3 252.4 L579.8 252.5 L581.3 252.6 L582.8 252.5 L584.3 252.6 L585.8 252.6 L587.3 252.6 L588.8 252.6 L590.3 252.7 L591.8 252.7 L593.3 252.8 L594.8 252.8 L596.3 252.9 L597.8 252.9 L599.3 252.9 L600.8 252.9 L602.3 253 L603.8 253.1 L605.3 253 L606.8 253.1 L608.3 253.1 L609.8 253.1 L611.3 253.2 L612.8 253.2 L614.3 253.2 L615.8 253.4 L617.3 253.3 L618.8 253.4 L620.3 253.5 L621.8 253.5 L623.3 253.6 L624.8 253.5 L626.3 253.6 L627.8 253.6 L629.3 253.7 L630.8 253.7 L632.3 253.8 L633.8 253.8 L635.3 254 L636.8 253.9 L638.3 254 L639.8 254 L641.4 254.1 L642.9 254.1 L644.4 254.1 L645.9 254.2 L647.4 254.3 L648.9 254.3 L650.4 254.4 L651.9 254.5 L653.4 254.4 L654.9 254.5 L656.4 254.5 L657.9 254.6 L659.4 254.6 L660.9 254.7 L662.4 254.8 L663.9 254.7 L665.4 254.8 L666.9 254.7 L668.4 254.7 L669.9 254.6 L671.4 254.6 L672.9 254.6 L674.4 254.6 L675.9 254.5 L677.4 254.4 L678.9 254.4 L680.4 254.4 L681.9 254.4 L683.4 254.2 L684.9 254.3 L686.4 254.3 L687.9 254.2 L689.4 254.1 L690.9 254.2 L692.4 254 L693.9 254.1 L695.4 254 L696.9 254 L698.4 254 L699.9 253.8 L701.4 253.8 L702.9 253.8 L704.4 253.8 L705.9 253.8 L707.4 253.6 L708.9 253.7 L710.4 253.6 L711.9 253.7 L713.4 253.4 L714.9 253.5 L716.4 253.5 L717.9 253.3 L719.4 253.3 L720.9 253.4 L722.4 253.3 L723.9 253.2 L725.4 253.2 L726.9 253.2 L728.4 253.2 L729.9 253.1 L731.4 253.1 L732.9 253 L734.4 253 L735.9 253 L737.4 253 L738.9 252.9 L740.4 252.8 L741.9 252.9 L743.4 252.8 L744.9 252.7 L746.4 252.7 L747.9 252.7 L749.5 252.6 L751 252.6 L752.5 252.6 L754 252.5 L755.5 252.5 L757 252.4 L758.5 252.4 L760 252.4 L761.5 252.5 L763 252.2 L764.5 252.3 L766 252.1 L767.5 251.9 L769 251.8 L770.5 251.5 L772 251.3 L773.5 251.3 L775 251 L776.5 250.9 L778 250.7 L779.5 250.7 L781 250.5 L782.5 250.2 L784 250.2 L785.5 250 L787 249.8 L788.5 249.7 L790 249.5 L791.5 249.4 L793 249.3 L794.5 249.1 L796 249 L797.5 248.8 L799 248.7 L800.5 248.5 L802 248.5 L803.5 248.2 L805 248.2 L806.5 248 L808 247.9 L809.5 247.9 L811 247.9 L812.5 247.9 L814 247.8 L815.5 247.7 L817 247.7 L818.5 247.7 L820 247.7 L821.5 247.7 L823 247.6 L824.5 247.6 L826 247.5 L827.5 247.5 L829 247.5 L830.5 247.5 L832 247.4 L833.5 247.3 L835 247.3 L836.5 247.3 L838 247.2 L839.5 247.2 L841 247.2 L842.5 247.2 L844 247.1 L845.5 247.1 L847 247.1 L848.5 247 L850 247.1 L851.5 247.1 L853 247.1 L854.5 247.2 L856.1 247.2 L857.6 247.3 L859.1 247.3 L860.6 247.4 L862.1 247.4 L863.6 247.4 L865.1 247.5 L866.6 247.5 L868.1 247.6 L869.6 247.7 L871.1 247.7 L872.6 247.8 L874.1 247.8 L875.6 247.8 L877.1 247.9 L878.6 248 L880.1 248 L881.6 248 L883.1 248.1 L884.6 247.9 L886.1 248 L887.6 248 L889.1 247.9 L890.6 247.8 L892.1 247.8 L893.6 247.8 L895.1 247.9 L896.6 247.8 L898.1 247.8 L899.6 247.8 L901.1 247.8 L902.6 247.6 L904.1 247.7 L905.6 247.7 L907.1 247.6 L908.6 247.8 L910.1 247.6 L911.6 247.6 L913.1 247.6 L914.6 247.6 L916.1 247.5 L917.6 247.6 L919.1 247.6 L920.6 247.5 L922.1 247.4 L923.6 247.5 L925.1 247.6 L926.6 247.4 L928.1 247.4 L929.6 247.4 L931.1 247.4 L932.6 247.4 L934.1 247.4 L935.6 247.3 L937.1 247.4 L938.6 247.3 L940.1 247.2 L941.6 247.4 L943.1 247.4 L944.6 247.2 L946.1 247.2 L947.6 247.3 L949.1 247.1 L950.6 247.1 L952.1 247.1 L953.6 247.1 L955.1 247.1 L956.6 247.1 L958.1 247.1 L959.6 247 L961.1 247.1 L962.6 247.1 L964.2 247.1 L965.7 247.1 L967.2 247.1 L968.7 247.1 L970.2 247.1 L971.7 247.2 L973.2 247.2 L974.7 247.3 L976.2 247.3 L977.7 247.3 L979.2 247.4 L980.7 247.5 L982.2 247.4 L983.7 247.4 L985.2 247.5 L986.7 247.5 L988.2 247.6 L989.7 247.7 L991.2 247.7 L992.7 247.7 L994.2 247.7 L995.7 247.8 L997.2 247.8 L998.7 247.9 L1000.2 247.9 L1001.7 248 L1003.2 247.9 L1004.7 248 L1006.2 247.9 L1007.7 247.9 L1009.2 247.8 L1010.7 247.6 L1012.2 247.6 L1013.7 247.6 L1015.2 247.5 L1016.7 247.4 L1018.2 247.3 L1019.7 247.1 L1021.2 247.1 L1022.7 247 L1024.2 247 L1025.7 246.9 L1027.2 246.9 L1028.7 246.8 L1030.2 246.7 L1031.7 246.6 L1033.2 246.5 L1034.7 246.5 L1036.2 246.3 L1037.7 246.2 L1039.2 246.2 L1040.7 246.2 L1042.2 245.9 L1043.7 246 L1045.2 246 L1046.7 245.9 L1048.2 245.8 L1049.7 245.9 L1051.2 245.8 L1052.7 245.9 L1054.2 245.8 L1055.7 245.7 L1057.2 245.7 L1058.7 245.8 L1060.2 245.8 L1061.7 245.7 L1063.2 245.7 L1064.7 245.7 L1066.2 245.6 L1067.7 245.5 L1069.2 245.5 L1070.7 245.5 L1072.3 245.6 L1073.8 245.4 L1075.3 245.4 L1076.8 245.3 L1078.3 245.4 L1079.8 245.4 L1081.3 245.3 L1082.8 245.3 L1084.3 245.3 L1085.8 245.2 L1087.3 245.3 L1088.8 245.2 L1090.3 245.1 L1091.8 245.1 L1093.3 245 L1094.8 245.1 L1096.3 245 L1097.8 245.1 L1099.3 245.1 L1100.8 244.9 L1102.3 244.9 L1103.8 245 L1105.3 244.8 L1106.8 244.8 L1108.3 244.9 L1109.8 244.7 L1111.3 244.7 L1112.8 244.7 L1114.3 244.7 L1115.8 244.7 L1117.3 244.7 L1118.8 244.6 L1120.3 244.6 L1121.8 244.6 L1123.3 244.5 L1124.8 244.5 L1126.3 235.2 L1127.8 228.1 L1129.4 223.2 L1130.9 218.8 L1132.4 214.9 L1133.9 211.1 L1135.5 207.7 L1137 204.4 L1138.5 201.3 L1140 198.2 L1141.5 195.6 L1143.1 193.2 L1144.6 190.2 L1146.1 188.1 L1147.6 185.5 L1149.2 183.7 L1150.7 181.4 L1152.2 179.2 L1153.7 177.7 L1155.2 176.1 L1156.8 174.1 L1158.3 172.6 L1159.8 170.7 L1161.3 168.7 L1162.9 167.5 L1164.4 165.8 L1165.9 164.1 L1167.4 163 L1169 161.6 L1170.5 160.1 L1172 159.1 L1173.5 157.7 L1175 156.8 L1176.6 155.5 L1178.1 154.6 L1179.6 153.3 L1181.1 152.5 L1182.7 151.1 L1184.2 150 L1185.7 148.3 L1187.2 147.1 L1188.7 146 L1190.3 144.2 L1191.8 143.3 L1193.3 142.5 L1194.8 141.4 L1196.4 140.4 L1197.9 139.2 L1199.4 138.3 L1200.9 138.6 L1202.4 139 L1203.9 139.5 L1205.4 139.9 L1206.9 140.3 L1208.4 140.6 L1209.9 141.1 L1211.4 141.6 L1212.9 142 L1214.4 142.4 L1215.9 142.8 L1217.4 143.1 L1218.9 143.7 L1220.5 144 L1222 144.5 L1223.5 144.9 L1225 145.3 L1226.5 145.7 L1228 146.1 L1229.5 146.5 L1231 147 L1232.5 147.5 L1234 147.9 L1235.5 148.4 L1237 148.9 L1238.5 149.2 L1240 149.8 L1241.5 150.1 L1243 150.6 L1244.5 151 L1246 151.5 L1247.5 152 L1249 152.4 L1250.5 152.9 L1252 153.3 L1253.5 153.8 L1255 154.2 L1256.5 154.6 L1258 155.1 L1259.5 155.6 L1261 155.9 L1262.6 156.5 L1264.1 156.8 L1265.6 157.4 L1267.1 157.8 L1268.6 158.3 L1270.1 158.7 L1271.6 159.2 L1273.1 159.7 L1274.6 160.2 L1276.1 160.6 L1277.6 160.9 L1279.1 161.4 L1280.6 161.9 L1282.1 162.4 L1283.6 162.9 L1285.1 163.3 L1286.6 163.7 L1288.1 164.2 L1289.6 164.5 L1291.1 164.8 L1292.6 165.2 L1294.1 165.5 L1295.6 165.8 L1297.1 166.2 L1298.6 166.5 L1300.1 166.8 L1301.6 167.1 L1303.2 167.6 L1304.7 167.9 L1306.2 168.3 L1307.7 168.5 L1309.2 168.8 L1310.7 169.2 L1312.2 169.6 L1313.7 169.8 L1315.2 170.1 L1316.7 170.5 L1318.2 170.8 L1319.7 171.1 L1321.2 171.3 L1322.7 171.7 L1324.2 171.8 L1325.7 172.2 L1327.2 172.6 L1328.7 172.7 L1330.2 173 L1331.7 173.2 L1333.2 173.5 L1334.7 173.7 L1336.2 174.1 L1337.7 174.3 L1339.2 174.7 L1340.7 174.8 L1342.2 175.1 L1343.7 175.4 L1345.3 175.7 L1346.8 176 L1348.3 176.2 L1349.8 176.4 L1351.3 176.6 L1352.8 177 L1354.3 177.2 L1355.8 177.4 L1357.3 177.7 L1358.8 177.8 L1360.3 178.1 L1361.8 178.5 L1363.3 178.8 L1364.8 179 L1367.1 147.3 L1368.6 146.1 L1370.1 145.1 L1371.6 144.6 L1373.1 144.3 L1374.6 143.9 L1376.1 143.6 L1377.6 143.2 L1379.2 143.1 L1380.7 143.6 L1382.2 144.2 L1383.7 144.7 L1385.2 145.2 L1386.7 145.7 L1388.2 146.3 L1389.7 146.7 L1391.2 147.2 L1392.7 147.8 L1394.2 148.2 L1395.7 148.7 L1397.2 149.3 L1398.7 149.8 L1400.2 150.3 L1401.7 150.8 L1403.3 151.2 L1404.8 151.8 L1406.3 152.3 L1407.8 152.8 L1409.3 153.2 L1410.8 153.8 L1412.3 154.1 L1413.8 154.6 L1415.3 155 L1416.8 155.4 L1418.3 155.9 L1419.8 156.2 L1421.3 156.7 L1422.8 157.1 L1424.3 157.5 L1425.8 157.9 L1427.4 158.2 L1428.9 158.7 L1430.4 159 L1431.9 159.5 L1433.4 160 L1434.9 160.4 L1436.4 160.8 L1437.9 161.2 L1439.4 161.6 L1440.9 162 L1442.4 162.4 L1443.9 162.8 L1445.4 163 L1446.9 163.5 L1448.4 163.7 L1449.9 164 L1451.5 164.4 L1453 164.7 L1454.5 165.1 L1456 165.3 L1457.5 165.8 L1459 166.1 L1460.5 166.5 L1462 166.8 L1463.5 167 L1465 167.4 L1466.5 167.7 L1468 168.1 L1469.5 168.4 L1471 168.8 L1472.5 169 L1474 169.4 L1475.6 169.7 L1477.1 169.9 L1478.6 170.3 L1480.1 170.6 L1481.6 170.9 L1483.1 171.2 L1484.6 171.6 L1486.1 171.9 L1487.6 172.1 L1489.1 172.4 L1490.6 172.8 L1492.1 173 L1493.6 173.3 L1495.1 173.6 L1496.6 173.9 L1498.1 174.3 L1499.7 174.5 L1501.2 174.8 L1502.7 174.8 L1504.2 175.1 L1505.7 175 L1507.2 175.1 L1508.7 175.2 L1510.2 175.3 L1512.2 143 L1513.7 142.8 L1515.2 142.4 L1516.7 142.2 L1518.3 141.9 L1519.8 141.7 L1521.3 141.5 L1522.8 141.9 L1524.3 142.4 L1525.8 142.8 L1527.4 143.2 L1528.9 143.6 L1530.4 144.1 L1531.9 144.4 L1533.4 145 L1534.9 145.4 L1536.5 146 L1538 146.5 L1539.5 147 L1541 147.5 L1542.5 147.9 L1544 148.4 L1545.6 149.1 L1547.1 149.5 L1548.6 150 L1550.1 150.5 L1551.6 150.9 L1553.1 151.4 L1554.7 151.9 L1556.2 152.4 L1557.7 152.9 L1559.2 153.4 L1560.7 153.8 L1562.2 154.4 L1563.8 154.7 L1565.3 155.1 L1566.8 155.2 L1568.3 155.7 L1569.8 155.9 L1571.3 156.2 L1572.9 156.6 L1574.4 156.9 L1575.9 157.2 L1577.4 157.5 L1578.9 157.8 L1580.4 158.1 L1582 158.4 L1583.5 158.6 L1585 159 L1586.5 159.2 L1588 159.4 L1589.5 159.7 L1591.1 159.9 L1592.6 160.1 L1594.1 160.4 L1595.6 160.5" stroke="#3450a4" stroke-width="4.5" fill="none" stroke-linejoin="round" stroke-linecap="butt"/><path clip-path="url(#clipA)" d="M156.4 328.6 L157.9 328.5 L159.4 328.6 L160.9 328.2 L162.4 329 L163.9 328.9 L165.4 328.6 L166.9 328.9 L168.4 328.8 L169.9 328.7 L171.4 329 L172.9 328.7 L174.4 328.8 L175.9 328.7 L177.4 329 L178.9 328.9 L180.4 329 L181.9 328.8 L183.4 329 L184.9 328.8 L186.4 329.2 L187.9 329 L189.4 329.1 L190.9 329.1 L192.4 328.9 L193.9 329.2 L195.4 329.5 L196.9 328.8 L198.4 328.8 L199.9 328.9 L201.4 329.3 L202.9 329.2 L204.4 329.4 L205.9 329.4 L207.4 329.3 L208.9 329.3 L210.4 329.3 L211.9 329.5 L213.4 329.1 L214.9 329.3 L216.4 329.4 L217.9 329.7 L219.4 329.3 L220.9 329.2 L222.4 329.3 L223.9 329.7 L225.4 329.4 L226.9 329.8 L228.4 329.1 L229.9 329.8 L231.4 329.8 L232.9 329.3 L234.4 329.6 L235.9 330 L237.4 329.9 L238.9 330.2 L240.4 330.7 L241.9 330.4 L243.4 330.5 L244.9 330.5 L246.4 331 L247.9 330.9 L249.4 331.1 L250.9 331.3 L252.4 331.6 L253.9 331.4 L255.4 331.5 L256.9 331.2 L258.4 331.9 L259.9 331.5 L261.4 331.7 L262.9 331.3 L264.4 331.1 L265.9 331.2 L267.4 331 L268.9 330.7 L270.4 330.7 L271.9 331.1 L273.4 330.7 L274.9 330.6 L276.4 330.4 L278 330.2 L279.5 330.4 L281 330.1 L282.5 329.9 L284 329.9 L285.5 329.7 L287 329.8 L288.5 329.9 L290 329.4 L291.5 329.7 L293 329.2 L294.5 329.3 L296 329 L297.5 329 L299 329 L300.5 328.8 L302 328.6 L303.5 328.5 L305 328.4 L306.5 328.3 L308 328.6 L309.5 328.8 L311 328.9 L312.5 328.9 L314 329.3 L315.5 328.9 L317 328.8 L318.5 329.3 L320 328.7 L321.5 329.2 L323 328.8 L324.5 329.1 L326 328.7 L327.5 329.3 L329 329.1 L330.5 329 L332 329.6 L333.5 329.4 L335 329.3 L336.5 329.2 L338 329.4 L339.5 329.4 L341 329.6 L342.5 329.6 L344 329.4 L345.5 329.4 L347 329.5 L348.5 329.3 L350 329.5 L351.5 329.7 L353 329.8 L354.5 330 L356 329.6 L357.5 329.9 L359 329.8 L360.5 330.3 L362 329.9 L363.5 330 L365 329.8 L366.5 329.9 L368 330.1 L369.5 330 L371 330.2 L372.5 329.8 L374 330.3 L375.5 330 L377 330.6 L378.5 330.2 L380 330.5 L381.5 330.1 L383 330.5 L384.5 330.2 L386 330.4 L387.5 330.5 L389 330.5 L390.5 330.6 L392 330.7 L393.5 330.8 L395 330.6 L396.5 330.7 L398 333.7 L399.5 359.1 L401 376.8 L402.5 385.6 L404 395.3 L405.5 405.1 L407 413.2 L408.5 420.6 L410 426.8 L411.5 433.5 L413 438.8 L414.5 442.7 L416 448.1 L417.5 451.7 L419 453.9 L420.5 458.6 L422 461.1 L423.5 465.9 L425 468.9 L426.5 470.7 L428 473.5 L429.5 476.2 L431 478 L432.5 480.8 L434 482 L435.5 482.8 L437 484.7 L438.5 484.4 L440 486.9 L441.5 488.2 L443 488.6 L444.5 489.2 L446 490.8 L447.5 492.5 L449 492.2 L450.5 492.3 L452 494.6 L453.5 493.4 L455 495.6 L456.5 495.7 L458 497.3 L459.5 496.9 L461 498.9 L462.5 498.9 L464 498.2 L465.5 498.6 L467 500.1 L468.5 501.5 L470 501.4 L471.5 501.9 L473 502.3 L474.5 503.5 L476 503.9 L477.5 504.4 L479 504.9 L480.5 500.7 L482 495.8 L483.5 492.1 L485 487.4 L486.6 482.8 L488.1 478.2 L489.6 474.4 L491.1 470.2 L492.6 465.8 L494.1 461.5 L495.6 458 L497.1 453.7 L498.7 449.9 L500.2 446.8 L501.7 443 L503.2 439.2 L504.7 435.5 L506.2 432.4 L507.7 428.6 L509.2 426 L510.8 422.9 L512.3 420 L513.8 417.3 L515.3 415.2 L516.8 412.7 L518.3 410.3 L519.8 408.2 L521.3 405.8 L522.9 403.6 L524.4 401.5 L525.9 399.9 L527.4 398.2 L528.9 396.3 L530.4 394.6 L531.9 392.5 L533.4 391 L534.9 389.2 L536.5 387.5 L538 386.5 L539.5 384.8 L541 382.9 L542.5 381.4 L544 380.1 L545.5 378.4 L547 377.5 L548.6 375.8 L550.1 374.7 L551.6 373.4 L553.1 372.3 L554.6 371 L556.1 369.9 L557.6 368.9 L559.1 367.9 L560.7 367 L562.2 366.1 L563.7 365.4 L565.2 364.3 L566.7 363.2 L568.3 364.7 L569.9 366.7 L571.6 368.2 L573.2 369.4 L574.8 376 L575.8 536.1 L577.3 531.8 L578.8 528.4 L580.3 524.6 L581.8 520.5 L583.3 516.9 L584.8 513.1 L586.3 509.5 L587.8 505.6 L589.3 502.2 L590.8 497.6 L592.4 493.9 L593.9 489.6 L595.4 485.5 L596.9 481 L598.4 476.7 L599.9 472.7 L601.4 468.8 L602.9 464.7 L604.4 460.3 L605.9 456.2 L607.4 451.9 L608.9 448.3 L610.4 444.4 L611.9 440.3 L613.4 436.7 L614.9 433 L616.4 430.2 L617.9 426.8 L619.4 423.6 L621 420.8 L622.5 418 L624 415.1 L625.5 412.4 L627 410 L628.5 407.6 L630 405.8 L631.5 404.1 L633 401.2 L634.5 399.5 L636 397.5 L637.6 400.7 L639.2 403.7 L640.8 412 L642.5 529.3 L644 526.2 L645.5 523.3 L647 520 L648.5 516.6 L650 513.6 L651.5 510.7 L653 507.3 L654.5 504 L656 500.4 L657.5 497.2 L659 493.8 L660.5 490.1 L662 486.8 L663.5 482.7 L665 478.7 L666.5 474.8 L668 471.5 L669.5 467.4 L671 463.8 L672.5 459.8 L674 456.2 L675.5 452.4 L677 448.3 L678.6 444.8 L680.1 441.4 L681.6 437.4 L683.1 434.5 L684.6 431.2 L686.1 427.9 L687.6 424.6 L689.1 421.7 L690.6 418.5 L692.1 416 L693.6 413.2 L695.1 410.8 L696.6 408.3 L698.1 406.2 L699.6 404.2 L701.1 401.6 L702.6 400.1 L704.1 397.7 L705.6 395.9 L707.1 394.6 L708.6 393 L710.1 391.5 L711.6 389.9 L713.1 390.9 L714.7 392.1 L716.2 392.9 L717.7 402 L719.2 540.7 L720.7 536.4 L722.2 532 L723.7 528 L725.2 523.3 L726.7 519.1 L728.3 515.1 L729.8 511.1 L731.3 506.6 L732.8 502.4 L734.3 498 L735.8 494.1 L737.3 489.9 L738.8 486 L740.3 481.6 L741.8 477.3 L743.4 473.3 L744.9 469.3 L746.4 465.3 L747.9 462 L749.4 458.1 L750.9 454 L752.4 451 L753.9 447.1 L755.4 443.4 L756.9 440.2 L758.4 436.9 L760 433.5 L761.5 430.2 L763 427.6 L764.5 424.7 L766 421.3 L767.5 419.2 L769 416.7 L770.5 413.9 L772 411.7 L773.5 409.3 L775.1 407 L776.6 404.9 L778.1 403.2 L779.6 400.7 L781.1 399.2 L782.6 397.3 L784.1 395.4 L785.6 393.8 L787.1 392 L788.6 390.5 L790.1 389.1 L791.7 387.7 L793.2 386.1 L794.7 385.5 L796.2 383.4 L797.7 382.2 L799.2 380.9 L800.7 379.6 L802.2 378.8 L803.7 377.3 L805.2 376.5 L806.8 375.4 L808.3 373.9 L809.8 373.3 L811.3 372 L812.8 371.7 L814.3 370.1 L815.8 369.1 L817.3 368.1 L818.8 367.3 L820.3 366.6 L821.8 365.7 L823.4 364.9 L824.9 364.3 L826.4 363.6 L827.9 363.2 L829.4 361.9 L830.9 361.4 L832.4 360.6 L833.9 359.8 L835.4 359.2 L836.9 358.6 L838.5 358.3 L840 357.5 L841.5 356.8 L843 356.4 L844.5 355.8 L846 355.1 L847.5 354.6 L849 353.8 L850.5 353.5 L852 353 L853.5 352.2 L855.1 351.6 L856.6 351.6 L858.1 350.8 L859.6 350.9 L861.1 349.7 L862.6 349.6 L864.1 348.9 L865.6 348.6 L867.1 348.3 L868.6 347.6 L870.2 347.3 L871.7 347 L873.2 346.6 L874.7 346.3 L876.2 346 L877.7 345.4 L879.3 345.4 L880.9 345.4 L882.5 345.8 L884 348 L885.6 350.3 L887.2 353.4 L888.8 360 L890.6 545.3 L892.1 540.3 L893.7 535.5 L895.2 530.8 L896.7 526.2 L898.2 520.8 L899.8 516.3 L901.3 511.8 L902.8 507 L904.4 502.2 L905.9 497.6 L907.4 493.3 L909 488.3 L910.5 483.9 L912 479.3 L913.5 474.5 L915.1 470.2 L916.6 465.6 L918.1 461.2 L919.7 456.8 L921.2 453 L922.7 448.7 L924.3 444.7 L925.8 440.7 L927.3 437.6 L928.8 433.7 L930.4 430 L931.9 426.6 L933.4 423.2 L935 420.4 L936.5 417.5 L938 414.4 L939.6 412.2 L941.1 409.6 L942.6 407 L944.1 404.8 L945.7 402.8 L947.2 401.1 L948.7 399.3 L950.3 397.4 L951.8 396.6 L953.3 395 L954.9 394 L956.4 392.9 L957.9 391.5 L959.4 390.6 L961 389.7 L962.5 388.6 L964.1 390.7 L965.6 393.5 L967.2 400 L969.3 530.8 L970.8 526.2 L972.3 522.4 L973.8 517.9 L975.3 513.8 L976.8 509.6 L978.4 505.5 L979.9 501.6 L981.4 497 L982.9 492.5 L984.4 488.6 L985.9 484.3 L987.4 480.4 L988.9 476.1 L990.4 472.1 L991.9 468.2 L993.4 464.2 L994.9 460.1 L996.5 456.6 L998 452.9 L999.5 449.5 L1001 445.6 L1002.5 442.1 L1004 438.9 L1005.5 435.5 L1007 432.5 L1008.5 429.2 L1010 426 L1011.5 423.3 L1013.1 420.6 L1014.6 417.5 L1016.1 415 L1017.6 412.2 L1019.1 410.1 L1020.6 407.8 L1022.1 405.8 L1023.6 403.7 L1025.1 401.8 L1026.6 400 L1028.1 398.4 L1029.6 396.7 L1031.2 394.9 L1032.7 393.2 L1034.2 392.2 L1035.7 390.8 L1037.2 389 L1038.7 387.6 L1040.3 388.1 L1042 390.6 L1043.7 394.3 L1045.3 401.6 L1046.9 412.8 L1048.6 429.5 L1050.8 475.2 L1052.3 472.7 L1053.8 469.9 L1055.4 467.1 L1056.9 464.5 L1058.4 462.3 L1059.9 458.8 L1061.5 456.2 L1063 453.4 L1064.5 450.5 L1066 447.6 L1067.6 445.4 L1069.1 442.3 L1070.6 439 L1072.1 436.4 L1073.7 433.8 L1075.2 431 L1076.7 427.8 L1078.2 425.3 L1079.8 422.7 L1081.3 420.1 L1082.8 417.5 L1084.3 414.6 L1085.8 412.9 L1087.4 410.2 L1088.9 408.3 L1090.4 406.3 L1091.9 403.7 L1093.5 401.6 L1095 400.2 L1096.5 398.3 L1098 396.6 L1099.6 395 L1101.1 394.2 L1102.6 392.4 L1104.1 390.9 L1105.7 389.9 L1107.2 388.6 L1108.7 387.6 L1110.3 388.4 L1111.8 389.8 L1113.4 391 L1115 398 L1116.4 526.2 L1117.9 521.4 L1119.4 516.6 L1120.9 512 L1122.5 507.4 L1124 502.5 L1125.5 497.8 L1127 493.1 L1128.5 488.5 L1130 484 L1131.6 479.1 L1133.1 474.6 L1134.6 470.3 L1136.1 465.7 L1137.6 461.5 L1139.1 457.3 L1140.6 453 L1142.2 448.7 L1143.7 444.6 L1145.2 441.2 L1146.7 437.1 L1148.2 433 L1149.7 429.4 L1151.3 426.4 L1152.8 422.9 L1154.3 419.3 L1155.8 416.3 L1157.3 412.7 L1158.8 410.1 L1160.3 407.4 L1161.9 404.2 L1163.4 401.8 L1164.9 399.6 L1166.4 397.4 L1167.9 394.8 L1169.4 392.8 L1171 391 L1172.5 388.6 L1174 386.5 L1175.5 384.9 L1177 383.1 L1178.5 381.7 L1180 379.8 L1181.6 378 L1183.1 377 L1184.6 374.9 L1186.1 373.6 L1187.6 372.1 L1189.1 370.7 L1190.7 369.2 L1192.2 367.9 L1193.7 366.5 L1195.2 364.9 L1196.7 363.9 L1198.2 362.7 L1199.7 361.5 L1201.3 360.4 L1202.8 359.1 L1204.3 358.4 L1205.8 357.4 L1207.3 355.6 L1208.8 355 L1210.4 353.9 L1211.9 352.5 L1213.4 352.1 L1214.9 351 L1216.4 351.2 L1217.9 352 L1219.4 352.4 L1221 352.6 L1222.5 355 L1224 357.1 L1225.5 359.4 L1227 366 L1228.6 543.7 L1230.1 539 L1231.6 534.6 L1233.1 530.1 L1234.6 525.4 L1236.1 521 L1237.6 516.7 L1239.1 511.2 L1240.6 507.1 L1242.1 502.4 L1243.6 497.9 L1245.2 493.3 L1246.7 489.1 L1248.2 484.6 L1249.7 480.1 L1251.2 475.9 L1252.7 471.5 L1254.2 467 L1255.7 463.5 L1257.2 459.1 L1258.7 455 L1260.2 451.3 L1261.7 447.3 L1263.2 443.3 L1264.7 440.2 L1266.2 436.2 L1267.7 433.1 L1269.2 429.9 L1270.7 427 L1272.2 423.9 L1273.8 420.8 L1275.3 417.8 L1276.8 415.3 L1278.3 413 L1279.8 410.7 L1281.3 408.2 L1282.8 405.7 L1284.3 403.9 L1285.8 401.5 L1287.3 399.5 L1288.8 397.5 L1290.3 399.1 L1291.8 400.7 L1293.3 402.3 L1294.8 410 L1296.4 527.7 L1297.9 523.6 L1299.4 520.1 L1300.9 516.3 L1302.5 512.9 L1304 508.7 L1305.5 504.8 L1307 501.2 L1308.5 497.3 L1310 493.1 L1311.6 489.3 L1313.1 485 L1314.6 481.1 L1316.1 477.5 L1317.6 473 L1319.1 469.4 L1320.6 465.3 L1322.2 461.4 L1323.7 457.4 L1325.2 453.5 L1326.7 449.1 L1328.2 445.5 L1329.7 441.8 L1331.3 438.5 L1332.8 434.5 L1334.3 431.1 L1335.8 427.8 L1337.3 424.9 L1338.8 421.2 L1340.3 418.2 L1341.9 415.6 L1343.4 412.3 L1344.9 410.1 L1346.4 407.4 L1347.9 404.7 L1349.4 402.6 L1351 400.3 L1352.5 398.4 L1354 396.4 L1355.5 394.7 L1357 392.5 L1358.5 390.7 L1360 388.9 L1361.6 387.3 L1363.1 386 L1364.6 383.8 L1366.1 382.8 L1367.6 381.1 L1369.1 379.8 L1370.7 378.5 L1372.2 377.3 L1373.7 375.8 L1375.2 374.4 L1376.7 373.4 L1378.2 372.1 L1379.7 370.9 L1381.3 369.9 L1382.8 368.9 L1384.3 367.7 L1385.8 366.7 L1387.3 365.5 L1388.8 364.8 L1390.4 363.6 L1391.9 363.3 L1393.4 362.2 L1394.9 361.9 L1396.4 361.5 L1397.9 360.2 L1399.4 359.9 L1401 359.1 L1402.5 358.4 L1404 357.8 L1405.5 357.6 L1407 357.3 L1408.5 356.6 L1410.1 355.8 L1411.6 355.4 L1413.1 355.1 L1414.6 354.7 L1416.2 356 L1417.8 357.4 L1419.4 358.4 L1421 359.3 L1422.7 359.3 L1424.3 358.9 L1425.9 359.4 L1427.5 359.3 L1429 366 L1429.7 514.1 L1432.8 538.4 L1434.3 532.5 L1435.8 527.1 L1437.3 522.5 L1438.8 517.9 L1440.3 514.1 L1441.8 510 L1443.3 506.8 L1444.8 503.5 L1446.3 500.6 L1447.8 497.4 L1449.3 494.4 L1450.8 491.3 L1452.3 487.8 L1453.8 483.7 L1455.3 480.6 L1456.8 476.7 L1458.3 472.4 L1459.8 468.5 L1461.3 464.6 L1462.8 460.6 L1464.3 456.4 L1465.8 452.1 L1467.3 448.6 L1468.8 444.7 L1470.3 441.4 L1471.8 437.1 L1473.3 434.4 L1474.8 430.8 L1476.3 427.3 L1477.8 424.4 L1479.3 421.1 L1480.8 418.4 L1482.3 415.3 L1483.8 412.8 L1485.3 409.9 L1486.8 407.3 L1488.3 405.1 L1489.8 402.6 L1491.3 400.6 L1492.8 398.5 L1494.3 396.1 L1495.8 394.1 L1497.3 392.2 L1498.8 390 L1500.3 388.6 L1501.8 386.9 L1503.4 385.3 L1504.9 383.6 L1506.4 381.9 L1507.9 380.8 L1509.4 379.5 L1510.9 378.2 L1512.4 376.7 L1513.9 375.4 L1515.4 373.7 L1516.9 372.5 L1518.4 370.9 L1519.9 369.7 L1521.4 368.5 L1522.9 367.6 L1524.4 365.9 L1525.9 364.4 L1527.4 363.8 L1528.9 362.3 L1530.4 361.4 L1531.9 360.4 L1533.4 359.3 L1534.9 358.8 L1536.4 357.8 L1537.9 356.7 L1539.4 356 L1540.9 355.1 L1542.4 354.6 L1543.9 353.7 L1545.4 352.9 L1546.9 352.2 L1548.4 351.6 L1549.9 351.2 L1551.4 350.3 L1552.9 349.9 L1554.4 349.4 L1555.9 349.3 L1557.4 348.4 L1558.9 347.2 L1560.4 347.1 L1561.9 346.7 L1563.4 346.3 L1564.9 346.1 L1566.4 345.4 L1567.9 344.3 L1569.4 344.3 L1570.9 343.8 L1572.4 343.3 L1574 344 L1575.6 345.3 L1577.1 345.4 L1578.7 346.2 L1580.3 346.4 L1581.9 346.7 L1583.5 346.2 L1585.1 346.9 L1586.6 349.6 L1588.2 354.6 L1589.8 366 L1592.1 527.7 L1595.6 520" stroke="#ec1c24" stroke-width="4.5" fill="none" stroke-linejoin="round" stroke-linecap="butt"/><path clip-path="url(#clipA)" d="M156.4 542.4 L157.9 542.2 L159.4 542.4 L160.9 542.3 L162.4 542.3 L163.9 542.2 L165.4 542.1 L166.9 542.2 L168.4 542.1 L169.9 542.3 L171.4 542.1 L172.9 542 L174.4 542 L175.9 542 L177.4 541.9 L178.9 541.9 L180.4 541.9 L181.9 541.8 L183.4 541.9 L184.9 541.8 L186.4 541.8 L188 541.8 L189.5 541.7 L191 541.6 L192.5 541.6 L194 541.6 L195.5 541.7 L197 541.5 L198.5 541.5 L200 541.5 L201.5 541.4 L203 541.4 L204.5 541.4 L206 541.4 L207.5 541.3 L209 541.3 L210.5 541.1 L212 541.3 L213.5 541.1 L215 541.1 L216.5 541.1 L218 541.1 L219.5 541 L221 541 L222.5 541 L224 541 L225.5 541 L227 540.9 L228.5 540.9 L230 540.9 L231.5 540.8 L233 540.7 L234.5 540.8 L236 540.7 L237.5 540.7 L239 540.6 L240.5 540.6 L242 540.5 L243.5 540.6 L245 540.6 L246.6 540.4 L248.1 540.5 L249.6 540.4 L251.1 540.4 L252.6 540.3 L254.1 540.3 L255.6 540.3 L257.1 540.3 L258.6 540.2 L260.1 540.2 L261.6 540.3 L263.1 540.2 L264.6 540.3 L266.1 540.2 L267.6 540.2 L269.1 540.1 L270.6 540.3 L272.1 540.2 L273.6 540.1 L275.1 540.1 L276.6 540.2 L278.1 540.2 L279.6 540.2 L281.1 540.2 L282.6 540.1 L284.1 540 L285.6 540 L287.1 540 L288.6 540.1 L290.1 540 L291.6 540 L293.1 540 L294.6 540 L296.1 540 L297.6 539.9 L299.1 539.9 L300.6 539.9 L302.1 540 L303.6 540 L305.1 539.9 L306.6 539.9 L308.2 539.9 L309.7 539.9 L311.2 539.9 L312.7 539.8 L314.2 539.9 L315.7 539.8 L317.2 539.8 L318.7 539.8 L320.2 539.9 L321.7 539.9 L323.2 539.8 L324.7 539.7 L326.2 539.7 L327.7 539.7 L329.2 539.8 L330.7 539.6 L332.2 539.8 L333.7 539.7 L335.2 539.6 L336.7 539.6 L338.2 539.6 L339.7 539.6 L341.2 539.7 L342.7 539.7 L344.2 539.6 L345.7 539.6 L347.2 539.6 L348.7 539.7 L350.2 539.6 L351.7 539.6 L353.2 539.5 L354.7 539.5 L356.2 539.5 L357.7 539.6 L359.2 539.5 L360.7 539.5 L362.2 539.4 L363.7 539.5 L365.2 539.4 L366.8 539.4 L368.3 539.4 L369.8 539.5 L371.3 539.4 L372.8 539.4 L374.3 539.3 L375.8 539.3 L377.3 539.4 L378.8 539.4 L380.3 539.3 L381.8 539.3 L383.3 539.3 L384.8 539.3 L386.3 539.2 L387.8 539.2 L389.3 539.3 L390.8 539.2 L392.3 539.2 L393.8 539.2 L395.3 539.2 L396.8 539.2 L398.3 530.5 L399.8 523.1 L401.3 516.2 L402.8 510.7 L404.3 505.5 L405.9 501.9 L407.4 498.1 L408.9 495 L410.4 492.2 L411.9 489.8 L413.4 487.6 L414.9 485.5 L416.4 483.8 L417.9 481.5 L419.4 479.4 L420.9 477.4 L422.5 475.1 L424 473.4 L425.5 471.1 L427 469.1 L428.5 466.6 L430 464.4 L431.5 462.3 L433 460.4 L434.5 458.3 L436 456.5 L437.5 454.7 L439.1 453.2 L440.6 451.2 L442.1 449.8 L443.6 448 L445.1 446.4 L446.6 444.9 L448.1 443.5 L449.6 442.3 L451.1 441.2 L452.6 439.8 L454.1 438.7 L455.7 437.7 L457.2 436.5 L458.7 435.5 L460.2 434.6 L461.7 433.5 L463.2 433 L464.7 431.7 L466.2 431.1 L467.7 430.1 L469.2 429.4 L470.7 428.3 L472.3 427.3 L473.8 426.6 L475.3 425.6 L476.8 424.8 L478.3 423.9 L479.8 423.1 L481.3 423.3 L482.8 423.5 L484.3 423.6 L485.8 424 L487.3 424.3 L488.9 424.9 L490.4 425.5 L491.9 425.8 L493.4 426.5 L494.9 427 L496.4 427.5 L497.9 428.1 L499.4 428.6 L500.9 429.1 L502.4 429.6 L504 430.1 L505.5 430.6 L507 431 L508.5 431.5 L510 432 L511.5 432.3 L513 432.8 L514.5 433.3 L516 433.7 L517.5 434.3 L519 434.6 L520.6 435 L522.1 435.5 L523.6 436 L525.1 436.5 L526.6 436.9 L528.1 437.3 L529.6 437.8 L531.1 438.2 L532.6 438.8 L534.1 439.1 L535.7 439.7 L537.2 440.2 L538.7 440.7 L540.2 441.1 L541.7 441.7 L543.2 442.1 L544.7 442.6 L546.2 443.1 L547.7 443.6 L549.2 444.1 L550.7 444.6 L552.3 445.1 L553.8 445.6 L555.3 446.1 L556.8 446.5 L558.3 447.1 L559.8 447.6 L561.3 448 L562.8 448.5 L564.3 448.7 L565.8 448.8 L567.4 448.9 L568.9 449.1 L570.4 449.3 L571.9 449.3 L573.4 449.5 L574.9 449.7 L575.9 420.3 L577.4 419.8 L578.9 419.8 L580.4 419.8 L581.9 419.7 L583.4 419.8 L584.9 419.7 L586.4 419.6 L587.9 419.6 L589.4 419.7 L590.9 420.3 L592.5 420.9 L594 421.2 L595.5 421.9 L597 422.3 L598.5 422.8 L600 423.3 L601.5 423.7 L603 424.2 L604.5 424.8 L606 425.2 L607.5 425.7 L609 426.3 L610.5 426.7 L612 427.1 L613.5 427.7 L615 428.3 L616.5 428.7 L618 429.3 L619.5 429.8 L621 430.2 L622.5 430.6 L624 431.1 L625.6 431.7 L627.1 432.2 L628.6 432.7 L630.1 433.2 L631.6 433.6 L633.1 434.2 L634.6 434.6 L636.1 435.1 L637.6 435.5 L639.1 435.7 L640.6 436 L641.8 414.2 L643.3 414 L644.8 414 L646.3 414 L647.8 414.1 L649.3 414 L650.8 413.9 L652.4 414 L653.9 414 L655.4 413.9 L656.9 414 L658.4 413.9 L659.9 413.8 L661.4 414.5 L662.9 414.9 L664.4 415.5 L665.9 415.9 L667.4 416.4 L668.9 417.1 L670.5 417.5 L672 418 L673.5 418.6 L675 419 L676.5 419.5 L678 420.1 L679.5 420.6 L681 421 L682.5 421.6 L684 422.1 L685.5 422.7 L687 423.1 L688.5 423.6 L690.1 424.2 L691.6 424.6 L693.1 425.2 L694.6 425.7 L696.1 426.3 L697.6 426.7 L699.1 427.2 L700.6 427.6 L702.1 428.2 L703.6 428.8 L705.1 429.2 L706.6 429.7 L708.2 430.2 L709.7 430.8 L711.2 431.3 L712.7 431.8 L714.2 432.4 L715.7 432.7 L717.2 433 L718.5 409.7 L720 409.7 L721.5 409.5 L723 409.5 L724.5 409.5 L726.1 409.6 L727.6 409.7 L729.1 409.6 L730.6 409.7 L732.1 410 L733.6 410.6 L735.1 411.2 L736.6 411.8 L738.1 412.3 L739.6 413 L741.2 413.6 L742.7 414.2 L744.2 414.8 L745.7 415.4 L747.2 416 L748.7 416.6 L750.2 417.3 L751.7 417.8 L753.2 418.4 L754.8 419 L756.3 419.6 L757.8 420.3 L759.3 420.9 L760.8 421.4 L762.3 422.1 L763.8 422.5 L765.3 423 L766.8 423.4 L768.4 423.9 L769.9 424.3 L771.4 424.8 L772.9 425.1 L774.4 425.7 L775.9 426.1 L777.4 426.6 L778.9 426.9 L780.4 427.5 L781.9 427.9 L783.5 428.3 L785 428.8 L786.5 429.3 L788 429.7 L789.5 430.1 L791 430.6 L792.5 431.1 L794 431.6 L795.5 431.9 L797.1 432.4 L798.6 432.9 L800.1 433.3 L801.6 433.7 L803.1 434.1 L804.6 434.7 L806.1 435.1 L807.6 435.5 L809.1 436 L810.6 436.5 L812.2 436.9 L813.7 437.4 L815.2 437.7 L816.7 438.3 L818.2 438.6 L819.7 439.1 L821.2 439.7 L822.7 440.1 L824.2 440.5 L825.8 441 L827.3 441.5 L828.8 441.9 L830.3 442.4 L831.8 442.9 L833.3 443.2 L834.8 443.7 L836.3 444.2 L837.8 444.7 L839.3 445.1 L840.9 445.6 L842.4 446 L843.9 446.5 L845.4 447 L846.9 447.4 L848.4 447.9 L849.9 448.3 L851.4 448.7 L852.9 449.2 L854.5 449.5 L856 449.9 L857.5 450.3 L859 450.4 L860.5 450.7 L862 450.9 L863.5 451.4 L865 451.6 L866.5 451.9 L868.1 452.3 L869.6 452.5 L871.1 452.8 L872.6 453.2 L874.1 453.4 L875.6 453.8 L877.1 454.1 L878.6 454.3 L880.1 454.6 L881.6 455 L883.2 455.3 L884.7 455.4 L886.2 455.6 L887.7 455.8 L889.2 456 L890.6 420.3 L892.1 420.3 L893.6 420.4 L895.1 420.6 L896.6 420.8 L898.1 421 L899.6 421.4 L901.2 421.9 L902.7 422.3 L904.2 422.9 L905.7 423.4 L907.2 424 L908.7 424.5 L910.2 425 L911.7 425.4 L913.2 425.9 L914.7 426.2 L916.2 426.6 L917.7 427 L919.2 427.4 L920.8 427.9 L922.3 428.3 L923.8 428.7 L925.3 429.2 L926.8 429.5 L928.3 429.9 L929.8 430.3 L931.3 430.8 L932.8 431.1 L934.3 431.5 L935.8 432 L937.3 432.4 L938.9 432.8 L940.4 433.2 L941.9 433.6 L943.4 434.1 L944.9 434.5 L946.4 434.9 L947.9 435.3 L949.4 435.7 L950.9 436.1 L952.4 436.5 L953.9 436.9 L955.4 437.4 L956.9 437.8 L958.5 438.1 L960 438.6 L961.5 439.1 L963 439.4 L964.5 439.8 L966 440.2 L967.5 440.3 L969.3 416.5 L970.8 416.8 L972.3 416.8 L973.8 417.1 L975.3 417.2 L976.8 417.5 L978.3 417.9 L979.8 418.4 L981.3 418.8 L982.8 419.3 L984.3 419.7 L985.8 420.1 L987.3 420.7 L988.8 421.1 L990.4 421.5 L991.9 422 L993.4 422.4 L994.9 422.9 L996.4 423.4 L997.9 423.8 L999.4 424.1 L1000.9 424.5 L1002.4 425.1 L1003.9 425.6 L1005.4 426 L1006.9 426.5 L1008.4 426.9 L1009.9 427.3 L1011.4 427.8 L1012.9 428.3 L1014.4 428.7 L1015.9 429.2 L1017.4 429.6 L1018.9 430.1 L1020.4 430.5 L1021.9 431 L1023.4 431.5 L1024.9 431.8 L1026.4 432.2 L1027.9 432.7 L1029.5 433.2 L1031 433.7 L1032.5 434.2 L1034 434.5 L1035.5 435 L1037 435.5 L1038.5 435.8 L1040 436.4 L1041.5 436.8 L1043 437.2 L1044.5 437.3 L1046 437.4 L1047.5 437.4 L1049 437.5 L1050.1 424.9 L1051.6 424.7 L1053.1 424.5 L1054.6 424.3 L1056.2 424.3 L1057.7 424.7 L1059.2 425.1 L1060.7 425.6 L1062.2 426.1 L1063.7 426.4 L1065.3 427 L1066.8 427.3 L1068.3 427.7 L1069.8 428.1 L1071.3 428.6 L1072.8 429.1 L1074.4 429.4 L1075.9 430 L1077.4 430.4 L1078.9 430.8 L1080.4 431.2 L1081.9 431.8 L1083.5 432.1 L1085 432.4 L1086.5 432.9 L1088 433.3 L1089.5 433.8 L1091 434.1 L1092.6 434.7 L1094.1 435 L1095.6 435.5 L1097.1 435.9 L1098.6 436.4 L1100.1 436.8 L1101.7 437.2 L1103.2 437.7 L1104.7 438.2 L1106.2 438.5 L1107.7 439 L1109.2 439.4 L1110.8 439.8 L1112.3 440.2 L1113.8 440.2 L1115.3 440.3 L1116.4 417.3 L1117.9 417.7 L1119.4 417.9 L1120.9 418.5 L1122.5 419.2 L1124 419.7 L1125.5 420.3 L1127 420.8 L1128.5 421.5 L1130 421.9 L1131.6 422.5 L1133.1 423.2 L1134.6 423.7 L1136.1 424.3 L1137.6 424.9 L1139.1 425.4 L1140.6 426 L1142.2 426.7 L1143.7 427.2 L1145.2 427.8 L1146.7 428.3 L1148.2 428.9 L1149.7 429.4 L1151.2 430 L1152.8 430.5 L1154.3 431.1 L1155.8 431.8 L1157.3 432.4 L1158.8 432.9 L1160.3 433.4 L1161.9 434 L1163.4 434.6 L1164.9 435.2 L1166.4 435.7 L1167.9 436.4 L1169.4 437 L1170.9 437.4 L1172.5 438 L1174 438.3 L1175.5 438.7 L1177 439.3 L1178.5 439.8 L1180 440.1 L1181.5 440.6 L1183.1 441 L1184.6 441.5 L1186.1 442 L1187.6 442.4 L1189.1 442.9 L1190.6 443.3 L1192.2 443.8 L1193.7 444.3 L1195.2 444.8 L1196.7 445.2 L1198.2 445.6 L1199.7 446.2 L1201.2 446.6 L1202.8 447 L1204.3 447.5 L1205.8 447.8 L1207.3 448.4 L1208.8 448.8 L1210.3 449.3 L1211.8 449.8 L1213.4 450.3 L1214.9 450.6 L1216.4 451.1 L1217.9 451.6 L1219.4 451.4 L1220.9 451.2 L1222.5 451 L1224 451 L1225.5 450.8 L1227 450.8 L1228.6 418 L1230.1 418.5 L1231.6 418.6 L1233.1 419.2 L1234.6 419.7 L1236.1 420 L1237.6 420.5 L1239.1 420.9 L1240.6 421.4 L1242.1 421.7 L1243.6 422.3 L1245.1 422.7 L1246.7 423.1 L1248.2 423.6 L1249.7 424 L1251.2 424.5 L1252.7 424.9 L1254.2 425.4 L1255.7 425.8 L1257.2 426.3 L1258.7 426.7 L1260.2 427.1 L1261.7 427.6 L1263.2 428 L1264.7 428.5 L1266.2 428.9 L1267.7 429.4 L1269.2 429.8 L1270.7 430.2 L1272.2 430.8 L1273.7 431.1 L1275.2 431.6 L1276.7 432.1 L1278.2 432.5 L1279.8 433 L1281.3 433.3 L1282.8 433.8 L1284.3 434.2 L1285.8 434.7 L1287.3 435.2 L1288.8 435.6 L1290.3 436.2 L1291.8 436.4 L1293.3 436.6 L1294.8 436.8 L1296.4 415 L1297.9 414.9 L1299.4 414.7 L1300.9 414.7 L1302.4 414.7 L1303.9 414.5 L1305.4 414.3 L1306.9 414.3 L1308.5 414.4 L1310 414.9 L1311.5 415.4 L1313 416 L1314.5 416.5 L1316 417.2 L1317.5 417.6 L1319 418.1 L1320.5 418.6 L1322 419.1 L1323.5 419.6 L1325 420.2 L1326.5 420.8 L1328 421.3 L1329.5 421.8 L1331.1 422.2 L1332.6 422.7 L1334.1 423.4 L1335.6 423.9 L1337.1 424.3 L1338.6 424.9 L1340.1 425.5 L1341.6 426 L1343.1 426.5 L1344.6 427 L1346.1 427.6 L1347.6 428.1 L1349.1 428.6 L1350.6 429.1 L1352.1 429.5 L1353.7 430.2 L1355.2 430.7 L1356.7 431.3 L1358.2 431.8 L1359.7 432.3 L1361.2 432.8 L1362.7 433.4 L1364.2 434 L1365.7 434.4 L1367.2 435 L1368.7 435.5 L1370.2 436 L1371.7 436.6 L1373.2 437 L1374.8 437.6 L1376.3 437.9 L1377.8 438.4 L1379.3 438.8 L1380.8 439.4 L1382.3 439.7 L1383.8 440.2 L1385.3 440.6 L1386.8 441.2 L1388.3 441.7 L1389.8 442 L1391.3 442.6 L1392.8 443 L1394.3 443.5 L1395.8 443.8 L1397.4 444.2 L1398.9 444.8 L1400.4 445.2 L1401.9 445.6 L1403.4 446 L1404.9 446.3 L1406.4 446.7 L1407.9 446.9 L1409.4 447.4 L1410.9 447.6 L1412.4 447.8 L1413.9 448.1 L1415.4 448.4 L1416.9 448.7 L1418.4 449 L1420 449.3 L1421.5 449.6 L1423 449.9 L1424.5 450.2 L1426 450.6 L1427.5 450.9 L1429 451.1 L1430.5 451.3 L1432 420 L1433.5 420 L1435 420 L1436.5 420 L1438 419.9 L1439.5 420 L1441 420 L1442.5 420 L1444 419.9 L1445.5 420 L1447 420 L1448.5 420 L1450 420.1 L1451.5 420.7 L1453 421.3 L1454.5 421.9 L1456 422.4 L1457.5 422.8 L1459.1 423.3 L1460.6 424 L1462.1 424.6 L1463.6 425 L1465.1 425.6 L1466.6 426.1 L1468.1 426.6 L1469.6 427.2 L1471.1 427.7 L1472.6 428.3 L1474.1 428.7 L1475.6 429.3 L1477.1 429.8 L1478.6 430.4 L1480.1 430.8 L1481.6 431.4 L1483.1 431.9 L1484.6 432.5 L1486.1 433 L1487.6 433.5 L1489.1 434 L1490.6 434.5 L1492.1 435.1 L1493.6 435.5 L1495.1 436.1 L1496.6 436.7 L1498.1 437.2 L1499.6 437.7 L1501.1 438.2 L1502.6 438.7 L1504.1 439.2 L1505.6 439.7 L1507.1 440.3 L1508.6 440.7 L1510.1 441.2 L1511.7 441.6 L1513.2 442.2 L1514.7 442.6 L1516.2 443 L1517.7 443.6 L1519.2 444.1 L1520.7 444.6 L1522.2 445 L1523.7 445.7 L1525.2 446.1 L1526.7 446.5 L1528.2 447.1 L1529.7 447.6 L1531.2 448 L1532.7 448.5 L1534.2 449 L1535.7 449.3 L1537.2 449.7 L1538.7 450.1 L1540.2 450.5 L1541.7 450.8 L1543.2 451.2 L1544.7 451.7 L1546.2 452.1 L1547.7 452.6 L1549.2 453 L1550.7 453.3 L1552.2 453.7 L1553.7 454.2 L1555.2 454.6 L1556.7 455 L1558.2 455.4 L1559.7 455.8 L1561.2 456.3 L1562.7 456.6 L1564.3 456.9 L1565.8 457.2 L1567.3 457.3 L1568.8 457.8 L1570.3 457.9 L1571.8 458.2 L1573.3 458.4 L1574.8 458.7 L1576.3 459 L1577.8 459.2 L1579.3 459.4 L1580.8 459.5 L1582.3 459.6 L1583.8 459.8 L1585.3 460 L1586.8 460.2 L1588.3 460.3 L1589.8 460.4 L1592.1 426.1 L1595.6 424" stroke="#3450a4" stroke-width="4.5" fill="none" stroke-linejoin="round" stroke-linecap="butt"/><path clip-path="url(#clipB)" d="M156.4 758 L157.9 758 L159.4 758.4 L160.9 758.3 L162.4 757.9 L163.9 758.2 L165.4 758.2 L166.9 758.4 L168.4 758 L169.9 758.5 L171.4 758.5 L172.9 758.8 L174.4 758.6 L175.9 758.7 L177.4 758.3 L178.9 759.1 L180.4 758.4 L181.9 759 L183.4 758.8 L184.9 758.7 L186.4 758.8 L187.9 758.8 L189.4 759.1 L190.9 759 L192.4 759.4 L193.9 758.7 L195.4 759.1 L196.9 758.9 L198.4 759.3 L199.9 758.7 L201.4 759 L202.9 759.1 L204.4 758.8 L205.9 759.3 L207.4 759.1 L208.9 759.3 L210.4 759.3 L211.9 758.9 L213.4 758.9 L214.9 759.1 L216.4 759.2 L217.9 759.3 L219.4 759 L220.9 759.3 L222.4 759.7 L223.9 760.2 L225.5 760.7 L227 761.2 L228.5 762.1 L230 762.1 L231.5 762.3 L233 762.5 L234.5 762.3 L236 762.4 L237.5 762.6 L239 762.8 L240.5 762.4 L242 763 L243.5 762.7 L245 762.9 L246.5 763.1 L248 763.1 L249.5 763.3 L251 763.1 L252.5 763.2 L254 763.3 L255.5 763.1 L257 763.5 L258.5 763 L260 762.8 L261.5 763.4 L263 762.9 L264.5 762.6 L266 763.2 L267.5 762.7 L269 762.9 L270.5 762.4 L272 762.4 L273.5 762.1 L275 762 L276.5 762.1 L278 762.2 L279.5 762.3 L281 762.5 L282.5 761.8 L284 762.1 L285.5 761.7 L287 761.7 L288.5 761.4 L290 761.3 L291.5 761.4 L293 761.2 L294.5 761.4 L296 761.2 L297.5 761.5 L299 761.3 L300.5 761.4 L302 761.7 L303.5 761.7 L305 761.7 L306.5 761.8 L308 761.9 L309.5 762.2 L311 762.3 L312.5 762.3 L314 762.5 L315.5 762.3 L317 762.6 L318.5 762.4 L320 762.9 L321.5 762.5 L323 762.3 L324.5 762.2 L326 761.9 L327.5 761.7 L329 761.8 L330.5 761.5 L332 761.1 L333.5 761.2 L335 760.6 L336.5 761.1 L338 760.5 L339.5 760.4 L341 760.7 L342.5 760.5 L344 759.9 L345.5 759.9 L347 759.8 L348.5 759.7 L350 759.2 L351.5 759.2 L353 759.5 L354.5 759.4 L356 759.6 L357.5 759.6 L359 759.4 L360.5 759.6 L362.1 759.3 L363.6 759.9 L365.1 760.3 L366.6 759.9 L368.1 760.5 L369.6 760.5 L371.1 760.4 L372.6 760.5 L374.1 760.6 L375.6 760.5 L377.1 760.8 L378.6 760.9 L380.1 761.1 L381.6 761.3 L383.1 761.1 L384.6 761.8 L386.1 762 L387.6 762.5 L389.1 763.1 L390.6 763.4 L392.1 763.8 L393.6 764.3 L395.1 764.6 L396.6 764.7 L398.1 764.2 L399.6 763.9 L401.1 763.2 L402.6 763.1 L404.1 762.2 L405.6 761 L407.1 761 L408.6 760.9 L410.1 760 L411.6 759.4 L413.1 758.8 L414.6 758.7 L416.1 758.1 L417.6 757.5 L419.1 756.9 L420.6 756.6 L422.1 756.2 L423.6 755.4 L425.1 755.5 L426.6 755.1 L428.1 754.8 L429.6 754.6 L431.1 754.2 L432.6 753.3 L434.1 753.9 L435.6 753.5 L437.1 752.9 L438.6 752.6 L440.1 752.4 L441.6 751.8 L443.1 751.8 L444.6 751.4 L446.1 751.1 L447.6 750.6 L449.1 750.5 L450.6 750.7 L452.1 750.6 L453.6 750.3 L455.1 750.1 L456.6 749.7 L458.1 749.9 L459.6 749.9 L461.1 749.1 L462.6 749.5 L464.1 748.7 L465.6 748.9 L467.1 748.9 L468.6 748.4 L470.1 748.3 L471.6 748.5 L473.1 748.4 L474.6 748 L476.1 748.3 L477.6 747.8 L479.1 748.3 L480.6 747.9 L482.1 747.8 L483.6 747.8 L485.1 747.7 L486.6 747.9 L488.1 748 L489.6 747.6 L491.1 747.5 L492.6 747.3 L494.1 747.3 L495.6 747.5 L497.1 747.5 L498.6 747.5 L500.2 747.5 L501.7 747.6 L503.2 747.2 L504.7 747.3 L506.2 747.7 L507.7 747.7 L509.2 747.6 L510.7 748.4 L512.2 748.6 L513.7 749.2 L515.2 749.4 L516.7 750.4 L518.2 750.8 L519.7 751.5 L521.2 752 L522.7 752.2 L524.2 752.3 L525.7 752.6 L527.2 752.3 L528.7 752.4 L530.2 752.5 L531.7 752.7 L533.2 752.8 L534.7 753 L536.2 752.7 L537.7 753 L539.2 752.7 L540.7 753 L542.2 752.9 L543.7 753.7 L545.2 754 L546.7 754.3 L548.2 755 L549.7 755.5 L551.2 755.8 L552.7 756.4 L554.2 756.8 L555.7 758 L557.2 757.7 L558.7 757.9 L560.2 757.5 L561.7 757.5 L563.2 757.8 L564.7 757.8 L566.2 758 L567.7 757.7 L569.2 758.1 L570.7 758.3 L572.2 757.8 L573.7 758.2 L575.2 757.9 L576.7 758.2 L578.2 758.3 L579.7 758.6 L581.2 758.1 L582.7 758.3 L584.2 758.7 L585.7 758.5 L587.2 759.1 L588.7 759.2 L590.2 759.5 L591.7 760 L593.2 760.3 L594.7 760.7 L596.2 760.1 L597.7 759.8 L599.2 759.2 L600.7 758.9 L602.2 758.6 L603.7 757.8 L605.2 758.3 L606.7 757.5 L608.2 757.1 L609.7 756.9 L611.2 756.9 L612.7 756.7 L614.2 756 L615.7 755.9 L617.2 755.5 L618.7 755 L620.2 755 L621.7 755.1 L623.2 754.9 L624.7 755.5 L626.2 755.1 L627.7 755.6 L629.2 755.5 L630.7 755.6 L632.2 755.8 L633.7 756.2 L635.2 755.9 L636.8 756.3 L638.3 756.7 L639.8 756.4 L641.3 756.7 L642.8 756.9 L644.3 756.8 L645.8 757.2 L647.3 757.1 L648.8 757.5 L650.3 757.5 L651.8 757.4 L653.3 758 L654.8 757.8 L656.3 757.9 L657.8 757.9 L659.3 757.8 L660.8 757.7 L662.3 757.5 L663.8 757.4 L665.3 756.7 L666.8 756.7 L668.3 756.7 L669.8 756.3 L671.3 756.1 L672.8 756.1 L674.3 755.6 L675.8 755.4 L677.3 755.1 L678.8 755.2 L680.3 754.8 L681.8 754.2 L683.3 754.2 L684.8 753.7 L686.3 753.9 L687.8 753.5 L689.3 754 L690.8 754.7 L692.3 755.1 L693.8 756.2 L695.3 756.7 L696.8 757.4 L698.3 758.3 L699.8 758.7 L701.3 759 L702.8 759 L704.3 758.8 L705.8 759.6 L707.3 759.1 L708.8 759 L710.3 759.3 L711.8 758.5 L713.3 759.1 L714.8 759.1 L716.3 758.9 L717.8 759.2 L719.3 758.7 L720.8 759.1 L722.3 759.1 L723.8 758.2 L725.3 758 L726.8 758 L728.3 757.7 L729.8 757.2 L731.3 757.1 L732.8 756.8 L734.3 756.2 L735.8 756.1 L737.3 755.5 L738.8 755.1 L740.3 754.7 L741.8 755 L743.3 754.5 L744.8 754.6 L746.3 754.2 L747.8 754.8 L749.3 755.4 L750.8 755.6 L752.3 756.2 L753.8 756.5 L755.3 756.7 L756.8 756.8 L758.3 757.4 L759.8 758.3 L761.3 758.5 L762.8 759 L764.3 759 L765.8 759.2 L767.3 759.2 L768.8 759.6 L770.3 759.7 L771.8 760 L773.4 760.4 L774.9 760 L776.4 760.5 L777.9 760.2 L779.4 760.8 L780.9 760.7 L782.4 760.9 L783.9 761.1 L785.4 761.6 L786.9 761.4 L788.4 761.4 L789.9 761.4 L791.4 761.9 L792.9 761.8 L794.4 762 L795.9 762.3 L797.4 762.5 L798.9 762.2 L800.4 762.6 L801.9 762.8 L803.4 762.2 L804.9 762.8 L806.4 763 L807.9 762.5 L809.4 762.8 L810.9 762.5 L812.4 762.9 L813.9 762.8 L815.4 763 L816.9 762.8 L818.4 762.8 L819.9 762.9 L821.4 762.9 L822.9 763 L824.4 763.1 L825.9 763 L827.4 763.2 L828.9 763.1 L830.4 762.2 L831.9 762.4 L833.4 762 L834.9 761.6 L836.4 761.2 L837.9 761 L839.4 760.8 L840.9 760.7 L842.4 760.1 L843.9 760.2 L845.4 759.6 L846.9 759.6 L848.4 759.3 L849.9 758.6 L851.4 758.8 L852.9 758.8 L854.4 758 L855.9 758 L857.4 757.6 L858.9 757.4 L860.4 757.1 L861.9 756.7 L863.4 756.7 L864.9 756.5 L866.4 756.1 L867.9 756.1 L869.4 755.8 L870.9 755.6 L872.4 755.4 L873.9 755.9 L875.4 755.8 L876.9 755.1 L878.4 755.4 L879.9 755.5 L881.4 755.8 L882.9 755.9 L884.4 755.6 L885.9 755.7 L887.4 755.8 L888.9 755.4 L890.4 755.8 L891.9 755.6 L893.4 755.8 L894.9 755.7 L896.4 755.5 L897.9 755.6 L899.4 755.8 L900.9 755.8 L902.4 755.8 L903.9 756 L905.4 755.8 L906.9 755.6 L908.4 755.8 L909.9 755.8 L911.5 755.9 L913 756 L914.5 755.7 L916 755.6 L917.5 755.4 L919 755 L920.5 755.1 L922 754.6 L923.5 754.5 L925 754.1 L926.5 754.1 L928 753.8 L929.5 753.8 L931 753.8 L932.5 753.8 L934 753.3 L935.5 752.9 L937 752.9 L938.5 752.6 L940 752.2 L941.5 752.1 L943 751.9 L944.5 751.6 L946 751.8 L947.5 751.2 L949 751.1 L950.5 751.1 L952 750.6 L953.5 750.3 L955 750.2 L956.5 750.3 L958 750.1 L959.5 749.9 L961 749.5 L962.5 749.7 L964 750.4 L965.5 750.3 L967 750.8 L968.5 750.9 L970 751.4 L971.5 751.8 L973 752.4 L974.5 751.8 L976 753 L977.5 752.9 L979 753.4 L980.5 753.8 L982 753.8 L983.5 754.3 L985 754.7 L986.5 754.9 L988 754.6 L989.5 754.6 L991 754.4 L992.5 753.8 L994 754.2 L995.5 753.8 L997 753.1 L998.5 753.2 L1000 753.5 L1001.5 753.3 L1003 752.9 L1004.5 752.3 L1006 752.4 L1007.5 752.5 L1009 752.2 L1010.5 751.8 L1012 751.6 L1013.5 751.7 L1015 751.3 L1016.5 751.2 L1018 751.1 L1019.5 751.1 L1021 750.6 L1022.5 750.4 L1024 749.8 L1025.5 750.2 L1027 750 L1028.5 749.6 L1030 749.3 L1031.5 749.9 L1033 750.2 L1034.5 750.8 L1036 750.8 L1037.5 751 L1039 751.2 L1040.5 751.5 L1042 751.3 L1043.5 751.5 L1045 751.7 L1046.5 752.1 L1048.1 752.3 L1049.6 752.6 L1051.1 752.6 L1052.6 753 L1054.1 753 L1055.6 753.8 L1057.1 753.5 L1058.6 754.3 L1060.1 754.4 L1061.6 754 L1063.1 754.7 L1064.6 754.8 L1066.1 754.6 L1067.6 755.2 L1069.1 755.3 L1070.6 755.6 L1072.1 755.6 L1073.6 755.8 L1075.1 755.7 L1076.6 755.3 L1078.1 754.9 L1079.6 754.7 L1081.1 754.3 L1082.6 754.3 L1084.1 753.4 L1085.6 754 L1087.1 753.4 L1088.6 753.2 L1090.1 753.1 L1091.6 752.4 L1093.1 752.8 L1094.6 751.9 L1096.1 751.9 L1097.6 751.6 L1099.1 751.5 L1100.6 751 L1102.1 750.4 L1103.6 750.7 L1105.1 750.3 L1106.6 750.9 L1108.1 751 L1109.6 751.6 L1111.1 751.3 L1112.6 751.4 L1114.1 751.5 L1115.6 751.8 L1117.1 768.3 L1118.6 804.6 L1120.1 837.9 L1121.6 855.6 L1123.1 868.2 L1124.6 876.9 L1126.1 882.4 L1127.6 887.6 L1129.1 891.9 L1130.7 895.7 L1132.2 899 L1133.7 901.2 L1135.2 903.2 L1136.7 905.2 L1138.2 908.8 L1139.7 911.2 L1141.2 912.5 L1142.7 915 L1144.2 915.4 L1145.7 917 L1147.2 919.5 L1148.7 919.2 L1150.2 921.4 L1151.7 922.4 L1153.2 923.4 L1154.7 925.4 L1156.2 924.9 L1157.8 926.2 L1159.3 926.2 L1160.8 927.8 L1162.3 929.1 L1163.8 930 L1165.3 931 L1166.8 932 L1168.3 932.2 L1169.8 932.1 L1171.3 934.2 L1172.8 935.1 L1174.3 934.9 L1175.8 935.9 L1177.3 938.2 L1178.8 938.6 L1180.3 939.4 L1181.8 939.8 L1183.3 940 L1184.9 940.1 L1186.4 941.2 L1187.9 941.1 L1189.4 941.4 L1190.9 942.2 L1192.4 942.8 L1193.9 944.1 L1195.4 943.8 L1196.9 946.8 L1198.4 946.3 L1199.9 941.9 L1201.4 937 L1202.9 932.5 L1204.4 928.1 L1206 923 L1207.5 919 L1209 914.5 L1210.5 910.3 L1212 906.2 L1213.5 902.1 L1215 898.1 L1216.5 894.1 L1218 890.1 L1219.5 886.1 L1221.1 882.6 L1222.6 878.5 L1224.1 875.2 L1225.6 872 L1227.1 868.6 L1228.6 864.9 L1230.1 861.9 L1231.6 859.1 L1233.1 856.1 L1234.6 853.3 L1236.2 849.9 L1237.7 847.2 L1239.2 844.8 L1240.7 842.1 L1242.2 839.8 L1243.7 837.4 L1245.2 835.1 L1246.7 832.7 L1248.2 830.6 L1249.7 828.5 L1251.2 826.3 L1252.8 824 L1254.3 822.6 L1255.8 820.5 L1257.3 818.7 L1258.8 816.9 L1260.3 814.9 L1261.8 813.7 L1263.3 811.8 L1264.8 810.2 L1266.4 809.2 L1267.9 807.4 L1269.4 806.1 L1270.9 804.8 L1272.4 803.5 L1273.9 801.8 L1275.6 803.4 L1277.2 804.6 L1278.9 805.5 L1280.6 813 L1282 967.4 L1283.5 963.3 L1285 958.9 L1286.6 954.4 L1288.1 950.3 L1289.6 945.9 L1291.1 941.6 L1292.6 937.5 L1294.1 933.3 L1295.7 928.8 L1297.2 925 L1298.7 920.8 L1300.2 916.6 L1301.7 911.8 L1303.2 908.3 L1304.8 904.1 L1306.3 899.9 L1307.8 896.2 L1309.3 891.8 L1310.8 888.4 L1312.3 884.3 L1313.9 880.2 L1315.4 876.8 L1316.9 872.7 L1318.4 868.9 L1319.9 864.9 L1321.4 861.6 L1323 858.2 L1324.5 854.5 L1326 850.6 L1327.5 847.7 L1329 844.5 L1330.5 841.1 L1332.1 837.8 L1333.6 834.6 L1335.1 831.8 L1336.6 829.1 L1338.1 826.7 L1339.6 824.2 L1341.2 821.6 L1342.7 819.2 L1344.2 817.3 L1345.7 815.1 L1347.2 813.8 L1348.7 811.6 L1350.3 810.4 L1351.8 809 L1353.3 807.3 L1354.8 806.5 L1356.3 805.2 L1357.8 804.1 L1359.4 803.1 L1360.9 802.6 L1362.4 802 L1363.9 800.8 L1365.4 800.7 L1366.9 800 L1368.5 799.4 L1370 799 L1371.5 798.6 L1373 800.3 L1374.6 801.4 L1376.1 803.5 L1377.7 804.8 L1379.2 812 L1379.9 964.1 L1381.4 958.9 L1382.9 953.7 L1384.5 948.9 L1386 943.8 L1387.5 939.1 L1389 933.8 L1390.5 929.2 L1392 924.3 L1393.6 919.7 L1395.1 915.5 L1396.6 910.8 L1398.1 906.5 L1399.6 902.2 L1401.2 898.3 L1402.7 894.3 L1404.2 890.3 L1405.7 886.3 L1407.2 882.9 L1408.8 879.1 L1410.3 875.7 L1411.8 872.4 L1413.3 869.1 L1414.8 865.3 L1416.3 863 L1417.9 859.7 L1419.4 856.9 L1420.9 854 L1422.4 850.4 L1423.9 847.6 L1425.5 845 L1427 842.3 L1428.5 839.3 L1430 836.6 L1431.5 834.3 L1433 831.3 L1434.6 829 L1436.1 826.7 L1437.6 824 L1439.1 821.9 L1440.6 819.4 L1442.2 817 L1443.7 815.1 L1445.2 813.1 L1446.7 811.2 L1448.2 809.4 L1449.7 807.7 L1451.3 806.1 L1452.8 804.5 L1454.3 802.9 L1455.8 801.5 L1457.3 800.2 L1458.9 798.9 L1460.4 798.1 L1461.9 796.3 L1463.4 795.7 L1464.9 794.2 L1466.5 793.5 L1468 792.8 L1469.5 791.6 L1471 791 L1472.5 789.7 L1474 788.9 L1475.6 788 L1477.1 787.2 L1478.6 786.4 L1480.4 787.7 L1482.3 789.2 L1484.2 790.3 L1486 797 L1487.5 964.1 L1489 959 L1490.5 953.9 L1492 949 L1493.5 944.3 L1495 939.1 L1496.5 934.8 L1498 929.8 L1499.5 924.9 L1501 920.3 L1502.5 916 L1504 911.3 L1505.5 906.8 L1507 902.7 L1508.5 898.4 L1510 893.4 L1511.5 889.6 L1513 885.1 L1514.5 880.8 L1516 877 L1517.5 873.4 L1519 869.3 L1520.5 865.5 L1522 862.3 L1523.5 858.5 L1525 855 L1526.5 852 L1528 848.6 L1529.5 845.2 L1531 842.1 L1532.5 839.4 L1534 836.7 L1535.5 834.2 L1537 831.7 L1538.5 829.1 L1540 826.5 L1541.5 824.7 L1543.1 822.5 L1544.6 820.2 L1546.1 818.2 L1547.6 816.7 L1549.1 815 L1550.6 813.4 L1552.1 811.4 L1553.6 810.5 L1555.1 808.3 L1556.6 807.3 L1558.1 806.3 L1559.6 804.9 L1561.1 803.3 L1562.6 802.4 L1564.1 801.4 L1565.6 800.2 L1567.1 798.7 L1568.6 798.2 L1570.1 796.5 L1571.6 795.7 L1573.1 794.5 L1574.6 793.6 L1576.1 792.6 L1577.6 791.7 L1579.1 790.3 L1580.6 789.6 L1582.1 788.7 L1583.6 787.4 L1585.1 786.4 L1586.6 785.3 L1588.1 784 L1589.6 782.9 L1591.1 781.9 L1592.6 780.8 L1594.1 780 L1595.6 778.5" stroke="#ec1c24" stroke-width="4.5" fill="none" stroke-linejoin="round" stroke-linecap="butt"/><path clip-path="url(#clipB)" d="M156.4 950.7 L157.9 950.6 L159.4 950.6 L160.9 950.6 L162.4 950.6 L163.9 950.5 L165.4 950.4 L166.9 950.3 L168.4 950.3 L169.9 950.3 L171.4 950.2 L172.9 950.1 L174.4 950.1 L175.9 950.1 L177.4 950 L178.9 949.9 L180.4 949.9 L181.9 949.8 L183.4 949.8 L184.9 949.7 L186.4 949.7 L187.9 949.7 L189.4 949.6 L190.9 949.5 L192.4 949.5 L193.9 949.5 L195.4 949.3 L196.9 949.3 L198.4 949.3 L199.9 949.3 L201.4 949.1 L202.9 949.2 L204.4 949.1 L205.9 949 L207.4 949 L208.9 948.9 L210.4 948.9 L211.9 948.8 L213.4 948.8 L214.9 948.7 L216.4 948.8 L217.9 948.7 L219.4 948.5 L220.9 948.5 L222.4 948.3 L223.9 948.2 L225.5 948.1 L227 947.9 L228.5 947.8 L230 947.7 L231.5 947.6 L233 947.4 L234.5 947.3 L236 947.1 L237.5 947 L239 946.9 L240.5 946.8 L242 946.7 L243.5 946.6 L245 946.4 L246.5 946.3 L248 946.1 L249.5 945.9 L251 945.8 L252.5 945.8 L254 945.5 L255.5 945.4 L257 945.4 L258.5 945.3 L260 945.2 L261.5 945.2 L263 945.2 L264.5 945.1 L266 945 L267.5 945.1 L269 944.9 L270.5 944.9 L272 944.8 L273.5 944.9 L275 944.7 L276.5 944.7 L278 944.6 L279.5 944.6 L281 944.5 L282.5 944.5 L284 944.5 L285.5 944.4 L287 944.4 L288.5 944.3 L290 944.2 L291.5 944.2 L293 944.2 L294.5 944.1 L296 944 L297.5 943.9 L299 944 L300.5 943.9 L302 943.9 L303.5 943.8 L305 943.8 L306.5 943.7 L308 943.7 L309.5 943.6 L311 943.6 L312.5 943.5 L314 943.6 L315.5 943.5 L317 943.3 L318.5 943.4 L320 943.3 L321.5 943.3 L323 943.4 L324.5 943.4 L326 943.4 L327.5 943.4 L329 943.4 L330.5 943.5 L332 943.5 L333.5 943.5 L335 943.5 L336.5 943.6 L338 943.5 L339.5 943.6 L341 943.6 L342.5 943.6 L344 943.6 L345.5 943.7 L347 943.7 L348.5 943.7 L350 943.7 L351.5 943.8 L353 943.8 L354.5 943.8 L356 943.8 L357.5 943.9 L359 944 L360.5 943.9 L362.1 943.9 L363.6 943.8 L365.1 943.7 L366.6 943.6 L368.1 943.6 L369.6 943.5 L371.1 943.5 L372.6 943.3 L374.1 943.2 L375.6 943.3 L377.1 943.1 L378.6 942.9 L380.1 943 L381.6 942.8 L383.1 942.7 L384.6 942.7 L386.1 942.6 L387.6 942.6 L389.1 942.4 L390.6 942.3 L392.1 942.3 L393.6 942.2 L395.1 942.3 L396.6 942.4 L398.1 942.6 L399.6 942.6 L401.1 942.7 L402.6 942.7 L404.1 942.9 L405.6 943 L407.1 943.1 L408.6 943.1 L410.1 943.4 L411.6 943.4 L413.1 943.5 L414.6 943.6 L416.1 943.8 L417.6 943.7 L419.1 943.9 L420.6 944 L422.1 944.1 L423.6 944.2 L425.1 944.3 L426.6 944.4 L428.1 944.7 L429.6 944.9 L431.1 944.9 L432.6 945 L434.1 945.3 L435.6 945.3 L437.1 945.5 L438.6 945.7 L440.1 945.8 L441.6 946 L443.1 946.1 L444.6 946.2 L446.1 946.4 L447.6 946.6 L449.1 946.8 L450.6 946.9 L452.1 946.9 L453.6 947.1 L455.1 947.4 L456.6 947.4 L458.1 947.5 L459.6 947.7 L461.1 947.9 L462.6 948.1 L464.1 948.2 L465.6 948.4 L467.1 948.6 L468.6 948.6 L470.1 948.8 L471.6 949.1 L473.1 949.2 L474.6 949.3 L476.1 949.5 L477.6 949.6 L479.1 949.7 L480.6 949.9 L482.1 950 L483.6 950.2 L485.1 950.3 L486.6 950.6 L488.1 950.6 L489.6 950.8 L491.1 950.8 L492.6 950.7 L494.1 950.8 L495.6 950.6 L497.1 950.7 L498.6 950.7 L500.2 950.6 L501.7 950.6 L503.2 950.8 L504.7 950.7 L506.2 950.6 L507.7 950.7 L509.2 950.7 L510.7 950.7 L512.2 950.7 L513.7 950.7 L515.2 950.7 L516.7 950.7 L518.2 950.8 L519.7 950.7 L521.2 950.7 L522.7 950.5 L524.2 950.4 L525.7 950.3 L527.2 950.3 L528.7 950.1 L530.2 950 L531.7 949.9 L533.2 949.8 L534.7 949.7 L536.2 949.6 L537.7 949.5 L539.2 949.5 L540.7 949.4 L542.2 949.3 L543.7 949.2 L545.2 949.1 L546.7 949 L548.2 948.9 L549.7 948.8 L551.2 948.7 L552.7 948.6 L554.2 948.5 L555.7 948.5 L557.2 948.3 L558.7 948.2 L560.2 948.3 L561.7 948.1 L563.2 948.1 L564.7 947.9 L566.2 948 L567.7 947.9 L569.2 947.8 L570.7 947.7 L572.2 947.6 L573.7 947.5 L575.2 947.5 L576.7 947.3 L578.2 947.4 L579.7 947.2 L581.2 947.2 L582.7 947.1 L584.2 946.9 L585.7 947 L587.2 946.9 L588.7 946.8 L590.2 946.7 L591.7 946.6 L593.2 946.6 L594.7 946.5 L596.2 946.6 L597.7 946.8 L599.2 947 L600.7 947.1 L602.2 947.2 L603.7 947.3 L605.2 947.6 L606.7 947.6 L608.2 947.9 L609.7 948 L611.2 948.1 L612.7 948.3 L614.2 948.5 L615.7 948.6 L617.2 948.5 L618.7 948.5 L620.2 948.5 L621.7 948.3 L623.2 948.2 L624.7 948.1 L626.2 948 L627.7 948 L629.2 947.9 L630.7 947.8 L632.2 947.8 L633.7 947.6 L635.2 947.6 L636.8 947.7 L638.3 947.5 L639.8 947.4 L641.3 947.4 L642.8 947.4 L644.3 947.2 L645.8 947.1 L647.3 947 L648.8 947 L650.3 946.9 L651.8 946.8 L653.3 946.7 L654.8 946.7 L656.3 946.6 L657.8 946.6 L659.3 946.5 L660.8 946.7 L662.3 946.9 L663.8 946.9 L665.3 947 L666.8 947.1 L668.3 947.2 L669.8 947.3 L671.3 947.3 L672.8 947.5 L674.3 947.5 L675.8 947.6 L677.3 947.7 L678.8 947.8 L680.3 947.9 L681.8 948.1 L683.3 948.2 L684.8 948.2 L686.3 948.3 L687.8 948.4 L689.3 948.5 L690.8 948.5 L692.3 948.4 L693.8 948.2 L695.3 948.1 L696.8 947.9 L698.3 947.8 L699.8 947.6 L701.3 947.4 L702.8 947.3 L704.3 947.1 L705.8 947 L707.3 946.7 L708.8 946.6 L710.3 946.6 L711.8 946.4 L713.3 946.3 L714.8 946.1 L716.3 946 L717.8 945.8 L719.3 945.6 L720.8 945.5 L722.3 945.4 L723.8 945.6 L725.3 945.8 L726.8 945.9 L728.3 946.1 L729.8 946.2 L731.3 946.3 L732.8 946.5 L734.3 946.6 L735.8 946.9 L737.3 946.9 L738.8 947.2 L740.3 947.3 L741.8 947.4 L743.3 947.5 L744.8 947.3 L746.3 947.3 L747.8 947.2 L749.3 947 L750.8 946.9 L752.3 946.8 L753.8 946.7 L755.3 946.5 L756.8 946.5 L758.3 946.3 L759.8 946.1 L761.3 946.2 L762.8 946 L764.3 945.9 L765.8 945.8 L767.3 945.6 L768.8 945.5 L770.3 945.5 L771.8 945.4 L773.4 945.2 L774.9 945.1 L776.4 944.9 L777.9 944.8 L779.4 944.8 L780.9 944.7 L782.4 944.5 L783.9 944.4 L785.4 944.4 L786.9 944.3 L788.4 944.2 L789.9 944 L791.4 944 L792.9 944 L794.4 943.9 L795.9 943.8 L797.4 943.9 L798.9 943.8 L800.4 943.7 L801.9 943.6 L803.4 943.6 L804.9 943.6 L806.4 943.4 L807.9 943.4 L809.4 943.4 L810.9 943.2 L812.4 943.2 L813.9 943.1 L815.4 943.1 L816.9 943.1 L818.4 943 L819.9 943 L821.4 942.9 L822.9 942.9 L824.4 942.7 L825.9 942.6 L827.4 942.6 L828.9 942.7 L830.4 942.8 L831.9 942.9 L833.4 942.9 L834.9 943.1 L836.4 943.1 L837.9 943.3 L839.4 943.4 L840.9 943.5 L842.4 943.6 L843.9 943.8 L845.4 943.7 L846.9 943.8 L848.4 944 L849.9 944.1 L851.4 944.3 L852.9 944.3 L854.4 944.4 L855.9 944.5 L857.4 944.7 L858.9 944.7 L860.4 944.8 L861.9 944.9 L863.4 944.9 L864.9 945 L866.4 945.2 L867.9 945.3 L869.4 945.4 L870.9 945.4 L872.4 945.4 L873.9 945.4 L875.4 945.4 L876.9 945.4 L878.4 945.4 L879.9 945.4 L881.4 945.4 L882.9 945.4 L884.4 945.4 L885.9 945.4 L887.4 945.4 L888.9 945.5 L890.4 945.3 L891.9 945.3 L893.4 945.4 L894.9 945.4 L896.4 945.5 L897.9 945.4 L899.4 945.4 L900.9 945.4 L902.4 945.4 L903.9 945.4 L905.4 945.3 L906.9 945.4 L908.4 945.4 L909.9 945.4 L911.5 945.3 L913 945.4 L914.5 945.4 L916 945.4 L917.5 945.4 L919 945.4 L920.5 945.3 L922 945.4 L923.5 945.4 L925 945.4 L926.5 945.4 L928 945.5 L929.5 945.3 L931 945.3 L932.5 945.3 L934 945.5 L935.5 945.5 L937 945.6 L938.5 945.6 L940 945.7 L941.5 945.7 L943 945.9 L944.5 946 L946 945.9 L947.5 946.1 L949 946.1 L950.5 946.3 L952 946.3 L953.5 946.5 L955 946.6 L956.5 946.6 L958 946.7 L959.5 946.7 L961 946.8 L962.5 946.9 L964 947 L965.5 947 L967 947 L968.5 947.1 L970 947.3 L971.5 947.3 L973 947.4 L974.5 947.4 L976 947.5 L977.5 947.6 L979 947.7 L980.5 947.9 L982 947.8 L983.5 947.9 L985 947.9 L986.5 948.1 L988 948.2 L989.5 948.2 L991 948.3 L992.5 948.4 L994 948.4 L995.5 948.4 L997 948.6 L998.5 948.7 L1000 948.6 L1001.5 948.6 L1003 948.5 L1004.5 948.8 L1006 948.8 L1007.5 948.8 L1009 948.8 L1010.5 948.8 L1012 948.8 L1013.5 948.8 L1015 948.9 L1016.5 948.9 L1018 948.9 L1019.5 949 L1021 948.9 L1022.5 949 L1024 949 L1025.5 949 L1027 949 L1028.5 949.1 L1030 949.1 L1031.5 949.1 L1033 949.2 L1034.5 949.1 L1036 949.2 L1037.5 949.2 L1039 949.3 L1040.5 949.3 L1042 949.3 L1043.5 949.4 L1045 949.4 L1046.5 949.4 L1048.1 949.4 L1049.6 949.5 L1051.1 949.4 L1052.6 949.5 L1054.1 949.6 L1055.6 949.5 L1057.1 949.6 L1058.6 949.5 L1060.1 949.6 L1061.6 949.6 L1063.1 949.6 L1064.6 949.7 L1066.1 949.7 L1067.6 949.8 L1069.1 949.8 L1070.6 949.9 L1072.1 950 L1073.6 949.9 L1075.1 950.1 L1076.6 950.1 L1078.1 950.1 L1079.6 950.3 L1081.1 950.3 L1082.6 950.3 L1084.1 950.3 L1085.6 950.2 L1087.1 950.4 L1088.6 950.4 L1090.1 950.5 L1091.6 950.5 L1093.1 950.6 L1094.6 950.7 L1096.1 950.7 L1097.6 950.7 L1099.1 950.7 L1100.6 950.8 L1102.1 950.8 L1103.6 950.8 L1105.1 951 L1106.6 950.9 L1108.1 950.9 L1109.6 951.1 L1111.1 951.2 L1112.6 951.1 L1114.1 951.1 L1115.6 951.2 L1117.1 938 L1118.6 927.1 L1120.2 917.5 L1121.7 910.6 L1123.2 905.9 L1124.7 902.3 L1126.2 899 L1127.8 895.8 L1129.3 892.9 L1130.8 890.7 L1132.3 888.1 L1133.8 886.2 L1135.4 884.5 L1136.9 882.6 L1138.4 880.8 L1139.9 879 L1141.4 877.3 L1143 875.5 L1144.5 873.4 L1146 871.8 L1147.5 870.2 L1149 868.2 L1150.6 866.2 L1152.1 864.3 L1153.6 862.3 L1155.1 860.7 L1156.6 859.3 L1158.2 857.4 L1159.7 855.7 L1161.2 854.2 L1162.7 852.7 L1164.2 851.2 L1165.8 849.7 L1167.3 848.3 L1168.8 847.1 L1170.3 846 L1171.8 844.4 L1173.4 843.2 L1174.9 842.2 L1176.4 840.6 L1177.9 839.4 L1179.4 838.1 L1181 836.8 L1182.5 835.5 L1184 834.1 L1185.5 833.2 L1187 832 L1188.6 830.9 L1190.1 830 L1191.6 829.5 L1193.1 828.3 L1194.6 827.9 L1196.2 827.2 L1197.7 826.6 L1199.2 825.9 L1200.7 826.3 L1202.2 826.7 L1203.7 827 L1205.2 827.6 L1206.7 827.9 L1208.2 828.4 L1209.7 828.7 L1211.2 829.1 L1212.7 829.5 L1214.2 830 L1215.7 830.2 L1217.2 830.7 L1218.7 831.1 L1220.3 831.6 L1221.8 832.1 L1223.3 832.6 L1224.8 833.1 L1226.3 833.6 L1227.8 834.2 L1229.3 834.7 L1230.8 835.1 L1232.3 835.6 L1233.8 836.2 L1235.3 836.6 L1236.8 837.1 L1238.3 837.7 L1239.8 838.2 L1241.3 838.6 L1242.8 839.1 L1244.3 839.8 L1245.8 840.3 L1247.3 841 L1248.8 841.5 L1250.3 842.1 L1251.8 842.7 L1253.3 843.4 L1254.8 843.9 L1256.3 844.5 L1257.8 845.1 L1259.3 845.7 L1260.9 846.3 L1262.4 846.9 L1263.9 847.6 L1265.4 848.1 L1266.9 848.7 L1268.4 849.1 L1269.9 849.4 L1271.4 849.7 L1272.9 850.1 L1274.4 850.4 L1275.9 850.6 L1277.4 851.1 L1278.9 851.3 L1280.4 851.6 L1282 827.8 L1283.5 828 L1285 828.4 L1286.5 828.6 L1288 828.8 L1289.6 829 L1291.1 829.3 L1292.6 829.7 L1294.1 830.2 L1295.6 830.7 L1297.1 831.1 L1298.6 831.7 L1300.2 832.2 L1301.7 832.7 L1303.2 833.2 L1304.7 833.8 L1306.2 834.2 L1307.7 834.7 L1309.2 835.2 L1310.7 835.8 L1312.2 836.2 L1313.8 836.7 L1315.3 837.2 L1316.8 837.8 L1318.3 838.2 L1319.8 838.6 L1321.3 839.2 L1322.8 839.7 L1324.3 840.3 L1325.9 840.7 L1327.4 841.3 L1328.9 841.8 L1330.4 842.3 L1331.9 842.8 L1333.4 843.4 L1334.9 843.8 L1336.5 844.4 L1338 844.9 L1339.5 845.3 L1341 845.8 L1342.5 846.4 L1344 846.8 L1345.5 847.3 L1347 847.7 L1348.5 848.2 L1350.1 848.6 L1351.6 849 L1353.1 849.4 L1354.6 850 L1356.1 850.4 L1357.6 850.8 L1359.1 851.3 L1360.6 851.9 L1362.2 852.2 L1363.7 852.7 L1365.2 853.1 L1366.7 853.4 L1368.2 853.6 L1369.7 854 L1371.2 854.3 L1372.8 854.5 L1374.3 854.8 L1375.8 855.1 L1377.3 855.5 L1378.8 855.6 L1380.4 831 L1381.9 831.2 L1383.4 831.4 L1384.9 831.5 L1386.5 831.7 L1388 831.9 L1389.5 832 L1391 832.2 L1392.5 832.4 L1394 832.6 L1395.6 833.2 L1397.1 833.7 L1398.6 834.2 L1400.1 834.8 L1401.6 835.4 L1403.1 835.9 L1404.7 836.5 L1406.2 837.1 L1407.7 837.7 L1409.2 838.2 L1410.7 838.7 L1412.2 839.3 L1413.7 839.8 L1415.3 840.4 L1416.8 840.9 L1418.3 841.3 L1419.8 841.9 L1421.3 842.4 L1422.8 843 L1424.4 843.4 L1425.9 843.8 L1427.4 844.4 L1428.9 844.9 L1430.4 845.4 L1431.9 845.8 L1433.5 846.4 L1435 846.9 L1436.5 847.4 L1438 847.8 L1439.5 848.3 L1441 848.8 L1442.5 849.3 L1444.1 849.8 L1445.6 850.3 L1447.1 850.8 L1448.6 851.4 L1450.1 851.7 L1451.6 852.1 L1453.2 852.5 L1454.7 853 L1456.2 853.4 L1457.7 853.8 L1459.2 854.4 L1460.7 854.8 L1462.2 855.3 L1463.8 855.9 L1465.3 856.2 L1466.8 856.7 L1468.3 857.1 L1469.8 857.6 L1471.3 858 L1472.9 858.5 L1474.4 859 L1475.9 859.4 L1477.4 859.8 L1478.9 860.2 L1480.4 860.3 L1482 860.5 L1483.5 860.7 L1485 860.9 L1486.5 861 L1488.3 833.4 L1489.8 833.6 L1491.3 833.8 L1492.8 834 L1494.3 834 L1495.9 834.3 L1497.4 834.4 L1498.9 834.6 L1500.4 834.8 L1501.9 835 L1503.4 835.4 L1504.9 835.8 L1506.4 836.3 L1507.9 836.9 L1509.5 837.5 L1511 838.1 L1512.5 838.7 L1514 839.2 L1515.5 839.7 L1517 840.3 L1518.5 840.9 L1520 841.3 L1521.5 841.9 L1523.1 842.5 L1524.6 843 L1526.1 843.5 L1527.6 844.1 L1529.1 844.5 L1530.6 845.1 L1532.1 845.6 L1533.6 846 L1535.1 846.5 L1536.7 847 L1538.2 847.6 L1539.7 848 L1541.2 848.4 L1542.7 849.1 L1544.2 849.5 L1545.7 849.9 L1547.2 850.3 L1548.8 851 L1550.3 851.4 L1551.8 851.9 L1553.3 852.4 L1554.8 853 L1556.3 853.5 L1557.8 853.9 L1559.3 854.4 L1560.8 854.9 L1562.4 855.3 L1563.9 855.7 L1565.4 856.3 L1566.9 856.6 L1568.4 857.1 L1569.9 857.5 L1571.4 858 L1572.9 858.5 L1574.4 859 L1576 859.3 L1577.5 859.7 L1579 860.3 L1580.5 860.7 L1582 861.2 L1583.5 861.6 L1585 862.1 L1586.5 862.5 L1588 863 L1589.6 863.4 L1591.1 863.9 L1592.6 864.4 L1594.1 864.7 L1595.6 865.2" stroke="#3450a4" stroke-width="4.5" fill="none" stroke-linejoin="round" stroke-linecap="butt"/><path clip-path="url(#clipB)" d="M156.4 1047.1 L157.9 1047.7 L159.4 1047 L160.9 1047.7 L162.4 1048.1 L163.9 1048.4 L165.4 1048.4 L166.9 1048.8 L168.5 1048.8 L170 1049 L171.5 1049.1 L173 1049.1 L174.5 1049.3 L176 1049.8 L177.5 1049.8 L179 1050.1 L180.5 1050 L182 1050 L183.5 1049.6 L185 1049.8 L186.5 1049.3 L188 1049.2 L189.5 1049.3 L191 1049.3 L192.6 1048.8 L194.1 1048.6 L195.6 1048.8 L197.1 1048.4 L198.6 1048.6 L200.1 1048.3 L201.6 1048 L203.1 1047.8 L204.6 1047.8 L206.1 1047.3 L207.6 1047.4 L209.1 1046.9 L210.6 1046.7 L212.1 1046.4 L213.6 1046.5 L215.1 1046.2 L216.7 1045.8 L218.2 1046.2 L219.7 1045.5 L221.2 1045.4 L222.7 1045.3 L224.2 1045.4 L225.7 1045 L227.2 1045.2 L228.7 1045.1 L230.2 1044.8 L231.7 1045.2 L233.2 1045.3 L234.7 1045 L236.2 1045.1 L237.7 1044.8 L239.2 1044.8 L240.8 1045.1 L242.3 1045.3 L243.8 1045.1 L245.3 1045.2 L246.8 1045.4 L248.3 1045.2 L249.8 1045.3 L251.3 1045.5 L252.8 1045 L254.3 1045.4 L255.8 1044.9 L257.3 1045.4 L258.8 1045.3 L260.3 1045.2 L261.8 1045.1 L263.3 1045.3 L264.9 1045.2 L266.4 1045.4 L267.9 1045.2 L269.4 1045.5 L270.9 1045.2 L272.4 1045.3 L273.9 1045.3 L275.4 1045.7 L276.9 1045.1 L278.4 1045.4 L279.9 1045.7 L281.4 1045.3 L282.9 1045.2 L284.4 1045.5 L285.9 1045.4 L287.4 1045.7 L289 1045.3 L290.5 1045.6 L292 1045.7 L293.5 1045.8 L295 1045.4 L296.5 1045.9 L298 1045.4 L299.5 1045.1 L301 1044.9 L302.5 1044.9 L304 1044.6 L305.5 1044.5 L307 1044.2 L308.5 1044 L310 1043.6 L311.5 1043.9 L313.1 1043.3 L314.6 1043.6 L316.1 1044 L317.6 1044.1 L319.1 1044 L320.6 1044.5 L322.1 1044.7 L323.6 1044.6 L325.1 1045.4 L326.6 1045.7 L328.1 1045.8 L329.6 1045.7 L331.1 1046 L332.6 1045.9 L334.1 1046.4 L335.6 1046.4 L337.2 1046.8 L338.7 1046.8 L340.2 1047.3 L341.7 1047.2 L343.2 1047.3 L344.7 1046.7 L346.2 1046.6 L347.7 1047.1 L349.2 1046.8 L350.7 1047 L352.2 1047 L353.7 1046.9 L355.2 1047 L356.7 1046.9 L358.2 1046.9 L359.7 1046.6 L361.3 1047.1 L362.8 1046.7 L364.3 1046.9 L365.8 1046.7 L367.3 1046.9 L368.8 1046.6 L370.3 1046.6 L371.8 1046.6 L373.3 1046.4 L374.8 1046.4 L376.3 1046.4 L377.8 1046.4 L379.3 1046.2 L380.8 1046.7 L382.3 1045.8 L383.8 1045.7 L385.4 1046 L386.9 1045.1 L388.4 1045.1 L389.9 1045 L391.4 1045.2 L392.9 1045.4 L394.4 1045.7 L395.9 1046.4 L397.4 1061.3 L398.9 1091.7 L400.4 1132.3 L402 1150.1 L403.5 1158.9 L405 1165.1 L406.5 1170.8 L408 1175.8 L409.5 1180.6 L411.1 1185.3 L412.6 1187 L414.1 1189.9 L415.6 1193 L417.1 1195.2 L418.6 1197.9 L420.2 1200 L421.7 1201.8 L423.2 1203.2 L424.7 1205.6 L426.2 1207.7 L427.7 1208.8 L429.3 1211.2 L430.8 1212.3 L432.3 1213.1 L433.8 1215.6 L435.3 1215.3 L436.8 1218.1 L438.4 1219.9 L439.9 1219.9 L441.4 1221.2 L442.9 1222.9 L444.4 1224.2 L445.9 1224.5 L447.5 1225.3 L449 1226.5 L450.5 1226.7 L452 1226.4 L453.5 1227.5 L455 1227.9 L456.6 1227.2 L458.1 1228.6 L459.6 1228.1 L461.1 1229.2 L462.6 1228.2 L464.1 1228.9 L465.7 1229.1 L467.2 1231.2 L468.7 1231.8 L470.2 1232.5 L471.7 1233 L473.2 1233.2 L474.8 1233.7 L476.3 1232.6 L477.8 1234.4 L479.3 1234.6 L480.8 1230.4 L482.3 1226.9 L483.8 1222.7 L485.3 1218.5 L486.8 1214.9 L488.4 1210.9 L489.9 1206.8 L491.4 1203.1 L492.9 1199.2 L494.4 1195.1 L495.9 1191.5 L497.4 1188.2 L498.9 1184.5 L500.4 1180.9 L501.9 1177 L503.5 1173.6 L505 1170.3 L506.5 1167.1 L508 1163.4 L509.5 1160.1 L511 1157.3 L512.5 1153.9 L514 1150.7 L515.5 1147.6 L517 1144.7 L518.6 1142.2 L520.1 1139.2 L521.6 1136.2 L523.1 1133.3 L524.6 1131.2 L526.1 1128.6 L527.6 1126 L529.1 1123.5 L530.6 1120.5 L532.1 1118.3 L533.7 1116.4 L535.2 1114 L536.7 1112 L538.2 1109.8 L539.7 1107.7 L541.2 1106 L542.7 1104 L544.2 1102.3 L545.7 1100.6 L547.2 1098.9 L548.8 1097.5 L550.3 1096 L551.8 1094 L553.3 1092.9 L554.8 1091.5 L556.3 1090.5 L557.8 1088.9 L559.3 1088.1 L560.8 1087 L562.3 1086 L563.9 1084.7 L565.4 1083.9 L566.9 1082.8 L568.4 1082.3 L569.9 1081.6 L571.4 1080.3 L572.9 1079.7 L574.4 1079.1 L575.9 1078.3 L577.4 1078.1 L579 1077.1 L580.5 1076.6 L582 1075.7 L583.5 1075.6 L585 1074.7 L586.5 1074.1 L588.1 1074.7 L589.7 1075.8 L591.2 1076.9 L592.8 1078.3 L594.4 1082 L596 1086.1 L597.6 1262.4 L599.1 1256.9 L600.7 1251.5 L602.2 1246 L603.7 1240.5 L605.3 1235.8 L606.8 1231.5 L608.4 1226.4 L609.9 1222.5 L611.4 1218.2 L613 1213.6 L614.5 1209.7 L616 1205.4 L617.6 1201.8 L619.1 1197.6 L620.6 1193.7 L622.2 1190 L623.7 1186.2 L625.2 1182.4 L626.8 1178.8 L628.3 1175 L629.9 1171.2 L631.4 1167.8 L632.9 1164.3 L634.5 1160 L636 1155.9 L637.5 1151.9 L639.1 1148.4 L640.6 1144.4 L642.1 1140.7 L643.7 1136.7 L645.2 1133.5 L646.7 1130.5 L648.3 1128.3 L649.8 1125.8 L651.4 1123.4 L652.9 1122.4 L654.4 1121.1 L656 1120 L657.5 1118.6 L659.2 1119.8 L660.8 1120.8 L662.5 1128 L664.6 1222.7 L666.1 1219.3 L667.7 1216.1 L669.2 1213 L670.7 1209.7 L672.2 1206.2 L673.8 1203.1 L675.3 1199.3 L676.8 1196 L678.4 1192.7 L679.9 1189.4 L681.4 1185.8 L682.9 1182.6 L684.5 1179 L686 1175.2 L687.5 1172 L689.1 1168.4 L690.6 1164.9 L692.1 1161.5 L693.6 1158.7 L695.2 1155.3 L696.7 1151.6 L698.2 1149 L699.7 1145.9 L701.3 1142.6 L702.8 1139.9 L704.3 1137.4 L705.9 1134.4 L707.4 1131.8 L708.9 1129.5 L710.4 1126.7 L712 1124.4 L713.5 1122.2 L715 1120.4 L716.6 1118.6 L718.1 1116.3 L719.6 1114.4 L721.1 1112.8 L722.7 1110.9 L724.2 1109.1 L725.8 1109.9 L727.4 1110.7 L729 1111.9 L730.6 1118 L732.1 1246.5 L733.6 1242.6 L735.1 1238.7 L736.7 1234.1 L738.2 1229.5 L739.7 1225.8 L741.2 1222.1 L742.7 1217.6 L744.3 1214 L745.8 1210.3 L747.3 1206.4 L748.8 1202.6 L750.3 1199.2 L751.8 1195.1 L753.4 1191.3 L754.9 1187.8 L756.4 1183.4 L757.9 1179.3 L759.4 1175.9 L761 1172.3 L762.5 1168 L764 1164.3 L765.5 1160.2 L767 1156.6 L768.6 1153.6 L770.1 1150.1 L771.6 1146.6 L773.1 1143.1 L774.6 1139.9 L776.2 1137 L777.7 1134.2 L779.2 1131.8 L780.7 1129 L782.2 1126.6 L783.8 1124.5 L785.3 1122.2 L786.8 1120 L788.3 1118.1 L789.8 1116.2 L791.3 1114 L792.9 1112.7 L794.4 1111 L795.9 1109.5 L797.4 1108.1 L798.9 1106.5 L800.5 1105.5 L802 1103.8 L803.5 1102.5 L805 1101.1 L806.5 1099.6 L808.1 1098.4 L809.6 1097.1 L811.1 1095.7 L812.6 1094 L814.1 1092.6 L815.7 1091.3 L817.2 1090.1 L818.7 1088.4 L820.2 1087.4 L821.7 1086.1 L823.2 1085 L824.8 1083.7 L826.3 1082.9 L827.8 1081.8 L829.3 1080.8 L830.8 1079.4 L832.4 1078.4 L833.9 1077.4 L835.4 1076.5 L837.1 1077.2 L838.8 1078.4 L840.6 1079.5 L842.3 1081.3 L844 1087 L845.7 1252.8 L847.2 1248.5 L848.7 1243.7 L850.3 1239.7 L851.8 1235.2 L853.3 1230.8 L854.8 1226.1 L856.3 1222 L857.9 1218.2 L859.4 1213.9 L860.9 1209.8 L862.4 1205.6 L863.9 1201.9 L865.5 1197.6 L867 1193.9 L868.5 1189.8 L870 1185.7 L871.5 1182.3 L873.1 1178 L874.6 1174.3 L876.1 1170.8 L877.6 1166.8 L879.1 1163.1 L880.7 1159.9 L882.2 1156.4 L883.7 1153 L885.2 1149.8 L886.8 1146.9 L888.3 1143.1 L889.8 1140.6 L891.3 1137.1 L892.8 1134.2 L894.4 1130.8 L895.9 1128.4 L897.4 1126.1 L898.9 1123.7 L900.4 1121 L902 1119 L903.5 1116.9 L905 1114.5 L906.5 1112.3 L908 1110.6 L909.6 1108.9 L911.1 1107.3 L912.6 1105.7 L914.1 1103.8 L915.6 1102.5 L917.2 1101 L918.7 1099.6 L920.2 1098.5 L921.7 1097.3 L923.2 1095.7 L924.8 1094.5 L926.3 1093.4 L927.8 1092.4 L929.5 1094.4 L931.3 1096.3 L933 1098.2 L934.8 1106 L936.2 1251.2 L937.7 1246.1 L939.2 1240.3 L940.8 1234.9 L942.3 1229.5 L943.8 1224.3 L945.3 1219.8 L946.9 1214.5 L948.4 1209.7 L949.9 1205.2 L951.4 1201 L952.9 1196.5 L954.5 1192.3 L956 1188.2 L957.5 1184.1 L959 1180.5 L960.5 1176.3 L962.1 1173.4 L963.6 1168.9 L965.1 1165.7 L966.6 1162.6 L968.2 1159.5 L969.7 1156.3 L971.2 1153.5 L972.7 1150.7 L974.2 1148.1 L975.8 1145.7 L977.3 1143.3 L978.8 1141 L980.3 1138.9 L981.8 1137 L983.4 1134.9 L984.9 1133.1 L986.4 1131.5 L987.9 1129.5 L989.5 1128 L991 1126.1 L992.5 1124.7 L994 1123.3 L995.5 1121.9 L997.1 1120.6 L998.6 1119.4 L1000.1 1117.8 L1001.8 1120 L1003.5 1121.7 L1005.2 1130 L1007.2 1216.3 L1008.7 1214.3 L1010.2 1212.3 L1011.7 1210.3 L1013.2 1208.3 L1014.7 1206 L1016.2 1203.7 L1017.8 1200.7 L1019.3 1198.9 L1020.8 1196.7 L1022.3 1194.1 L1023.8 1191.3 L1025.3 1189 L1026.8 1185.9 L1028.3 1183.2 L1029.8 1180.5 L1031.3 1177.4 L1032.8 1174.6 L1034.3 1171.6 L1035.9 1168.4 L1037.4 1165.5 L1038.9 1162.6 L1040.4 1159.6 L1041.9 1157.1 L1043.4 1154 L1044.9 1151.1 L1046.4 1148.3 L1047.9 1145.9 L1049.4 1143.7 L1050.9 1140.9 L1052.4 1138.8 L1054 1136.4 L1055.5 1134.1 L1057 1131.9 L1058.5 1130.3 L1060 1128 L1061.5 1126.7 L1063 1124.6 L1064.5 1123.5 L1066 1121.8 L1067.5 1120.5 L1069 1119.4 L1070.5 1117.8 L1072.1 1116.9 L1073.6 1115.8 L1075.1 1115 L1076.6 1114.2 L1078.1 1113.2 L1079.6 1112.4 L1081.1 1111.5 L1082.6 1113 L1084.2 1114.6 L1085.8 1116.2 L1087.3 1124 L1089 1238.5 L1090.5 1234.9 L1092 1231.3 L1093.5 1227.9 L1095 1223.6 L1096.6 1220.5 L1098.1 1217 L1099.6 1213.1 L1101.1 1209.6 L1102.6 1205.8 L1104.1 1202 L1105.6 1198.5 L1107.1 1194.3 L1108.6 1190.3 L1110.1 1187.1 L1111.7 1183.2 L1113.2 1179.4 L1114.7 1175.6 L1116.2 1171.9 L1117.7 1167.8 L1119.2 1164.2 L1120.7 1160.4 L1122.2 1156.4 L1123.7 1152.9 L1125.2 1149.3 L1126.8 1145.5 L1128.3 1142.3 L1129.8 1138.6 L1131.3 1135.4 L1132.8 1132.2 L1134.3 1128.4 L1135.8 1125.3 L1137.3 1122.6 L1138.8 1119.4 L1140.4 1116.7 L1141.9 1114.2 L1143.4 1111 L1144.9 1108.7 L1146.4 1106 L1147.9 1103.5 L1149.4 1101.4 L1150.9 1099.1 L1152.4 1097.2 L1153.9 1095 L1155.5 1093.1 L1157 1091.1 L1158.5 1088.9 L1160 1087.4 L1161.5 1085.7 L1163 1084.4 L1164.5 1082.5 L1166 1081.2 L1167.5 1079.7 L1169 1078 L1170.6 1077 L1172.1 1075.9 L1173.6 1074.4 L1175.1 1073.5 L1176.6 1072.2 L1178.1 1071.1 L1179.6 1069.8 L1181.1 1068.8 L1182.6 1067.9 L1184.2 1066.8 L1185.7 1065.5 L1187.2 1064.8 L1188.7 1063.9 L1190.2 1063.2 L1191.7 1062.3 L1193.2 1061.1 L1194.7 1060.6 L1196.2 1059.3 L1197.7 1058.8 L1199.3 1058 L1200.8 1057.8 L1202.3 1057 L1203.8 1056.4 L1205.3 1055.6 L1206.8 1055.5 L1208.3 1054.7 L1209.8 1054.4 L1211.3 1054.1 L1212.8 1053.5 L1214.4 1053.3 L1215.9 1052.4 L1217.4 1052.6 L1218.9 1051.9 L1220.4 1051.9 L1221.9 1052 L1223.5 1052.4 L1225 1051.4 L1226.6 1052 L1228.1 1051.8 L1229.6 1052.1 L1231.2 1052 L1232.7 1052.2 L1234.2 1053.1 L1235.8 1054.1 L1237.3 1055.4 L1238.8 1056 L1240.4 1058.3 L1241.9 1060.1 L1243.5 1062.7 L1245 1071.8 L1247 1248.1 L1248.5 1242.8 L1250 1237.8 L1251.6 1232.7 L1253.1 1227.4 L1254.6 1222.7 L1256.2 1218 L1257.7 1213.7 L1259.2 1208.8 L1260.7 1204.9 L1262.2 1200.6 L1263.8 1196.3 L1265.3 1192.5 L1266.8 1188.5 L1268.3 1184.9 L1269.9 1180.6 L1271.4 1177.1 L1272.9 1172.9 L1274.5 1169.3 L1276 1165 L1277.5 1161.4 L1279 1157.8 L1280.5 1153.9 L1282.1 1150.1 L1283.6 1146.8 L1285.1 1143.5 L1286.6 1140 L1288.2 1136.7 L1289.7 1133.6 L1291.2 1130.4 L1292.8 1127.8 L1294.3 1125 L1295.8 1121.9 L1297.3 1119.8 L1298.8 1117.4 L1300.4 1115.1 L1301.9 1113 L1303.4 1111.2 L1304.9 1109.4 L1306.5 1107.6 L1308 1105.6 L1309.5 1104.3 L1311 1102.2 L1312.6 1101.2 L1314.1 1099.6 L1315.8 1099.4 L1317.4 1099.9 L1319.1 1099.9 L1320.8 1100 L1322.5 1101.3 L1324.1 1103.3 L1325.8 1112 L1327.1 1235.4 L1328.6 1231.1 L1330.1 1227.6 L1331.6 1222.7 L1333.1 1218.9 L1334.6 1214.9 L1336.1 1211 L1337.6 1206.7 L1339.1 1202.8 L1340.6 1199.3 L1342.1 1195.3 L1343.6 1191.7 L1345.1 1187.5 L1346.6 1184.1 L1348.1 1180.7 L1349.6 1177 L1351.1 1173.2 L1352.6 1170 L1354.1 1166.2 L1355.6 1163.1 L1357.1 1160.1 L1358.6 1156.8 L1360.1 1153.5 L1361.6 1150.4 L1363.1 1146.9 L1364.6 1144 L1366.1 1141.4 L1367.6 1138.7 L1369.1 1135.4 L1370.6 1132.3 L1372.2 1129.6 L1373.7 1127.3 L1375.2 1124.6 L1376.7 1121.6 L1378.2 1119.4 L1379.7 1117.2 L1381.2 1114.8 L1382.7 1112.1 L1384.2 1109.9 L1385.7 1107.8 L1387.2 1105.4 L1388.7 1103.2 L1390.2 1101.4 L1391.7 1099.9 L1393.2 1098.1 L1394.7 1096.2 L1396.2 1094.2 L1397.7 1092.4 L1399.2 1091.1 L1400.7 1089.8 L1402.2 1088.6 L1403.7 1086.9 L1405.2 1085.8 L1406.7 1084.3 L1408.2 1083.1 L1409.7 1082.4 L1411.2 1081.1 L1412.7 1080.1 L1414.2 1078.8 L1415.7 1078.4 L1417.2 1077.3 L1418.8 1077.8 L1420.4 1078.8 L1422 1080 L1423.5 1080.6 L1425.1 1083.6 L1426.7 1087.6 L1428.3 1248.5 L1429.8 1244.6 L1431.3 1239.8 L1432.8 1236.2 L1434.4 1231.8 L1435.9 1227.4 L1437.4 1223.7 L1438.9 1219.6 L1440.4 1215.5 L1441.9 1211.6 L1443.5 1207.1 L1445 1203.1 L1446.5 1199.3 L1448 1195.6 L1449.5 1191.6 L1451 1187.5 L1452.6 1183.4 L1454.1 1179.6 L1455.6 1176 L1457.1 1171.8 L1458.6 1168 L1460.1 1164.5 L1461.7 1160.8 L1463.2 1157.1 L1464.7 1153.8 L1466.2 1150 L1467.7 1146.4 L1469.2 1142.8 L1470.8 1140.2 L1472.3 1136.7 L1473.8 1133.7 L1475.3 1130.7 L1476.8 1127.9 L1478.3 1125 L1479.8 1122.2 L1481.4 1119.4 L1482.9 1116.7 L1484.4 1114.3 L1485.9 1111.7 L1487.4 1109.6 L1488.9 1107.6 L1490.5 1105.4 L1492 1103.3 L1493.5 1101.2 L1495 1099.4 L1496.5 1097.7 L1498 1096.2 L1499.6 1094.9 L1501.1 1093.5 L1502.6 1092.2 L1504.1 1091.1 L1505.6 1089.6 L1507.1 1088.8 L1508.7 1088 L1510.2 1087.1 L1511.7 1085.9 L1513.2 1085.2 L1515.1 1087 L1517.1 1088.6 L1519 1096 L1521.1 1243.2 L1522.6 1239 L1524.1 1235 L1525.6 1230.9 L1527.1 1226.8 L1528.6 1222.5 L1530.1 1218.6 L1531.7 1214.2 L1533.2 1210.2 L1534.7 1206.1 L1536.2 1201.7 L1537.7 1197.8 L1539.2 1193.9 L1540.7 1190.1 L1542.2 1186.2 L1543.7 1182.4 L1545.2 1178.3 L1546.7 1174.4 L1548.2 1170.8 L1549.7 1166.8 L1551.2 1163.5 L1552.8 1159.8 L1554.3 1156.7 L1555.8 1153.3 L1557.3 1150.2 L1558.8 1147.7 L1560.3 1144.7 L1561.8 1142.3 L1563.3 1139.3 L1564.8 1136.9 L1566.3 1134.5 L1567.8 1132.6 L1569.3 1130.3 L1570.8 1128.9 L1572.4 1127 L1573.9 1125.3 L1575.4 1123.7 L1576.9 1122.4 L1578.4 1121.2 L1579.9 1119.9 L1581.4 1118.6 L1583.1 1119.7 L1584.9 1121.1 L1586.6 1128 L1588.6 1228.9 L1590.3 1224.2 L1592.1 1219.8 L1593.8 1215.1 L1595.6 1211" stroke="#ec1c24" stroke-width="4.5" fill="none" stroke-linejoin="round" stroke-linecap="butt"/><path clip-path="url(#clipB)" d="M156.4 1238.7 L157.9 1238.5 L159.4 1238.3 L160.9 1238.1 L162.4 1237.9 L163.9 1237.7 L165.4 1237.6 L166.9 1237.4 L168.5 1237.2 L170 1237 L171.5 1236.8 L173 1236.6 L174.5 1236.4 L176 1236.2 L177.5 1236 L179 1235.9 L180.5 1235.6 L182 1235.5 L183.5 1235.4 L185 1235.5 L186.5 1235.5 L188 1235.6 L189.5 1235.6 L191 1235.7 L192.6 1235.7 L194.1 1235.7 L195.6 1235.7 L197.1 1235.8 L198.6 1235.8 L200.1 1235.9 L201.6 1235.8 L203.1 1235.9 L204.6 1235.9 L206.1 1236 L207.6 1236.1 L209.1 1236 L210.6 1236.1 L212.1 1236.2 L213.6 1236.1 L215.1 1236.2 L216.7 1236.2 L218.2 1236.3 L219.7 1236.2 L221.2 1236.3 L222.7 1236.4 L224.2 1236.3 L225.7 1236.5 L227.2 1236.4 L228.7 1236.4 L230.2 1236.6 L231.7 1236.6 L233.2 1236.5 L234.7 1236.6 L236.2 1236.6 L237.7 1236.6 L239.2 1236.6 L240.8 1236.6 L242.3 1236.6 L243.8 1236.7 L245.3 1236.6 L246.8 1236.6 L248.3 1236.6 L249.8 1236.6 L251.3 1236.5 L252.8 1236.6 L254.3 1236.6 L255.8 1236.6 L257.3 1236.7 L258.8 1236.5 L260.3 1236.6 L261.8 1236.6 L263.3 1236.5 L264.9 1236.6 L266.4 1236.6 L267.9 1236.7 L269.4 1236.6 L270.9 1236.6 L272.4 1236.6 L273.9 1236.6 L275.4 1236.7 L276.9 1236.6 L278.4 1236.6 L279.9 1236.6 L281.4 1236.6 L282.9 1236.6 L284.4 1236.5 L285.9 1236.6 L287.4 1236.6 L289 1236.7 L290.5 1236.6 L292 1236.6 L293.5 1236.6 L295 1236.6 L296.5 1236.7 L298 1236.6 L299.5 1236.6 L301 1236.5 L302.5 1236.6 L304 1236.5 L305.5 1236.5 L307 1236.6 L308.5 1236.6 L310 1236.6 L311.5 1236.7 L313.1 1236.6 L314.6 1236.6 L316.1 1236.6 L317.6 1236.6 L319.1 1236.6 L320.6 1236.6 L322.1 1236.6 L323.6 1236.6 L325.1 1236.5 L326.6 1236.6 L328.1 1236.6 L329.6 1236.5 L331.1 1236.6 L332.6 1236.5 L334.1 1236.6 L335.6 1236.6 L337.2 1236.6 L338.7 1236.5 L340.2 1236.5 L341.7 1236.4 L343.2 1236.5 L344.7 1236.6 L346.2 1236.4 L347.7 1236.6 L349.2 1236.4 L350.7 1236.6 L352.2 1236.5 L353.7 1236.5 L355.2 1236.5 L356.7 1236.4 L358.2 1236.6 L359.7 1236.6 L361.3 1236.5 L362.8 1236.5 L364.3 1236.5 L365.8 1236.4 L367.3 1236.5 L368.8 1236.4 L370.3 1236.5 L371.8 1236.4 L373.3 1236.4 L374.8 1236.4 L376.3 1236.5 L377.8 1236.4 L379.3 1236.5 L380.8 1236.4 L382.3 1236.4 L383.8 1236.4 L385.4 1236.4 L386.9 1236.4 L388.4 1236.4 L389.9 1236.4 L391.4 1236.3 L392.9 1236.4 L394.4 1236.5 L395.9 1236.4 L397.4 1223.4 L398.9 1212.8 L400.4 1204 L402 1199 L403.5 1195.1 L405 1191.5 L406.5 1188.5 L408 1185.2 L409.5 1182.2 L411.1 1179.3 L412.6 1177 L414.1 1174.6 L415.6 1172.5 L417.1 1170.3 L418.6 1168.3 L420.2 1166.7 L421.7 1164.5 L423.2 1162.8 L424.7 1160.9 L426.2 1159.1 L427.7 1157.3 L429.3 1155.6 L430.8 1153.6 L432.3 1151.8 L433.8 1150 L435.3 1148.5 L436.8 1146.8 L438.4 1145.1 L439.9 1143.4 L441.4 1141.8 L442.9 1140.8 L444.4 1139.4 L445.9 1138 L447.5 1136.9 L449 1135.8 L450.5 1134.6 L452 1133.4 L453.5 1132 L455 1131 L456.6 1129.4 L458.1 1128.5 L459.6 1127.3 L461.1 1126.3 L462.6 1125.4 L464.1 1124.3 L465.7 1122.9 L467.2 1121.9 L468.7 1121.3 L470.2 1120 L471.7 1119.2 L473.2 1118.4 L474.8 1117.1 L476.3 1116.1 L477.8 1115.6 L479.3 1114.7 L480.8 1115.1 L482.3 1115.4 L483.9 1115.8 L485.4 1116.3 L486.9 1116.6 L488.4 1117 L489.9 1117.5 L491.5 1117.9 L493 1118.4 L494.5 1118.7 L496 1119.2 L497.5 1119.7 L499.1 1120.1 L500.6 1120.6 L502.1 1121.1 L503.6 1121.6 L505.1 1122 L506.7 1122.6 L508.2 1122.9 L509.7 1123.4 L511.2 1123.9 L512.7 1124.3 L514.2 1124.7 L515.8 1125.2 L517.3 1125.7 L518.8 1126.2 L520.3 1126.6 L521.8 1127.1 L523.4 1127.6 L524.9 1128.1 L526.4 1128.5 L527.9 1129.1 L529.4 1129.6 L531 1130.1 L532.5 1130.7 L534 1131.3 L535.5 1131.8 L537 1132.3 L538.6 1132.8 L540.1 1133.5 L541.6 1133.9 L543.1 1134.5 L544.6 1135 L546.2 1135.5 L547.7 1136.1 L549.2 1136.6 L550.7 1137.1 L552.2 1137.6 L553.8 1138.2 L555.3 1138.6 L556.8 1139.2 L558.3 1139.5 L559.8 1140 L561.4 1140.5 L562.9 1140.9 L564.4 1141.5 L565.9 1141.9 L567.4 1142.3 L568.9 1142.8 L570.5 1143.2 L572 1143.5 L573.5 1144.1 L575 1144.6 L576.5 1145 L578.1 1145.4 L579.6 1145.9 L581.1 1146.4 L582.6 1146.9 L584.1 1147.3 L585.7 1147.7 L587.2 1148.1 L588.7 1148.2 L590.2 1148.3 L591.7 1148.4 L593.3 1148.7 L594.8 1148.8 L596.3 1149 L597.6 1119.4 L599.1 1119.8 L600.7 1120.2 L602.2 1120.5 L603.7 1120.9 L605.2 1121.3 L606.8 1121.8 L608.3 1122.1 L609.8 1122.5 L611.4 1122.9 L612.9 1123.3 L614.4 1123.9 L615.9 1124.3 L617.5 1124.7 L619 1125.1 L620.5 1125.5 L622 1126 L623.6 1126.5 L625.1 1126.9 L626.6 1127.4 L628.2 1127.8 L629.7 1128.3 L631.2 1128.6 L632.7 1129.2 L634.3 1129.6 L635.8 1130.1 L637.3 1130.5 L638.9 1131 L640.4 1131.5 L641.9 1131.8 L643.4 1132.1 L645 1132.6 L646.5 1132.9 L648 1133.3 L649.5 1133.7 L651.1 1134.2 L652.6 1134.5 L654.1 1134.9 L655.7 1135.2 L657.2 1135.7 L658.7 1136 L660.2 1136.4 L661.8 1136.9 L663.3 1137 L664.6 1121 L666.1 1121.2 L667.6 1121.2 L669.1 1121.4 L670.6 1121.6 L672.1 1121.6 L673.6 1121.7 L675.1 1121.8 L676.7 1122.3 L678.2 1122.9 L679.7 1123.3 L681.2 1123.7 L682.7 1124.2 L684.2 1124.6 L685.7 1125.2 L687.2 1125.6 L688.7 1126.1 L690.2 1126.6 L691.7 1127 L693.2 1127.5 L694.7 1127.9 L696.2 1128.4 L697.8 1128.9 L699.3 1129.4 L700.8 1129.8 L702.3 1130.3 L703.8 1130.6 L705.3 1131.2 L706.8 1131.6 L708.3 1132.1 L709.8 1132.6 L711.3 1133.1 L712.8 1133.5 L714.3 1133.9 L715.8 1134.4 L717.3 1134.9 L718.8 1135.4 L720.4 1136 L721.9 1136.3 L723.4 1136.7 L724.9 1137.2 L726.4 1137.7 L727.9 1138.2 L729.4 1138.5 L730.9 1138.7 L732.1 1117 L733.6 1117.1 L735.1 1117.2 L736.6 1117.3 L738.1 1117.3 L739.6 1117.4 L741.1 1117.4 L742.6 1117.5 L744.1 1117.6 L745.6 1117.6 L747.1 1117.7 L748.6 1118.1 L750.1 1118.6 L751.6 1119.1 L753.1 1119.7 L754.6 1120.1 L756.1 1120.7 L757.6 1121.3 L759.1 1121.9 L760.6 1122.4 L762.1 1123 L763.6 1123.5 L765.1 1124 L766.6 1124.5 L768.1 1125.2 L769.6 1125.7 L771.1 1126.1 L772.6 1126.8 L774.1 1127.3 L775.6 1127.9 L777.1 1128.4 L778.6 1128.9 L780.1 1129.4 L781.6 1130.2 L783.1 1130.6 L784.6 1131.1 L786.1 1131.4 L787.6 1131.9 L789.1 1132.3 L790.6 1132.8 L792.1 1133.3 L793.6 1133.7 L795.1 1134.2 L796.6 1134.7 L798.1 1135 L799.6 1135.5 L801.1 1136 L802.6 1136.4 L804.1 1136.9 L805.6 1137.3 L807.1 1137.8 L808.6 1138.2 L810.1 1138.6 L811.6 1139.2 L813.1 1139.7 L814.6 1140 L816.1 1140.5 L817.6 1140.9 L819.1 1141.3 L820.6 1141.9 L822.1 1142.2 L823.6 1142.8 L825.1 1143.1 L826.6 1143.6 L828.1 1144 L829.6 1144.4 L831.1 1144.9 L832.6 1145.3 L834.1 1145.8 L835.6 1146.2 L837.1 1146.6 L838.6 1147.1 L840.1 1147.5 L841.6 1148 L843.1 1148.1 L844.6 1148.3 L846.5 1121 L848 1121.2 L849.5 1121.3 L851 1121.5 L852.5 1121.8 L854 1122 L855.5 1122.1 L857 1122.3 L858.6 1122.5 L860.1 1122.8 L861.6 1123.4 L863.1 1123.8 L864.6 1124.2 L866.1 1124.8 L867.6 1125.2 L869.1 1125.7 L870.6 1126.1 L872.1 1126.6 L873.6 1127 L875.1 1127.7 L876.6 1128 L878.1 1128.5 L879.7 1129 L881.2 1129.4 L882.7 1129.9 L884.2 1130.5 L885.7 1130.8 L887.2 1131.2 L888.7 1131.7 L890.2 1132.2 L891.7 1132.8 L893.2 1133.2 L894.7 1133.6 L896.2 1134.1 L897.7 1134.6 L899.2 1135.1 L900.7 1135.4 L902.3 1136 L903.8 1136.3 L905.3 1136.9 L906.8 1137.2 L908.3 1137.7 L909.8 1138 L911.3 1138.5 L912.8 1139.1 L914.3 1139.5 L915.8 1139.8 L917.3 1140.2 L918.8 1140.6 L920.3 1141.1 L921.8 1141.6 L923.4 1142 L924.9 1142.5 L926.4 1142.8 L927.9 1143.3 L929.4 1143.8 L930.9 1144.1 L932.4 1144.3 L933.9 1144.4 L935.7 1121 L937.2 1121.1 L938.7 1121.2 L940.2 1121.3 L941.8 1121.4 L943.3 1121.5 L944.8 1121.6 L946.3 1121.7 L947.8 1121.9 L949.3 1122.3 L950.9 1122.7 L952.4 1123.1 L953.9 1123.5 L955.4 1123.9 L956.9 1124.4 L958.4 1124.8 L959.9 1125.2 L961.5 1125.7 L963 1126 L964.5 1126.5 L966 1126.9 L967.5 1127.3 L969 1127.8 L970.5 1128.2 L972.1 1128.6 L973.6 1129 L975.1 1129.5 L976.6 1129.8 L978.1 1130.3 L979.6 1130.7 L981.2 1131.2 L982.7 1131.5 L984.2 1132 L985.7 1132.4 L987.2 1132.9 L988.7 1133.3 L990.2 1133.7 L991.8 1134 L993.3 1134.6 L994.8 1135 L996.3 1135.4 L997.8 1135.8 L999.3 1136.2 L1000.9 1136.7 L1002.4 1137 L1003.9 1137.1 L1005.4 1137.2 L1007.2 1121.8 L1008.7 1121.8 L1010.2 1121.9 L1011.7 1121.9 L1013.2 1121.8 L1014.7 1121.7 L1016.3 1121.8 L1017.8 1121.8 L1019.3 1121.7 L1020.8 1121.8 L1022.3 1121.7 L1023.8 1121.7 L1025.3 1122.1 L1026.8 1122.6 L1028.3 1122.9 L1029.8 1123.3 L1031.4 1123.8 L1032.9 1124.1 L1034.4 1124.4 L1035.9 1124.8 L1037.4 1125.1 L1038.9 1125.5 L1040.4 1126 L1041.9 1126.3 L1043.4 1126.7 L1044.9 1127.1 L1046.4 1127.4 L1048 1127.8 L1049.5 1128.2 L1051 1128.6 L1052.5 1129 L1054 1129.4 L1055.5 1129.7 L1057 1130.1 L1058.5 1130.4 L1060 1130.8 L1061.5 1131.3 L1063 1131.6 L1064.6 1132 L1066.1 1132.3 L1067.6 1132.7 L1069.1 1133.1 L1070.6 1133.5 L1072.1 1133.8 L1073.6 1134.2 L1075.1 1134.7 L1076.6 1135 L1078.1 1135.4 L1079.7 1135.8 L1081.2 1136.2 L1082.7 1136.4 L1084.2 1136.9 L1085.7 1137 L1087.2 1137.1 L1089 1118.6 L1090.5 1118.7 L1092 1118.8 L1093.5 1118.9 L1095 1119 L1096.5 1119 L1098 1119.1 L1099.5 1119.2 L1101 1119.4 L1102.6 1119.4 L1104.1 1119.6 L1105.6 1120.1 L1107.1 1120.6 L1108.6 1120.9 L1110.1 1121.4 L1111.6 1121.7 L1113.1 1122.2 L1114.6 1122.7 L1116.1 1123.3 L1117.6 1123.9 L1119.1 1124.4 L1120.6 1125 L1122.1 1125.7 L1123.6 1126.3 L1125.1 1126.8 L1126.6 1127.5 L1128.2 1128.1 L1129.7 1128.7 L1131.2 1129.3 L1132.7 1129.9 L1134.2 1130.5 L1135.7 1131.1 L1137.2 1131.6 L1138.7 1132.2 L1140.2 1132.8 L1141.7 1133.2 L1143.2 1133.8 L1144.7 1134.3 L1146.2 1134.7 L1147.7 1135.2 L1149.2 1135.7 L1150.7 1136.3 L1152.2 1136.7 L1153.7 1137.2 L1155.3 1137.8 L1156.8 1138.3 L1158.3 1138.8 L1159.8 1139.2 L1161.3 1139.7 L1162.8 1140.2 L1164.3 1140.6 L1165.8 1141.1 L1167.3 1141.6 L1168.8 1142.1 L1170.3 1142.5 L1171.8 1142.9 L1173.3 1143.4 L1174.8 1144 L1176.3 1144.4 L1177.8 1144.9 L1179.3 1145.4 L1180.9 1145.8 L1182.4 1146.3 L1183.9 1146.8 L1185.4 1147.2 L1186.9 1147.7 L1188.4 1148.1 L1189.9 1148.7 L1191.4 1149.1 L1192.9 1149.5 L1194.4 1150 L1195.9 1150.5 L1197.4 1151 L1198.9 1151.4 L1200.4 1151.9 L1201.9 1152.4 L1203.4 1153 L1204.9 1153.4 L1206.4 1153.8 L1208 1154.3 L1209.5 1154.9 L1211 1155.2 L1212.5 1155.7 L1214 1156.2 L1215.5 1156.7 L1217 1157.1 L1218.5 1157.5 L1220 1158.1 L1221.5 1158.6 L1223 1159 L1224.5 1159.5 L1226 1159.8 L1227.5 1160.4 L1229 1160.9 L1230.5 1161.4 L1232 1161.8 L1233.6 1162.3 L1235.1 1162.7 L1236.6 1163.1 L1238.1 1162.9 L1239.6 1162.8 L1241.1 1162.7 L1242.6 1162.6 L1244.1 1162.4 L1245.6 1162.4 L1247.4 1129.7 L1248.9 1130.1 L1250.4 1130.5 L1252 1130.7 L1253.5 1130.9 L1255 1131.3 L1256.5 1131.6 L1258.1 1132 L1259.6 1132.4 L1261.1 1132.7 L1262.6 1133.3 L1264.2 1133.6 L1265.7 1134.1 L1267.2 1134.5 L1268.7 1134.9 L1270.2 1135.3 L1271.8 1135.7 L1273.3 1136.2 L1274.8 1136.5 L1276.3 1137 L1277.9 1137.6 L1279.4 1138 L1280.9 1138.4 L1282.4 1138.8 L1284 1139.1 L1285.5 1139.6 L1287 1140 L1288.5 1140.4 L1290 1140.8 L1291.6 1141.3 L1293.1 1141.7 L1294.6 1142.1 L1296.1 1142.5 L1297.7 1142.9 L1299.2 1143.5 L1300.7 1143.8 L1302.2 1144.2 L1303.8 1144.7 L1305.3 1145.1 L1306.8 1145.4 L1308.3 1145.9 L1309.8 1146.4 L1311.4 1146.8 L1312.9 1147.2 L1314.4 1147.7 L1315.9 1148 L1317.5 1148.4 L1319 1148.8 L1320.5 1148.9 L1322 1148.8 L1323.6 1148.9 L1325.1 1149 L1326.6 1149.1 L1328.4 1126.6 L1329.9 1126.9 L1331.4 1127 L1332.9 1127.4 L1334.5 1127.6 L1336 1127.8 L1337.5 1128.1 L1339 1128.3 L1340.5 1128.4 L1342 1128.8 L1343.5 1129.1 L1345.1 1129.6 L1346.6 1130 L1348.1 1130.5 L1349.6 1131 L1351.1 1131.3 L1352.6 1131.7 L1354.1 1132.2 L1355.6 1132.6 L1357.2 1133 L1358.7 1133.6 L1360.2 1134 L1361.7 1134.3 L1363.2 1134.9 L1364.7 1135.3 L1366.2 1135.8 L1367.8 1136.2 L1369.3 1136.7 L1370.8 1137.1 L1372.3 1137.6 L1373.8 1138 L1375.3 1138.4 L1376.8 1138.9 L1378.4 1139.2 L1379.9 1139.7 L1381.4 1140.1 L1382.9 1140.6 L1384.4 1141 L1385.9 1141.6 L1387.4 1141.9 L1389 1142.3 L1390.5 1142.7 L1392 1143.2 L1393.5 1143.7 L1395 1144.1 L1396.5 1144.6 L1398 1145 L1399.6 1145.5 L1401.1 1145.8 L1402.6 1146.3 L1404.1 1146.8 L1405.6 1147.3 L1407.1 1147.6 L1408.6 1148.1 L1410.1 1148.5 L1411.7 1149 L1413.2 1149.3 L1414.7 1149.8 L1416.2 1150.3 L1417.7 1150.7 L1419.2 1151.1 L1420.7 1151.6 L1422.3 1151.9 L1423.8 1152 L1425.3 1152.2 L1426.8 1152.3 L1428.4 1124.9 L1429.9 1124.9 L1431.4 1125.1 L1432.9 1125.3 L1434.5 1125.4 L1436 1125.5 L1437.5 1125.6 L1439 1125.9 L1440.5 1126.2 L1442 1126.7 L1443.6 1127.1 L1445.1 1127.7 L1446.6 1128.1 L1448.1 1128.6 L1449.6 1128.9 L1451.1 1129.5 L1452.6 1129.8 L1454.2 1130.3 L1455.7 1130.9 L1457.2 1131.2 L1458.7 1131.6 L1460.2 1132.1 L1461.7 1132.6 L1463.3 1133.1 L1464.8 1133.4 L1466.3 1133.8 L1467.8 1134.3 L1469.3 1134.8 L1470.8 1135.2 L1472.3 1135.8 L1473.9 1136.2 L1475.4 1136.6 L1476.9 1137 L1478.4 1137.5 L1479.9 1138 L1481.4 1138.4 L1482.9 1138.8 L1484.5 1139.3 L1486 1139.8 L1487.5 1140.1 L1489 1140.6 L1490.5 1141.1 L1492 1141.6 L1493.6 1141.9 L1495.1 1142.4 L1496.6 1142.9 L1498.1 1143.3 L1499.6 1143.8 L1501.1 1144.2 L1502.6 1144.7 L1504.2 1145.2 L1505.7 1145.5 L1507.2 1146 L1508.7 1146.5 L1510.2 1146.8 L1511.7 1147.4 L1513.3 1147.7 L1514.8 1148.3 L1516.3 1148.8 L1517.8 1148.9 L1521.1 1122.5 L1522.6 1122.8 L1524.2 1123 L1525.7 1123.3 L1527.2 1123.6 L1528.7 1123.7 L1530.3 1124.1 L1531.8 1124.3 L1533.3 1124.6 L1534.9 1124.8 L1536.4 1125.2 L1537.9 1125.6 L1539.4 1126.1 L1541 1126.5 L1542.5 1127 L1544 1127.4 L1545.5 1127.7 L1547.1 1128.3 L1548.6 1128.8 L1550.1 1129.2 L1551.7 1129.6 L1553.2 1130.1 L1554.7 1130.5 L1556.2 1130.9 L1557.8 1131.4 L1559.3 1131.9 L1560.8 1132.2 L1562.4 1132.8 L1563.9 1133.1 L1565.4 1133.6 L1566.9 1134.1 L1568.5 1134.5 L1570 1134.9 L1571.5 1135.4 L1573 1135.9 L1574.6 1136.3 L1576.1 1136.7 L1577.6 1137.2 L1579.2 1137.7 L1580.7 1138 L1582.2 1138.5 L1583.7 1138.9 L1585.3 1139.2 L1586.8 1139.4 L1589.4 1121.7 L1595.6 1121.7" stroke="#3450a4" stroke-width="4.5" fill="none" stroke-linejoin="round" stroke-linecap="butt"/><rect x="156.4" y="35.7" width="1439.2" height="576.8" fill="none" stroke="#2e3030" stroke-width="1.8"/><text x="144.2" y="623.8" text-anchor="end" font-family="DejaVu Sans, sans-serif" font-size="31">0</text><text x="144.2" y="335.4" text-anchor="end" font-family="DejaVu Sans, sans-serif" font-size="31">80</text><text x="144.2" y="47" text-anchor="end" font-family="DejaVu Sans, sans-serif" font-size="31">160</text><text x="1608.1" y="47" font-family="DejaVu Sans, sans-serif" font-size="31">1.0</text><text x="1608.1" y="119.1" font-family="DejaVu Sans, sans-serif" font-size="31">0.75</text><text x="1608.1" y="191.2" font-family="DejaVu Sans, sans-serif" font-size="31">0.5</text><text x="1608.1" y="263.3" font-family="DejaVu Sans, sans-serif" font-size="31">0.25</text><text x="1608.1" y="335.4" font-family="DejaVu Sans, sans-serif" font-size="31">1.0</text><text x="1608.1" y="407.5" font-family="DejaVu Sans, sans-serif" font-size="31">0.75</text><text x="1608.1" y="479.6" font-family="DejaVu Sans, sans-serif" font-size="31">0.5</text><text x="1608.1" y="551.7" font-family="DejaVu Sans, sans-serif" font-size="31">0.25</text><text x="1608.1" y="623.8" font-family="DejaVu Sans, sans-serif" font-size="31">0.0</text><text x="155.9" y="658" text-anchor="middle" font-family="DejaVu Sans, sans-serif" font-size="31">2000</text><text x="395.8" y="658" text-anchor="middle" font-family="DejaVu Sans, sans-serif" font-size="31">3000</text><text x="635.6" y="658" text-anchor="middle" font-family="DejaVu Sans, sans-serif" font-size="31">4000</text><text x="875.5" y="658" text-anchor="middle" font-family="DejaVu Sans, sans-serif" font-size="31">5000</text><text x="1115.4" y="658" text-anchor="middle" font-family="DejaVu Sans, sans-serif" font-size="31">6000</text><text x="1355.2" y="658" text-anchor="middle" font-family="DejaVu Sans, sans-serif" font-size="31">7000</text><text x="1595.1" y="658" text-anchor="middle" font-family="DejaVu Sans, sans-serif" font-size="31">8000</text><path d="M149.9 612.5H156.4M149.9 324.1H156.4M149.9 35.7H156.4M1595.6 35.7H1602.1M1595.6 107.8H1602.1M1595.6 179.9H1602.1M1595.6 252H1602.1M1595.6 324.1H1602.1M1595.6 396.2H1602.1M1595.6 468.3H1602.1M1595.6 540.4H1602.1M1595.6 612.5H1602.1M156.4 612.5V619M396.3 612.5V619M636.1 612.5V619M876 612.5V619M1115.9 612.5V619M1355.7 612.5V619M1595.6 612.5V619" stroke="#2e3030" stroke-width="1.8"/><text x="875" y="695.8" text-anchor="middle" font-family="DejaVu Sans, sans-serif" font-size="31">Time [ms]</text><text transform="translate(69.4 324.8) rotate(-90)" text-anchor="middle" font-family="DejaVu Sans, sans-serif" font-size="31"># cell</text><text x="1729.5" y="121.3" text-anchor="middle" font-family="DejaVu Sans, sans-serif" font-size="40" fill="#ec1c24">x</text><text x="1729.5" y="237.2" text-anchor="middle" font-family="DejaVu Sans, sans-serif" font-size="40" fill="#3450a4">u</text><text x="1729.5" y="409.7" text-anchor="middle" font-family="DejaVu Sans, sans-serif" font-size="40" fill="#ec1c24">x</text><text x="1729.5" y="525.6" text-anchor="middle" font-family="DejaVu Sans, sans-serif" font-size="40" fill="#3450a4">u</text><rect x="156.4" y="744.9" width="1439.2" height="576.8" fill="none" stroke="#2e3030" stroke-width="1.8"/><text x="144.2" y="1333" text-anchor="end" font-family="DejaVu Sans, sans-serif" font-size="31">0</text><text x="144.2" y="1044.5" text-anchor="end" font-family="DejaVu Sans, sans-serif" font-size="31">80</text><text x="144.2" y="756.1" text-anchor="end" font-family="DejaVu Sans, sans-serif" font-size="31">160</text><text x="1608.1" y="756.1" font-family="DejaVu Sans, sans-serif" font-size="31">1.0</text><text x="1608.1" y="828.2" font-family="DejaVu Sans, sans-serif" font-size="31">0.75</text><text x="1608.1" y="900.3" font-family="DejaVu Sans, sans-serif" font-size="31">0.5</text><text x="1608.1" y="972.4" font-family="DejaVu Sans, sans-serif" font-size="31">0.25</text><text x="1608.1" y="1044.5" font-family="DejaVu Sans, sans-serif" font-size="31">1.0</text><text x="1608.1" y="1116.6" font-family="DejaVu Sans, sans-serif" font-size="31">0.75</text><text x="1608.1" y="1188.8" font-family="DejaVu Sans, sans-serif" font-size="31">0.5</text><text x="1608.1" y="1260.9" font-family="DejaVu Sans, sans-serif" font-size="31">0.25</text><text x="1608.1" y="1333" font-family="DejaVu Sans, sans-serif" font-size="31">0.0</text><text x="155.9" y="1367.2" text-anchor="middle" font-family="DejaVu Sans, sans-serif" font-size="31">2000</text><text x="395.8" y="1367.2" text-anchor="middle" font-family="DejaVu Sans, sans-serif" font-size="31">3000</text><text x="635.6" y="1367.2" text-anchor="middle" font-family="DejaVu Sans, sans-serif" font-size="31">4000</text><text x="875.5" y="1367.2" text-anchor="middle" font-family="DejaVu Sans, sans-serif" font-size="31">5000</text><text x="1115.4" y="1367.2" text-anchor="middle" font-family="DejaVu Sans, sans-serif" font-size="31">6000</text><text x="1355.2" y="1367.2" text-anchor="middle" font-family="DejaVu Sans, sans-serif" font-size="31">7000</text><text x="1595.1" y="1367.2" text-anchor="middle" font-family="DejaVu Sans, sans-serif" font-size="31">8000</text><path d="M149.9 1321.7H156.4M149.9 1033.2H156.4M149.9 744.9H156.4M1595.6 744.9H1602.1M1595.6 817H1602.1M1595.6 889H1602.1M1595.6 961.1H1602.1M1595.6 1033.2H1602.1M1595.6 1105.3H1602.1M1595.6 1177.5H1602.1M1595.6 1249.6H1602.1M1595.6 1321.7H1602.1M156.4 1321.7V1328.2M396.3 1321.7V1328.2M636.1 1321.7V1328.2M876 1321.7V1328.2M1115.9 1321.7V1328.2M1355.7 1321.7V1328.2M1595.6 1321.7V1328.2" stroke="#2e3030" stroke-width="1.8"/><text x="875" y="1405" text-anchor="middle" font-family="DejaVu Sans, sans-serif" font-size="31">Time [ms]</text><text transform="translate(69.4 1034) rotate(-90)" text-anchor="middle" font-family="DejaVu Sans, sans-serif" font-size="31"># cell</text><text x="1729.5" y="830.4" text-anchor="middle" font-family="DejaVu Sans, sans-serif" font-size="40" fill="#ec1c24">x</text><text x="1729.5" y="946.3" text-anchor="middle" font-family="DejaVu Sans, sans-serif" font-size="40" fill="#3450a4">u</text><text x="1729.5" y="1118.8" text-anchor="middle" font-family="DejaVu Sans, sans-serif" font-size="40" fill="#ec1c24">x</text><text x="1729.5" y="1234.8" text-anchor="middle" font-family="DejaVu Sans, sans-serif" font-size="40" fill="#3450a4">u</text><text x="20.5" y="35.2" font-family="Liberation Sans, Arial, sans-serif" font-weight="bold" font-size="31">A</text><text x="20.5" y="749.3" font-family="Liberation Sans, Arial, sans-serif" font-weight="bold" font-size="31">B</text></svg></body></html>
